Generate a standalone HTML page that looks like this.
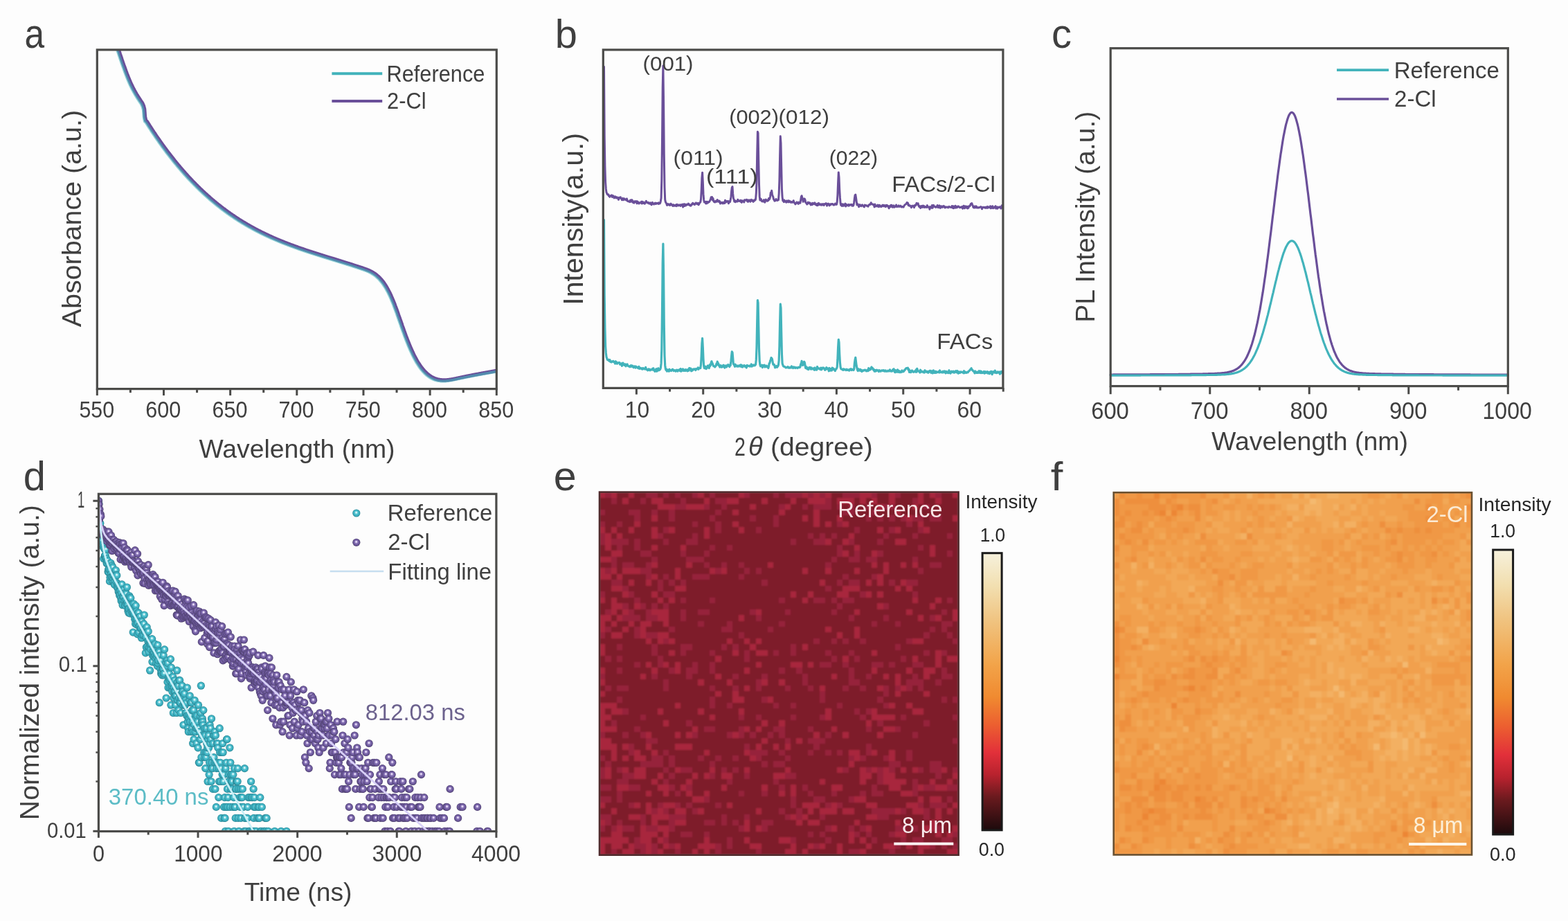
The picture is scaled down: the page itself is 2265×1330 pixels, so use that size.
<!DOCTYPE html>
<html><head><meta charset="utf-8"><title>Figure</title>
<style>html,body{margin:0;padding:0;background:#fdfdfd;}svg{display:block;}text{font-family:"Liberation Sans",Arial,sans-serif;}</style>
</head><body>
<svg width="2265" height="1330" viewBox="0 0 2265 1330">
<rect x="0" y="0" width="2265" height="1330" fill="#fdfdfd"/>
<clipPath id="ca"><rect x="140.3" y="71.9" width="577.0" height="489.70000000000005"/></clipPath>
<g clip-path="url(#ca)">
<path d="M167.0,59.2 L167.7,61.1 L168.3,63.1 L169.0,65.0 L169.6,66.9 L170.3,68.9 L170.9,70.8 L171.6,72.8 L172.2,74.7 L172.9,76.7 L173.5,78.6 L174.2,80.6 L174.8,82.5 L175.5,84.5 L176.1,86.4 L176.8,88.3 L177.4,90.2 L178.1,92.1 L178.7,93.9 L179.4,95.8 L180.1,97.6 L180.7,99.5 L181.4,101.3 L182.0,103.0 L182.7,104.8 L183.3,106.5 L184.0,108.2 L184.6,109.9 L185.3,111.5 L185.9,113.1 L186.6,114.7 L187.2,116.2 L187.9,117.7 L188.5,119.2 L189.2,120.7 L189.8,122.1 L190.5,123.4 L191.1,124.8 L191.8,126.1 L192.4,127.4 L193.1,128.6 L193.8,129.9 L194.4,131.1 L195.1,132.2 L195.7,133.4 L196.4,134.5 L197.0,135.7 L197.7,136.7 L198.3,137.8 L199.0,138.9 L199.6,139.9 L200.3,140.9 L200.9,141.9 L201.6,142.9 L202.2,143.9 L202.9,144.9 L203.5,145.8 L204.2,146.8 L204.8,147.7 L205.5,148.6 L207.4,152.9 L208.6,157.4 L209.0,162.4 L209.4,168.4 L210.6,173.9 L212.1,175.2 L212.9,176.4 L213.7,177.6 L214.5,178.9 L215.2,180.1 L216.0,181.3 L216.8,182.6 L217.6,183.8 L218.4,185.0 L219.2,186.2 L219.9,187.4 L220.7,188.6 L221.5,189.8 L222.3,191.0 L223.1,192.1 L223.9,193.3 L224.7,194.5 L225.4,195.6 L226.2,196.8 L227.0,197.9 L227.8,199.1 L228.6,200.2 L229.4,201.3 L230.2,202.4 L230.9,203.6 L231.7,204.7 L232.5,205.8 L233.3,206.9 L234.1,208.0 L234.9,209.1 L235.6,210.2 L236.4,211.3 L237.2,212.3 L238.0,213.4 L238.8,214.5 L239.6,215.5 L240.4,216.6 L241.1,217.6 L241.9,218.7 L242.7,219.7 L243.5,220.7 L244.3,221.8 L245.1,222.8 L245.9,223.8 L246.6,224.8 L247.4,225.8 L248.2,226.8 L249.0,227.8 L249.8,228.8 L250.6,229.8 L251.3,230.8 L252.1,231.8 L252.9,232.7 L253.7,233.7 L254.5,234.7 L255.3,235.6 L256.1,236.6 L256.8,237.5 L257.6,238.5 L258.4,239.4 L259.2,240.3 L260.0,241.3 L260.8,242.2 L261.6,243.1 L262.3,244.0 L263.1,244.9 L263.9,245.8 L264.7,246.7 L265.5,247.6 L266.3,248.5 L267.0,249.4 L267.8,250.3 L268.6,251.2 L269.4,252.0 L270.2,252.9 L271.0,253.8 L271.8,254.6 L272.5,255.5 L273.3,256.3 L274.1,257.2 L274.9,258.0 L275.7,258.8 L276.5,259.7 L277.3,260.5 L278.0,261.3 L278.8,262.1 L279.6,262.9 L280.4,263.7 L281.2,264.6 L282.0,265.3 L282.7,266.1 L283.5,266.9 L284.3,267.7 L285.1,268.5 L285.9,269.3 L286.7,270.1 L287.5,270.8 L288.2,271.6 L289.0,272.3 L289.8,273.1 L290.6,273.9 L291.4,274.6 L292.2,275.3 L293.0,276.1 L293.7,276.8 L294.5,277.5 L295.3,278.3 L296.1,279.0 L296.9,279.7 L297.7,280.4 L298.4,281.1 L299.2,281.8 L300.0,282.5 L300.8,283.2 L301.6,283.9 L302.4,284.6 L303.2,285.3 L303.9,286.0 L304.7,286.7 L305.5,287.4 L306.3,288.0 L307.1,288.7 L307.9,289.4 L308.7,290.0 L309.4,290.7 L310.2,291.3 L311.0,292.0 L311.8,292.6 L312.6,293.3 L313.4,293.9 L314.1,294.5 L314.9,295.2 L315.7,295.8 L316.5,296.4 L317.3,297.0 L318.1,297.6 L318.9,298.3 L319.6,298.9 L320.4,299.5 L321.2,300.1 L322.0,300.7 L322.8,301.3 L323.6,301.9 L324.4,302.4 L325.1,303.0 L325.9,303.6 L326.7,304.2 L327.5,304.8 L328.3,305.3 L329.1,305.9 L329.8,306.5 L330.6,307.0 L331.4,307.6 L332.2,308.1 L333.0,308.7 L333.8,309.2 L334.6,309.8 L335.3,310.3 L336.1,310.8 L336.9,311.4 L337.7,311.9 L338.5,312.4 L339.3,313.0 L340.1,313.5 L340.8,314.0 L341.6,314.5 L342.4,315.0 L343.2,315.5 L344.0,316.1 L344.8,316.6 L345.5,317.1 L346.3,317.6 L347.1,318.0 L347.9,318.5 L348.7,319.0 L349.5,319.5 L350.3,320.0 L351.0,320.5 L351.8,321.0 L352.6,321.4 L353.4,321.9 L354.2,322.4 L355.0,322.8 L355.8,323.3 L356.5,323.8 L357.3,324.2 L358.1,324.7 L358.9,325.1 L359.7,325.6 L360.5,326.0 L361.2,326.5 L362.0,326.9 L362.8,327.3 L363.6,327.8 L364.4,328.2 L365.2,328.6 L366.0,329.1 L366.7,329.5 L367.5,329.9 L368.3,330.3 L369.1,330.8 L369.9,331.2 L370.7,331.6 L371.5,332.0 L372.2,332.4 L373.0,332.8 L373.8,333.2 L374.6,333.6 L375.4,334.0 L376.2,334.4 L376.9,334.8 L377.7,335.2 L378.5,335.6 L379.3,336.0 L380.1,336.4 L380.9,336.8 L381.7,337.1 L382.4,337.5 L383.2,337.9 L384.0,338.3 L384.8,338.6 L385.6,339.0 L386.4,339.4 L387.2,339.8 L387.9,340.1 L388.7,340.5 L389.5,340.8 L390.3,341.2 L391.1,341.6 L391.9,341.9 L392.6,342.3 L393.4,342.6 L394.2,343.0 L395.0,343.3 L395.8,343.7 L396.6,344.0 L397.4,344.3 L398.1,344.7 L398.9,345.0 L399.7,345.3 L400.5,345.7 L401.3,346.0 L402.1,346.3 L402.8,346.7 L403.6,347.0 L404.4,347.3 L405.2,347.6 L406.0,348.0 L406.8,348.3 L407.6,348.6 L408.3,348.9 L409.1,349.2 L409.9,349.6 L410.7,349.9 L411.5,350.2 L412.3,350.5 L413.1,350.8 L413.8,351.1 L414.6,351.4 L415.4,351.7 L416.2,352.0 L417.0,352.3 L417.8,352.6 L418.5,352.9 L419.3,353.2 L420.1,353.5 L420.9,353.8 L421.7,354.1 L422.5,354.4 L423.3,354.7 L424.0,354.9 L424.8,355.2 L425.6,355.5 L426.4,355.8 L427.2,356.1 L428.0,356.4 L428.8,356.6 L429.5,356.9 L430.3,357.2 L431.1,357.5 L431.9,357.8 L432.7,358.0 L433.5,358.3 L434.2,358.6 L435.0,358.9 L435.8,359.1 L436.6,359.4 L437.4,359.7 L438.2,359.9 L439.0,360.2 L439.7,360.5 L440.5,360.7 L441.3,361.0 L442.1,361.3 L442.9,361.5 L443.7,361.8 L444.5,362.0 L445.2,362.3 L446.0,362.6 L446.8,362.8 L447.6,363.1 L448.4,363.3 L449.2,363.6 L449.9,363.8 L450.7,364.1 L451.5,364.4 L452.3,364.6 L453.1,364.9 L453.9,365.1 L454.7,365.4 L455.4,365.6 L456.2,365.9 L457.0,366.1 L457.8,366.4 L458.6,366.6 L459.4,366.9 L460.2,367.1 L460.9,367.4 L461.7,367.6 L462.5,367.9 L463.3,368.1 L464.1,368.3 L464.9,368.6 L465.6,368.8 L466.4,369.1 L467.2,369.3 L468.0,369.6 L468.8,369.8 L469.6,370.1 L470.4,370.3 L471.1,370.5 L471.9,370.8 L472.7,371.0 L473.5,371.3 L474.3,371.5 L475.1,371.8 L475.9,372.0 L476.6,372.2 L477.4,372.5 L478.2,372.7 L479.0,373.0 L479.8,373.2 L480.6,373.4 L481.3,373.7 L482.1,373.9 L482.9,374.2 L483.7,374.4 L484.5,374.7 L485.3,374.9 L486.1,375.1 L486.8,375.4 L487.6,375.6 L488.4,375.9 L489.2,376.1 L490.0,376.3 L490.8,376.6 L491.6,376.8 L492.3,377.1 L493.1,377.3 L493.9,377.6 L494.7,377.8 L495.5,378.0 L496.3,378.3 L497.0,378.5 L497.8,378.8 L498.6,379.0 L499.4,379.3 L500.2,379.5 L501.0,379.8 L501.8,380.0 L502.5,380.3 L503.3,380.5 L504.1,380.7 L504.9,381.0 L505.7,381.2 L506.5,381.5 L507.3,381.7 L508.0,382.0 L508.8,382.2 L509.6,382.5 L510.4,382.8 L511.2,383.0 L512.0,383.3 L512.7,383.5 L513.5,383.8 L514.3,384.0 L515.1,384.3 L515.9,384.5 L516.7,384.8 L517.5,385.1 L518.2,385.3 L519.0,385.6 L519.8,385.8 L520.6,386.1 L521.4,386.4 L522.2,386.6 L523.0,386.9 L523.7,387.2 L524.5,387.4 L525.3,387.7 L526.1,388.0 L526.9,388.2 L527.7,388.5 L528.4,388.8 L529.2,389.1 L530.0,389.4 L530.8,389.7 L531.6,390.0 L532.4,390.4 L533.2,390.7 L533.9,391.0 L534.7,391.4 L535.5,391.8 L536.3,392.2 L537.1,392.6 L537.9,393.1 L538.7,393.5 L539.4,394.0 L540.2,394.5 L541.0,395.0 L541.8,395.6 L542.6,396.1 L543.4,396.7 L544.1,397.3 L544.9,398.0 L545.7,398.7 L546.5,399.4 L547.3,400.1 L548.1,400.9 L548.9,401.7 L549.6,402.5 L550.4,403.4 L551.2,404.3 L552.0,405.2 L552.8,406.2 L553.6,407.2 L554.4,408.3 L555.1,409.4 L555.9,410.6 L556.7,411.8 L557.5,413.0 L558.3,414.3 L559.1,415.6 L559.8,417.0 L560.6,418.4 L561.4,419.9 L562.2,421.4 L563.0,423.0 L563.8,424.6 L564.6,426.3 L565.3,428.0 L566.1,429.8 L566.9,431.7 L567.7,433.6 L568.5,435.5 L569.3,437.5 L570.1,439.5 L570.8,441.6 L571.6,443.7 L572.4,445.8 L573.2,448.0 L574.0,450.1 L574.8,452.3 L575.5,454.6 L576.3,456.8 L577.1,459.0 L577.9,461.3 L578.7,463.5 L579.5,465.8 L580.3,468.0 L581.0,470.3 L581.8,472.5 L582.6,474.7 L583.4,477.0 L584.2,479.1 L585.0,481.3 L585.7,483.5 L586.5,485.6 L587.3,487.6 L588.1,489.7 L588.9,491.7 L589.7,493.7 L590.5,495.6 L591.2,497.6 L592.0,499.4 L592.8,501.3 L593.6,503.1 L594.4,504.9 L595.2,506.6 L596.0,508.3 L596.7,510.0 L597.5,511.6 L598.3,513.2 L599.1,514.7 L599.9,516.2 L600.7,517.7 L601.4,519.1 L602.2,520.5 L603.0,521.9 L603.8,523.2 L604.6,524.4 L605.4,525.7 L606.2,526.8 L606.9,528.0 L607.7,529.1 L608.5,530.2 L609.3,531.2 L610.1,532.2 L610.9,533.2 L611.7,534.1 L612.4,535.0 L613.2,535.9 L614.0,536.7 L614.8,537.5 L615.6,538.3 L616.4,539.0 L617.1,539.7 L617.9,540.4 L618.7,541.0 L619.5,541.6 L620.3,542.2 L621.1,542.8 L621.9,543.3 L622.6,543.8 L623.4,544.3 L624.2,544.7 L625.0,545.1 L625.8,545.5 L626.6,545.9 L627.4,546.3 L628.1,546.6 L628.9,546.9 L629.7,547.2 L630.5,547.4 L631.3,547.7 L632.1,547.9 L632.8,548.1 L633.6,548.2 L634.4,548.4 L635.2,548.5 L636.0,548.6 L636.8,548.7 L637.6,548.8 L638.3,548.9 L639.1,549.0 L639.9,549.0 L640.7,549.0 L641.5,549.0 L642.3,549.0 L643.1,549.0 L643.8,549.0 L644.6,548.9 L645.4,548.9 L646.2,548.8 L647.0,548.7 L647.8,548.6 L648.5,548.5 L649.3,548.4 L650.1,548.3 L650.9,548.2 L651.7,548.1 L652.5,547.9 L653.3,547.8 L654.0,547.7 L654.8,547.5 L655.6,547.3 L656.4,547.2 L657.2,547.0 L658.0,546.9 L658.8,546.7 L659.5,546.5 L660.3,546.4 L661.1,546.2 L661.9,546.0 L662.7,545.8 L663.5,545.7 L664.2,545.5 L665.0,545.3 L665.8,545.2 L666.6,545.0 L667.4,544.8 L668.2,544.7 L669.0,544.5 L669.7,544.4 L670.5,544.2 L671.3,544.0 L672.1,543.9 L672.9,543.7 L673.7,543.5 L674.5,543.4 L675.2,543.2 L676.0,543.1 L676.8,542.9 L677.6,542.8 L678.4,542.6 L679.2,542.5 L679.9,542.3 L680.7,542.1 L681.5,542.0 L682.3,541.8 L683.1,541.7 L683.9,541.5 L684.7,541.4 L685.4,541.2 L686.2,541.1 L687.0,540.9 L687.8,540.8 L688.6,540.6 L689.4,540.5 L690.2,540.3 L690.9,540.2 L691.7,540.0 L692.5,539.9 L693.3,539.8 L694.1,539.6 L694.9,539.5 L695.6,539.3 L696.4,539.2 L697.2,539.0 L698.0,538.9 L698.8,538.7 L699.6,538.6 L700.4,538.5 L701.1,538.3 L701.9,538.2 L702.7,538.0 L703.5,537.9 L704.3,537.8 L705.1,537.6 L705.9,537.5 L706.6,537.3 L707.4,537.2 L708.2,537.1 L709.0,536.9 L709.8,536.8 L710.6,536.6 L711.3,536.5 L712.1,536.4 L712.9,536.2 L713.7,536.1 L714.5,535.9 L715.3,535.8 L716.1,535.7 L716.8,535.5 L717.6,535.4 L718.4,535.2 L719.2,535.1 L720.0,535.0 L720.8,534.8 L721.6,534.7 L722.3,534.6 L723.1,534.4 L723.9,534.3 L724.7,534.1 L725.5,534.0 L726.3,533.9 L727.0,533.7 L727.8,533.6 L728.6,533.4 L729.4,533.3 L730.2,533.2 L731.0,533.0 L731.8,532.9 L732.5,532.8 L733.3,532.6 L734.1,532.5 L734.9,532.3 L735.7,532.2 L736.5,532.1 L737.3,531.9 L738.0,531.8 L738.8,531.6 L739.6,531.5 L740.4,531.3 L741.2,531.2 L742.0,531.1 L742.7,530.9 L743.5,530.8 L744.3,530.6 L745.1,530.5 L745.9,530.4 L746.7,530.2 L747.5,530.1 L748.2,529.9 L749.0,529.8 L749.8,529.6 L750.6,529.5 L751.4,529.3 L752.2,529.2 L753.0,529.0 L753.7,528.9 L754.5,528.7 L755.3,528.6 L756.1,528.5 L756.9,528.3 L757.7,528.2 L758.4,528.0 L759.2,527.9 L760.0,527.7 L760.8,527.5" fill="none" stroke="#6a4f99" stroke-width="5.4" stroke-linejoin="round" stroke-linecap="round" />
<path d="M165.3,60.7 L166.0,62.6 L166.6,64.6 L167.3,66.5 L167.9,68.4 L168.6,70.4 L169.2,72.3 L169.9,74.3 L170.5,76.2 L171.2,78.2 L171.8,80.1 L172.5,82.1 L173.1,84.0 L173.8,86.0 L174.4,87.9 L175.1,89.8 L175.7,91.7 L176.4,93.6 L177.0,95.4 L177.7,97.3 L178.4,99.1 L179.0,101.0 L179.7,102.8 L180.3,104.5 L181.0,106.3 L181.6,108.0 L182.3,109.7 L182.9,111.4 L183.6,113.0 L184.2,114.6 L184.9,116.2 L185.5,117.7 L186.2,119.2 L186.8,120.7 L187.5,122.2 L188.1,123.6 L188.8,124.9 L189.4,126.3 L190.1,127.6 L190.7,128.9 L191.4,130.1 L192.1,131.4 L192.7,132.6 L193.4,133.7 L194.0,134.9 L194.7,136.0 L195.3,137.2 L196.0,138.2 L196.6,139.3 L197.3,140.4 L197.9,141.4 L198.6,142.4 L199.2,143.4 L199.9,144.4 L200.5,145.4 L201.2,146.4 L201.8,147.3 L202.5,148.3 L203.1,149.2 L203.8,150.1 L205.7,154.4 L206.9,158.9 L207.3,163.9 L207.7,169.9 L208.9,175.4 L210.4,176.7 L211.2,177.9 L212.0,179.1 L212.8,180.4 L213.5,181.6 L214.3,182.8 L215.1,184.1 L215.9,185.3 L216.7,186.5 L217.5,187.7 L218.2,188.9 L219.0,190.1 L219.8,191.3 L220.6,192.5 L221.4,193.6 L222.2,194.8 L223.0,196.0 L223.7,197.1 L224.5,198.3 L225.3,199.4 L226.1,200.6 L226.9,201.7 L227.7,202.8 L228.5,203.9 L229.2,205.1 L230.0,206.2 L230.8,207.3 L231.6,208.4 L232.4,209.5 L233.2,210.6 L233.9,211.7 L234.7,212.8 L235.5,213.8 L236.3,214.9 L237.1,216.0 L237.9,217.0 L238.7,218.1 L239.4,219.1 L240.2,220.2 L241.0,221.2 L241.8,222.2 L242.6,223.3 L243.4,224.3 L244.2,225.3 L244.9,226.3 L245.7,227.3 L246.5,228.3 L247.3,229.3 L248.1,230.3 L248.9,231.3 L249.6,232.3 L250.4,233.3 L251.2,234.2 L252.0,235.2 L252.8,236.2 L253.6,237.1 L254.4,238.1 L255.1,239.0 L255.9,240.0 L256.7,240.9 L257.5,241.8 L258.3,242.8 L259.1,243.7 L259.9,244.6 L260.6,245.5 L261.4,246.4 L262.2,247.3 L263.0,248.2 L263.8,249.1 L264.6,250.0 L265.3,250.9 L266.1,251.8 L266.9,252.7 L267.7,253.5 L268.5,254.4 L269.3,255.3 L270.1,256.1 L270.8,257.0 L271.6,257.8 L272.4,258.7 L273.2,259.5 L274.0,260.3 L274.8,261.2 L275.6,262.0 L276.3,262.8 L277.1,263.6 L277.9,264.4 L278.7,265.2 L279.5,266.1 L280.3,266.8 L281.0,267.6 L281.8,268.4 L282.6,269.2 L283.4,270.0 L284.2,270.8 L285.0,271.6 L285.8,272.3 L286.5,273.1 L287.3,273.8 L288.1,274.6 L288.9,275.4 L289.7,276.1 L290.5,276.8 L291.3,277.6 L292.0,278.3 L292.8,279.0 L293.6,279.8 L294.4,280.5 L295.2,281.2 L296.0,281.9 L296.7,282.6 L297.5,283.3 L298.3,284.0 L299.1,284.7 L299.9,285.4 L300.7,286.1 L301.5,286.8 L302.2,287.5 L303.0,288.2 L303.8,288.9 L304.6,289.5 L305.4,290.2 L306.2,290.9 L307.0,291.5 L307.7,292.2 L308.5,292.8 L309.3,293.5 L310.1,294.1 L310.9,294.8 L311.7,295.4 L312.4,296.0 L313.2,296.7 L314.0,297.3 L314.8,297.9 L315.6,298.5 L316.4,299.1 L317.2,299.8 L317.9,300.4 L318.7,301.0 L319.5,301.6 L320.3,302.2 L321.1,302.8 L321.9,303.4 L322.7,303.9 L323.4,304.5 L324.2,305.1 L325.0,305.7 L325.8,306.3 L326.6,306.8 L327.4,307.4 L328.1,308.0 L328.9,308.5 L329.7,309.1 L330.5,309.6 L331.3,310.2 L332.1,310.7 L332.9,311.3 L333.6,311.8 L334.4,312.3 L335.2,312.9 L336.0,313.4 L336.8,313.9 L337.6,314.5 L338.4,315.0 L339.1,315.5 L339.9,316.0 L340.7,316.5 L341.5,317.0 L342.3,317.6 L343.1,318.1 L343.8,318.6 L344.6,319.1 L345.4,319.5 L346.2,320.0 L347.0,320.5 L347.8,321.0 L348.6,321.5 L349.3,322.0 L350.1,322.5 L350.9,322.9 L351.7,323.4 L352.5,323.9 L353.3,324.3 L354.1,324.8 L354.8,325.3 L355.6,325.7 L356.4,326.2 L357.2,326.6 L358.0,327.1 L358.8,327.5 L359.5,328.0 L360.3,328.4 L361.1,328.8 L361.9,329.3 L362.7,329.7 L363.5,330.1 L364.3,330.6 L365.0,331.0 L365.8,331.4 L366.6,331.8 L367.4,332.3 L368.2,332.7 L369.0,333.1 L369.8,333.5 L370.5,333.9 L371.3,334.3 L372.1,334.7 L372.9,335.1 L373.7,335.5 L374.5,335.9 L375.2,336.3 L376.0,336.7 L376.8,337.1 L377.6,337.5 L378.4,337.9 L379.2,338.3 L380.0,338.6 L380.7,339.0 L381.5,339.4 L382.3,339.8 L383.1,340.1 L383.9,340.5 L384.7,340.9 L385.5,341.3 L386.2,341.6 L387.0,342.0 L387.8,342.3 L388.6,342.7 L389.4,343.1 L390.2,343.4 L390.9,343.8 L391.7,344.1 L392.5,344.5 L393.3,344.8 L394.1,345.2 L394.9,345.5 L395.7,345.8 L396.4,346.2 L397.2,346.5 L398.0,346.8 L398.8,347.2 L399.6,347.5 L400.4,347.8 L401.1,348.2 L401.9,348.5 L402.7,348.8 L403.5,349.1 L404.3,349.5 L405.1,349.8 L405.9,350.1 L406.6,350.4 L407.4,350.7 L408.2,351.1 L409.0,351.4 L409.8,351.7 L410.6,352.0 L411.4,352.3 L412.1,352.6 L412.9,352.9 L413.7,353.2 L414.5,353.5 L415.3,353.8 L416.1,354.1 L416.8,354.4 L417.6,354.7 L418.4,355.0 L419.2,355.3 L420.0,355.6 L420.8,355.9 L421.6,356.2 L422.3,356.4 L423.1,356.7 L423.9,357.0 L424.7,357.3 L425.5,357.6 L426.3,357.9 L427.1,358.1 L427.8,358.4 L428.6,358.7 L429.4,359.0 L430.2,359.3 L431.0,359.5 L431.8,359.8 L432.5,360.1 L433.3,360.4 L434.1,360.6 L434.9,360.9 L435.7,361.2 L436.5,361.4 L437.3,361.7 L438.0,362.0 L438.8,362.2 L439.6,362.5 L440.4,362.8 L441.2,363.0 L442.0,363.3 L442.8,363.5 L443.5,363.8 L444.3,364.1 L445.1,364.3 L445.9,364.6 L446.7,364.8 L447.5,365.1 L448.2,365.3 L449.0,365.6 L449.8,365.9 L450.6,366.1 L451.4,366.4 L452.2,366.6 L453.0,366.9 L453.7,367.1 L454.5,367.4 L455.3,367.6 L456.1,367.9 L456.9,368.1 L457.7,368.4 L458.5,368.6 L459.2,368.9 L460.0,369.1 L460.8,369.4 L461.6,369.6 L462.4,369.8 L463.2,370.1 L463.9,370.3 L464.7,370.6 L465.5,370.8 L466.3,371.1 L467.1,371.3 L467.9,371.6 L468.7,371.8 L469.4,372.0 L470.2,372.3 L471.0,372.5 L471.8,372.8 L472.6,373.0 L473.4,373.3 L474.2,373.5 L474.9,373.7 L475.7,374.0 L476.5,374.2 L477.3,374.5 L478.1,374.7 L478.9,374.9 L479.6,375.2 L480.4,375.4 L481.2,375.7 L482.0,375.9 L482.8,376.2 L483.6,376.4 L484.4,376.6 L485.1,376.9 L485.9,377.1 L486.7,377.4 L487.5,377.6 L488.3,377.8 L489.1,378.1 L489.9,378.3 L490.6,378.6 L491.4,378.8 L492.2,379.1 L493.0,379.3 L493.8,379.5 L494.6,379.8 L495.3,380.0 L496.1,380.3 L496.9,380.5 L497.7,380.8 L498.5,381.0 L499.3,381.3 L500.1,381.5 L500.8,381.8 L501.6,382.0 L502.4,382.2 L503.2,382.5 L504.0,382.7 L504.8,383.0 L505.6,383.2 L506.3,383.5 L507.1,383.7 L507.9,384.0 L508.7,384.3 L509.5,384.5 L510.3,384.8 L511.0,385.0 L511.8,385.3 L512.6,385.5 L513.4,385.8 L514.2,386.0 L515.0,386.3 L515.8,386.6 L516.5,386.8 L517.3,387.1 L518.1,387.3 L518.9,387.6 L519.7,387.9 L520.5,388.1 L521.3,388.4 L522.0,388.7 L522.8,388.9 L523.6,389.2 L524.4,389.5 L525.2,389.7 L526.0,390.0 L526.7,390.3 L527.5,390.6 L528.3,390.9 L529.1,391.2 L529.9,391.5 L530.7,391.9 L531.5,392.2 L532.2,392.5 L533.0,392.9 L533.8,393.3 L534.6,393.7 L535.4,394.1 L536.2,394.6 L537.0,395.0 L537.7,395.5 L538.5,396.0 L539.3,396.5 L540.1,397.1 L540.9,397.6 L541.7,398.2 L542.4,398.8 L543.2,399.5 L544.0,400.2 L544.8,400.9 L545.6,401.6 L546.4,402.4 L547.2,403.2 L547.9,404.0 L548.7,404.9 L549.5,405.8 L550.3,406.7 L551.1,407.7 L551.9,408.7 L552.7,409.8 L553.4,410.9 L554.2,412.1 L555.0,413.3 L555.8,414.5 L556.6,415.8 L557.4,417.1 L558.1,418.5 L558.9,419.9 L559.7,421.4 L560.5,422.9 L561.3,424.5 L562.1,426.1 L562.9,427.8 L563.6,429.5 L564.4,431.3 L565.2,433.2 L566.0,435.1 L566.8,437.0 L567.6,439.0 L568.4,441.0 L569.1,443.1 L569.9,445.2 L570.7,447.3 L571.5,449.5 L572.3,451.6 L573.1,453.8 L573.8,456.1 L574.6,458.3 L575.4,460.5 L576.2,462.8 L577.0,465.0 L577.8,467.3 L578.6,469.5 L579.3,471.8 L580.1,474.0 L580.9,476.2 L581.7,478.5 L582.5,480.6 L583.3,482.8 L584.0,485.0 L584.8,487.1 L585.6,489.1 L586.4,491.2 L587.2,493.2 L588.0,495.2 L588.8,497.1 L589.5,499.1 L590.3,500.9 L591.1,502.8 L591.9,504.6 L592.7,506.4 L593.5,508.1 L594.3,509.8 L595.0,511.5 L595.8,513.1 L596.6,514.7 L597.4,516.2 L598.2,517.7 L599.0,519.2 L599.7,520.6 L600.5,522.0 L601.3,523.4 L602.1,524.7 L602.9,525.9 L603.7,527.2 L604.5,528.3 L605.2,529.5 L606.0,530.6 L606.8,531.7 L607.6,532.7 L608.4,533.7 L609.2,534.7 L610.0,535.6 L610.7,536.5 L611.5,537.4 L612.3,538.2 L613.1,539.0 L613.9,539.8 L614.7,540.5 L615.4,541.2 L616.2,541.9 L617.0,542.5 L617.8,543.1 L618.6,543.7 L619.4,544.3 L620.2,544.8 L620.9,545.3 L621.7,545.8 L622.5,546.2 L623.3,546.6 L624.1,547.0 L624.9,547.4 L625.7,547.8 L626.4,548.1 L627.2,548.4 L628.0,548.7 L628.8,548.9 L629.6,549.2 L630.4,549.4 L631.1,549.6 L631.9,549.7 L632.7,549.9 L633.5,550.0 L634.3,550.1 L635.1,550.2 L635.9,550.3 L636.6,550.4 L637.4,550.5 L638.2,550.5 L639.0,550.5 L639.8,550.5 L640.6,550.5 L641.4,550.5 L642.1,550.5 L642.9,550.4 L643.7,550.4 L644.5,550.3 L645.3,550.2 L646.1,550.1 L646.8,550.0 L647.6,549.9 L648.4,549.8 L649.2,549.7 L650.0,549.6 L650.8,549.4 L651.6,549.3 L652.3,549.2 L653.1,549.0 L653.9,548.8 L654.7,548.7 L655.5,548.5 L656.3,548.4 L657.1,548.2 L657.8,548.0 L658.6,547.9 L659.4,547.7 L660.2,547.5 L661.0,547.3 L661.8,547.2 L662.5,547.0 L663.3,546.8 L664.1,546.7 L664.9,546.5 L665.7,546.3 L666.5,546.2 L667.3,546.0 L668.0,545.9 L668.8,545.7 L669.6,545.5 L670.4,545.4 L671.2,545.2 L672.0,545.0 L672.8,544.9 L673.5,544.7 L674.3,544.6 L675.1,544.4 L675.9,544.3 L676.7,544.1 L677.5,544.0 L678.2,543.8 L679.0,543.6 L679.8,543.5 L680.6,543.3 L681.4,543.2 L682.2,543.0 L683.0,542.9 L683.7,542.7 L684.5,542.6 L685.3,542.4 L686.1,542.3 L686.9,542.1 L687.7,542.0 L688.5,541.8 L689.2,541.7 L690.0,541.5 L690.8,541.4 L691.6,541.3 L692.4,541.1 L693.2,541.0 L693.9,540.8 L694.7,540.7 L695.5,540.5 L696.3,540.4 L697.1,540.2 L697.9,540.1 L698.7,540.0 L699.4,539.8 L700.2,539.7 L701.0,539.5 L701.8,539.4 L702.6,539.3 L703.4,539.1 L704.2,539.0 L704.9,538.8 L705.7,538.7 L706.5,538.6 L707.3,538.4 L708.1,538.3 L708.9,538.1 L709.6,538.0 L710.4,537.9 L711.2,537.7 L712.0,537.6 L712.8,537.4 L713.6,537.3 L714.4,537.2 L715.1,537.0 L715.9,536.9 L716.7,536.7 L717.5,536.6 L718.3,536.5 L719.1,536.3 L719.9,536.2 L720.6,536.1 L721.4,535.9 L722.2,535.8 L723.0,535.6 L723.8,535.5 L724.6,535.4 L725.3,535.2 L726.1,535.1 L726.9,534.9 L727.7,534.8 L728.5,534.7 L729.3,534.5 L730.1,534.4 L730.8,534.3 L731.6,534.1 L732.4,534.0 L733.2,533.8 L734.0,533.7 L734.8,533.6 L735.6,533.4 L736.3,533.3 L737.1,533.1 L737.9,533.0 L738.7,532.8 L739.5,532.7 L740.3,532.6 L741.0,532.4 L741.8,532.3 L742.6,532.1 L743.4,532.0 L744.2,531.9 L745.0,531.7 L745.8,531.6 L746.5,531.4 L747.3,531.3 L748.1,531.1 L748.9,531.0 L749.7,530.8 L750.5,530.7 L751.3,530.5 L752.0,530.4 L752.8,530.2 L753.6,530.1 L754.4,530.0 L755.2,529.8 L756.0,529.7 L756.7,529.5 L757.5,529.4 L758.3,529.2 L759.1,529.0" fill="none" stroke="#42b3bb" stroke-width="4.0" stroke-linejoin="round" stroke-linecap="round" opacity="0.6"/>
</g>
<rect x="140.3" y="71.9" width="577.00" height="489.70" fill="none" stroke="#4b4b49" stroke-width="3.2"/>
<line x1="140.30" y1="561.6" x2="140.30" y2="571.1" stroke="#4b4b49" stroke-width="3"/>
<line x1="236.47" y1="561.6" x2="236.47" y2="571.1" stroke="#4b4b49" stroke-width="3"/>
<line x1="332.63" y1="561.6" x2="332.63" y2="571.1" stroke="#4b4b49" stroke-width="3"/>
<line x1="428.80" y1="561.6" x2="428.80" y2="571.1" stroke="#4b4b49" stroke-width="3"/>
<line x1="524.97" y1="561.6" x2="524.97" y2="571.1" stroke="#4b4b49" stroke-width="3"/>
<line x1="621.13" y1="561.6" x2="621.13" y2="571.1" stroke="#4b4b49" stroke-width="3"/>
<line x1="717.30" y1="561.6" x2="717.30" y2="571.1" stroke="#4b4b49" stroke-width="3"/>
<line x1="188.38" y1="561.6" x2="188.38" y2="567.1" stroke="#4b4b49" stroke-width="3"/>
<line x1="284.55" y1="561.6" x2="284.55" y2="567.1" stroke="#4b4b49" stroke-width="3"/>
<line x1="380.72" y1="561.6" x2="380.72" y2="567.1" stroke="#4b4b49" stroke-width="3"/>
<line x1="476.88" y1="561.6" x2="476.88" y2="567.1" stroke="#4b4b49" stroke-width="3"/>
<line x1="573.05" y1="561.6" x2="573.05" y2="567.1" stroke="#4b4b49" stroke-width="3"/>
<line x1="669.22" y1="561.6" x2="669.22" y2="567.1" stroke="#4b4b49" stroke-width="3"/>
<text x="114.43" y="603.00" font-size="32.5" fill="#3f3f3f" textLength="50.69" lengthAdjust="spacingAndGlyphs" >550</text>
<text x="210.29" y="603.00" font-size="32.5" fill="#3f3f3f" textLength="51.01" lengthAdjust="spacingAndGlyphs" >600</text>
<text x="306.45" y="603.00" font-size="32.5" fill="#3f3f3f" textLength="51.01" lengthAdjust="spacingAndGlyphs" >650</text>
<text x="402.62" y="603.00" font-size="32.5" fill="#3f3f3f" textLength="51.01" lengthAdjust="spacingAndGlyphs" >700</text>
<text x="498.79" y="603.00" font-size="32.5" fill="#3f3f3f" textLength="51.01" lengthAdjust="spacingAndGlyphs" >750</text>
<text x="595.11" y="603.00" font-size="32.5" fill="#3f3f3f" textLength="50.84" lengthAdjust="spacingAndGlyphs" >800</text>
<text x="691.28" y="603.00" font-size="32.5" fill="#3f3f3f" textLength="50.84" lengthAdjust="spacingAndGlyphs" >850</text>
<text x="287.41" y="660.50" font-size="37.5" fill="#3f3f3f" textLength="283.10" lengthAdjust="spacingAndGlyphs" >Wavelength (nm)</text>
<text transform="translate(116.80,472.30) rotate(-90)" x="0" y="0" font-size="38" fill="#3f3f3f" textLength="313.32" lengthAdjust="spacingAndGlyphs">Absorbance (a.u.)</text>
<text x="35.44" y="68.60" font-size="59" fill="#3f3f3f" textLength="28.62" lengthAdjust="spacingAndGlyphs" >a</text>
<line x1="479.4" y1="106.2" x2="552.2" y2="106.2" stroke="#42b3bb" stroke-width="4"/>
<line x1="479.4" y1="146" x2="552.2" y2="146" stroke="#6a4f99" stroke-width="4"/>
<text x="558.54" y="117.60" font-size="32.3" fill="#3f3f3f" textLength="141.81" lengthAdjust="spacingAndGlyphs" >Reference</text>
<text x="559.06" y="157.00" font-size="32.3" fill="#3f3f3f" textLength="56.45" lengthAdjust="spacingAndGlyphs" >2-Cl</text>
<clipPath id="cb"><rect x="871.3" y="71.9" width="577.6000000000001" height="488.5"/></clipPath>
<g clip-path="url(#cb)">
<path d="M871.8,97.8 L872.5,96.4 L873.2,196.2 L873.9,240.3 L874.6,263.1 L875.3,272.9 L876.0,277.7 L876.7,279.4 L877.4,281.0 L878.1,281.1 L878.8,280.7 L879.5,283.1 L880.2,283.3 L880.9,284.3 L881.6,282.8 L882.3,282.6 L883.0,282.6 L883.7,281.8 L884.4,284.6 L885.1,282.7 L885.8,282.8 L886.5,284.0 L887.2,285.9 L887.9,284.9 L888.6,283.8 L889.3,284.3 L890.0,285.9 L890.7,285.3 L891.4,284.9 L892.1,285.7 L892.8,286.9 L893.5,288.3 L894.2,285.3 L894.9,286.1 L895.6,286.1 L896.3,284.7 L897.0,286.4 L897.7,286.5 L898.4,288.8 L899.1,287.7 L899.8,286.3 L900.5,288.8 L901.2,287.9 L901.9,286.7 L902.6,288.0 L903.3,288.2 L904.0,288.1 L904.7,289.1 L905.4,287.0 L906.1,289.1 L906.8,290.6 L907.5,290.6 L908.2,291.0 L908.9,291.1 L909.6,291.6 L910.3,289.2 L911.0,291.3 L911.7,288.7 L912.4,290.1 L913.1,288.9 L913.8,292.0 L914.5,292.4 L915.2,291.0 L915.9,293.1 L916.6,290.7 L917.3,291.6 L918.0,291.7 L918.7,290.6 L919.4,292.2 L920.1,293.8 L920.8,290.9 L921.5,292.9 L922.2,292.0 L922.9,294.0 L923.6,292.8 L924.3,293.0 L925.0,293.1 L925.7,292.7 L926.4,291.2 L927.1,294.0 L927.8,291.3 L928.5,293.0 L929.2,293.4 L929.9,292.1 L930.6,293.1 L931.3,294.2 L932.0,293.0 L932.7,292.2 L933.4,290.3 L934.1,292.3 L934.8,292.7 L935.5,292.8 L936.2,292.4 L936.9,293.8 L937.6,292.9 L938.3,293.4 L939.0,294.3 L939.7,292.8 L940.4,293.3 L941.1,295.8 L941.8,294.6 L942.5,292.4 L943.2,293.7 L943.9,294.4 L944.6,295.0 L945.3,294.0 L946.0,293.3 L946.7,293.1 L947.4,294.5 L948.1,294.1 L948.8,293.3 L949.5,293.6 L950.2,293.3 L950.9,294.4 L951.6,292.8 L952.3,293.9 L953.0,293.9 L953.7,293.1 L954.4,290.3 L955.1,286.0 L955.8,259.9 L956.5,203.2 L957.2,126.0 L957.9,95.0 L958.6,147.5 L959.3,223.4 L960.0,270.7 L960.7,288.4 L961.4,291.8 L962.1,292.9 L962.8,294.0 L963.5,296.4 L964.2,295.6 L964.9,294.5 L965.6,295.8 L966.3,294.9 L967.0,295.1 L967.7,296.5 L968.4,295.2 L969.1,294.2 L969.8,295.1 L970.5,296.2 L971.2,296.3 L971.9,297.5 L972.6,295.6 L973.3,297.1 L974.0,296.8 L974.7,296.3 L975.4,297.3 L976.1,297.0 L976.8,295.6 L977.5,297.6 L978.2,295.3 L978.9,296.6 L979.6,296.5 L980.3,296.9 L981.0,295.7 L981.7,296.4 L982.4,296.3 L983.1,297.4 L983.8,295.6 L984.5,296.4 L985.2,296.1 L985.9,295.0 L986.6,298.9 L987.3,296.1 L988.0,294.7 L988.7,297.5 L989.4,295.0 L990.1,296.4 L990.8,296.9 L991.5,295.3 L992.2,295.5 L992.9,295.3 L993.6,295.7 L994.3,294.1 L995.0,294.5 L995.7,295.5 L996.4,296.6 L997.1,296.2 L997.8,297.2 L998.5,296.1 L999.2,294.8 L999.9,295.1 L1000.6,293.2 L1001.3,294.1 L1002.0,294.0 L1002.7,295.2 L1003.4,295.5 L1004.1,294.1 L1004.8,294.0 L1005.5,292.9 L1006.2,294.2 L1006.9,294.5 L1007.6,294.5 L1008.3,293.2 L1009.0,295.8 L1009.7,294.8 L1010.4,293.4 L1011.1,292.6 L1011.8,291.8 L1012.5,287.8 L1013.2,275.1 L1013.9,256.9 L1014.6,249.2 L1015.3,262.7 L1016.0,280.4 L1016.7,288.7 L1017.4,291.9 L1018.1,291.6 L1018.8,291.5 L1019.5,293.9 L1020.2,291.4 L1020.9,293.8 L1021.6,291.4 L1022.3,291.8 L1023.0,292.6 L1023.7,291.4 L1024.4,291.6 L1025.1,290.5 L1025.8,289.3 L1026.5,287.7 L1027.2,284.8 L1027.9,285.7 L1028.6,284.6 L1029.3,288.8 L1030.0,286.4 L1030.7,290.3 L1031.4,291.3 L1032.1,290.6 L1032.8,292.0 L1033.5,291.5 L1034.2,290.2 L1034.9,290.0 L1035.6,291.3 L1036.3,288.6 L1037.0,289.9 L1037.7,290.3 L1038.4,291.4 L1039.1,290.1 L1039.8,291.3 L1040.5,294.0 L1041.2,292.7 L1041.9,292.3 L1042.6,292.8 L1043.3,293.6 L1044.0,292.3 L1044.7,293.8 L1045.4,292.8 L1046.1,291.9 L1046.8,293.4 L1047.5,289.3 L1048.2,291.0 L1048.9,291.8 L1049.6,290.5 L1050.3,291.2 L1051.0,290.6 L1051.7,290.5 L1052.4,293.8 L1053.1,291.6 L1053.8,290.7 L1054.5,291.6 L1055.2,288.4 L1055.9,284.7 L1056.6,276.0 L1057.3,270.7 L1058.0,269.6 L1058.7,279.9 L1059.4,286.2 L1060.1,288.0 L1060.8,291.1 L1061.5,289.3 L1062.2,291.8 L1062.9,290.7 L1063.6,290.9 L1064.3,290.3 L1065.0,291.1 L1065.7,288.3 L1066.4,290.3 L1067.1,289.5 L1067.8,290.4 L1068.5,290.1 L1069.2,290.7 L1069.9,289.2 L1070.6,291.9 L1071.3,292.4 L1072.0,289.8 L1072.7,290.0 L1073.4,290.3 L1074.1,291.2 L1074.8,291.9 L1075.5,288.8 L1076.2,289.3 L1076.9,288.9 L1077.6,288.8 L1078.3,288.3 L1079.0,290.3 L1079.7,288.7 L1080.4,291.4 L1081.1,290.8 L1081.8,288.9 L1082.5,288.9 L1083.2,289.3 L1083.9,291.3 L1084.6,289.0 L1085.3,288.4 L1086.0,289.8 L1086.7,290.2 L1087.4,289.2 L1088.1,291.4 L1088.8,290.0 L1089.5,290.1 L1090.2,288.6 L1090.9,289.0 L1091.6,287.5 L1092.3,279.1 L1093.0,262.1 L1093.7,222.8 L1094.4,190.2 L1095.1,192.1 L1095.8,232.6 L1096.5,266.2 L1097.2,283.9 L1097.9,289.1 L1098.6,288.0 L1099.3,287.4 L1100.0,289.5 L1100.7,290.8 L1101.4,290.1 L1102.1,290.9 L1102.8,291.0 L1103.5,288.6 L1104.2,290.4 L1104.9,292.1 L1105.6,289.5 L1106.3,288.1 L1107.0,289.8 L1107.7,289.5 L1108.4,290.4 L1109.1,288.9 L1109.8,289.5 L1110.5,286.5 L1111.2,288.2 L1111.9,286.8 L1112.6,283.8 L1113.3,278.3 L1114.0,278.4 L1114.7,275.3 L1115.4,280.3 L1116.1,282.7 L1116.8,284.4 L1117.5,287.7 L1118.2,288.7 L1118.9,290.1 L1119.6,289.6 L1120.3,289.7 L1121.0,287.5 L1121.7,288.3 L1122.4,288.9 L1123.1,289.5 L1123.8,288.8 L1124.5,288.7 L1125.2,279.5 L1125.9,260.0 L1126.6,225.3 L1127.3,196.8 L1128.0,206.4 L1128.7,240.8 L1129.4,272.8 L1130.1,284.6 L1130.8,289.9 L1131.5,289.7 L1132.2,291.6 L1132.9,289.0 L1133.6,291.1 L1134.3,290.3 L1135.0,291.1 L1135.7,292.2 L1136.4,290.0 L1137.1,289.9 L1137.8,290.4 L1138.5,291.7 L1139.2,289.7 L1139.9,291.8 L1140.6,290.5 L1141.3,290.7 L1142.0,291.6 L1142.7,292.4 L1143.4,291.5 L1144.1,291.8 L1144.8,292.3 L1145.5,292.1 L1146.2,289.8 L1146.9,292.1 L1147.6,292.7 L1148.3,293.8 L1149.0,294.8 L1149.7,293.5 L1150.4,292.9 L1151.1,291.9 L1151.8,293.0 L1152.5,293.8 L1153.2,294.3 L1153.9,292.1 L1154.6,293.2 L1155.3,293.3 L1156.0,293.0 L1156.7,288.4 L1157.4,284.2 L1158.1,282.7 L1158.8,285.3 L1159.5,288.3 L1160.2,291.3 L1160.9,290.0 L1161.6,286.9 L1162.3,287.2 L1163.0,288.6 L1163.7,292.3 L1164.4,292.9 L1165.1,293.7 L1165.8,295.0 L1166.5,293.8 L1167.2,292.1 L1167.9,293.7 L1168.6,293.3 L1169.3,292.6 L1170.0,293.3 L1170.7,295.1 L1171.4,295.9 L1172.1,293.7 L1172.8,295.3 L1173.5,295.5 L1174.2,293.2 L1174.9,294.4 L1175.6,294.4 L1176.3,294.6 L1177.0,292.9 L1177.7,294.2 L1178.4,295.6 L1179.1,295.9 L1179.8,296.5 L1180.5,294.3 L1181.2,296.6 L1181.9,295.4 L1182.6,293.4 L1183.3,295.6 L1184.0,294.5 L1184.7,295.4 L1185.4,294.8 L1186.1,296.1 L1186.8,295.2 L1187.5,294.7 L1188.2,296.0 L1188.9,295.3 L1189.6,294.7 L1190.3,296.4 L1191.0,294.7 L1191.7,294.5 L1192.4,294.6 L1193.1,293.7 L1193.8,294.7 L1194.5,297.1 L1195.2,294.4 L1195.9,295.3 L1196.6,294.2 L1197.3,294.7 L1198.0,296.9 L1198.7,296.3 L1199.4,294.8 L1200.1,295.4 L1200.8,294.6 L1201.5,294.7 L1202.2,294.6 L1202.9,294.6 L1203.6,295.8 L1204.3,296.1 L1205.0,296.0 L1205.7,295.3 L1206.4,294.1 L1207.1,295.3 L1207.8,294.2 L1208.5,295.3 L1209.2,291.6 L1209.9,282.1 L1210.6,263.9 L1211.3,248.9 L1212.0,255.9 L1212.7,273.4 L1213.4,285.2 L1214.1,293.3 L1214.8,296.3 L1215.5,294.4 L1216.2,297.4 L1216.9,295.4 L1217.6,294.8 L1218.3,297.3 L1219.0,296.2 L1219.7,295.3 L1220.4,296.9 L1221.1,294.1 L1221.8,297.9 L1222.5,295.3 L1223.2,296.4 L1223.9,295.8 L1224.6,296.6 L1225.3,297.1 L1226.0,295.4 L1226.7,297.0 L1227.4,295.9 L1228.1,295.6 L1228.8,296.0 L1229.5,295.3 L1230.2,295.5 L1230.9,297.2 L1231.6,296.1 L1232.3,297.2 L1233.0,295.9 L1233.7,292.2 L1234.4,286.3 L1235.1,281.6 L1235.8,281.1 L1236.5,285.5 L1237.2,290.7 L1237.9,295.9 L1238.6,294.4 L1239.3,295.1 L1240.0,296.6 L1240.7,298.7 L1241.4,297.0 L1242.1,295.6 L1242.8,297.2 L1243.5,297.3 L1244.2,297.6 L1244.9,296.3 L1245.6,295.9 L1246.3,296.8 L1247.0,297.2 L1247.7,298.4 L1248.4,298.9 L1249.1,296.1 L1249.8,296.3 L1250.5,296.8 L1251.2,296.6 L1251.9,297.3 L1252.6,297.4 L1253.3,297.1 L1254.0,298.2 L1254.7,296.7 L1255.4,295.8 L1256.1,295.2 L1256.8,295.4 L1257.5,294.6 L1258.2,292.7 L1258.9,294.7 L1259.6,294.6 L1260.3,295.0 L1261.0,295.4 L1261.7,295.2 L1262.4,296.1 L1263.1,298.9 L1263.8,294.9 L1264.5,297.3 L1265.2,297.9 L1265.9,297.3 L1266.6,296.9 L1267.3,298.0 L1268.0,296.1 L1268.7,297.8 L1269.4,298.7 L1270.1,296.2 L1270.8,296.4 L1271.5,297.4 L1272.2,298.3 L1272.9,298.6 L1273.6,298.0 L1274.3,296.7 L1275.0,296.2 L1275.7,297.6 L1276.4,297.8 L1277.1,296.3 L1277.8,297.5 L1278.5,297.7 L1279.2,298.5 L1279.9,296.4 L1280.6,298.0 L1281.3,296.3 L1282.0,297.0 L1282.7,297.4 L1283.4,299.0 L1284.1,300.8 L1284.8,297.8 L1285.5,298.0 L1286.2,298.6 L1286.9,296.2 L1287.6,298.3 L1288.3,296.3 L1289.0,299.2 L1289.7,299.1 L1290.4,298.1 L1291.1,296.8 L1291.8,299.3 L1292.5,297.9 L1293.2,297.8 L1293.9,298.3 L1294.6,296.0 L1295.3,298.1 L1296.0,298.7 L1296.7,298.1 L1297.4,297.9 L1298.1,296.8 L1298.8,298.4 L1299.5,298.0 L1300.2,297.8 L1300.9,297.2 L1301.6,298.6 L1302.3,299.0 L1303.0,298.2 L1303.7,298.7 L1304.4,299.0 L1305.1,299.1 L1305.8,297.5 L1306.5,296.5 L1307.2,295.6 L1307.9,295.1 L1308.6,294.6 L1309.3,294.2 L1310.0,292.5 L1310.7,293.4 L1311.4,293.1 L1312.1,296.4 L1312.8,295.7 L1313.5,297.2 L1314.2,296.7 L1314.9,297.4 L1315.6,297.2 L1316.3,299.7 L1317.0,298.4 L1317.7,297.9 L1318.4,297.1 L1319.1,297.4 L1319.8,298.6 L1320.5,299.7 L1321.2,296.5 L1321.9,296.8 L1322.6,296.9 L1323.3,295.5 L1324.0,293.4 L1324.7,294.3 L1325.4,295.1 L1326.1,293.7 L1326.8,296.6 L1327.5,298.3 L1328.2,298.8 L1328.9,297.7 L1329.6,300.5 L1330.3,298.8 L1331.0,297.5 L1331.7,299.3 L1332.4,297.2 L1333.1,299.2 L1333.8,297.1 L1334.5,299.1 L1335.2,297.8 L1335.9,299.5 L1336.6,299.1 L1337.3,298.8 L1338.0,298.5 L1338.7,299.5 L1339.4,296.6 L1340.1,298.9 L1340.8,298.9 L1341.5,299.0 L1342.2,299.3 L1342.9,302.2 L1343.6,298.6 L1344.3,299.3 L1345.0,298.7 L1345.7,300.1 L1346.4,296.5 L1347.1,300.2 L1347.8,297.9 L1348.5,296.3 L1349.2,297.5 L1349.9,298.4 L1350.6,298.8 L1351.3,298.6 L1352.0,299.4 L1352.7,298.6 L1353.4,298.6 L1354.1,296.5 L1354.8,299.2 L1355.5,299.7 L1356.2,298.3 L1356.9,296.8 L1357.6,297.4 L1358.3,300.4 L1359.0,298.1 L1359.7,298.1 L1360.4,297.9 L1361.1,299.5 L1361.8,298.2 L1362.5,297.9 L1363.2,297.3 L1363.9,298.7 L1364.6,299.8 L1365.3,298.7 L1366.0,299.7 L1366.7,299.0 L1367.4,299.0 L1368.1,299.1 L1368.8,298.9 L1369.5,299.9 L1370.2,299.4 L1370.9,298.3 L1371.6,299.1 L1372.3,298.9 L1373.0,299.4 L1373.7,299.1 L1374.4,299.4 L1375.1,297.5 L1375.8,299.4 L1376.5,300.3 L1377.2,297.7 L1377.9,300.6 L1378.6,299.3 L1379.3,298.8 L1380.0,297.2 L1380.7,300.1 L1381.4,298.1 L1382.1,298.6 L1382.8,299.6 L1383.5,298.1 L1384.2,298.1 L1384.9,298.0 L1385.6,299.0 L1386.3,299.7 L1387.0,299.5 L1387.7,299.6 L1388.4,298.8 L1389.1,299.3 L1389.8,298.5 L1390.5,301.2 L1391.2,299.4 L1391.9,297.2 L1392.6,298.1 L1393.3,300.8 L1394.0,297.8 L1394.7,298.8 L1395.4,299.6 L1396.1,298.1 L1396.8,300.3 L1397.5,300.9 L1398.2,298.4 L1398.9,300.3 L1399.6,298.0 L1400.3,297.4 L1401.0,297.6 L1401.7,296.2 L1402.4,294.2 L1403.1,295.2 L1403.8,293.6 L1404.5,295.6 L1405.2,296.7 L1405.9,299.4 L1406.6,299.9 L1407.3,299.9 L1408.0,298.0 L1408.7,299.5 L1409.4,299.8 L1410.1,297.8 L1410.8,298.6 L1411.5,300.0 L1412.2,300.1 L1412.9,299.7 L1413.6,300.0 L1414.3,299.7 L1415.0,299.6 L1415.7,299.3 L1416.4,298.6 L1417.1,299.2 L1417.8,299.1 L1418.5,301.8 L1419.2,299.7 L1419.9,299.5 L1420.6,299.3 L1421.3,299.4 L1422.0,299.2 L1422.7,300.1 L1423.4,299.5 L1424.1,300.3 L1424.8,298.8 L1425.5,299.9 L1426.2,300.4 L1426.9,298.4 L1427.6,299.7 L1428.3,299.8 L1429.0,299.2 L1429.7,299.1 L1430.4,297.7 L1431.1,300.7 L1431.8,298.6 L1432.5,298.3 L1433.2,300.2 L1433.9,297.8 L1434.6,300.6 L1435.3,300.0 L1436.0,300.2 L1436.7,299.5 L1437.4,298.4 L1438.1,297.7 L1438.8,301.1 L1439.5,299.2 L1440.2,299.1 L1440.9,301.2 L1441.6,299.0 L1442.3,299.4 L1443.0,299.4 L1443.7,299.5 L1444.4,298.6 L1445.1,299.1 L1445.8,301.0 L1446.5,300.4 L1447.2,296.7 L1447.9,297.7 L1448.6,300.0" fill="none" stroke="#6a4f99" stroke-width="3.0" stroke-linejoin="round" stroke-linecap="round" stroke-linejoin="miter"/>
<path d="M871.8,317.9 L872.5,317.6 L873.2,427.0 L873.9,474.0 L874.6,500.1 L875.3,509.9 L876.0,515.4 L876.7,517.6 L877.4,519.5 L878.1,519.2 L878.8,519.3 L879.5,521.0 L880.2,520.7 L880.9,519.6 L881.6,522.4 L882.3,522.5 L883.0,523.0 L883.7,521.9 L884.4,522.3 L885.1,521.8 L885.8,521.5 L886.5,522.7 L887.2,523.0 L887.9,522.4 L888.6,525.1 L889.3,521.9 L890.0,522.8 L890.7,523.2 L891.4,525.3 L892.1,524.0 L892.8,524.1 L893.5,523.7 L894.2,524.0 L894.9,523.7 L895.6,526.2 L896.3,525.9 L897.0,526.5 L897.7,525.0 L898.4,528.4 L899.1,525.0 L899.8,524.1 L900.5,526.1 L901.2,526.6 L901.9,527.4 L902.6,525.8 L903.3,527.6 L904.0,528.8 L904.7,526.4 L905.4,526.7 L906.1,525.9 L906.8,528.0 L907.5,528.7 L908.2,528.8 L908.9,529.0 L909.6,529.7 L910.3,528.5 L911.0,529.5 L911.7,527.7 L912.4,528.0 L913.1,529.2 L913.8,528.3 L914.5,529.8 L915.2,530.7 L915.9,529.9 L916.6,528.9 L917.3,529.0 L918.0,531.2 L918.7,529.2 L919.4,530.2 L920.1,530.0 L920.8,530.5 L921.5,531.6 L922.2,530.1 L922.9,529.4 L923.6,532.4 L924.3,531.3 L925.0,532.0 L925.7,531.4 L926.4,532.3 L927.1,532.9 L927.8,533.2 L928.5,531.7 L929.2,531.7 L929.9,532.6 L930.6,532.5 L931.3,533.0 L932.0,531.9 L932.7,530.4 L933.4,533.2 L934.1,533.7 L934.8,533.6 L935.5,534.8 L936.2,534.1 L936.9,532.9 L937.6,534.4 L938.3,533.4 L939.0,534.8 L939.7,533.8 L940.4,534.1 L941.1,534.0 L941.8,533.9 L942.5,532.4 L943.2,534.0 L943.9,531.8 L944.6,534.6 L945.3,535.2 L946.0,536.3 L946.7,534.6 L947.4,533.6 L948.1,532.7 L948.8,536.3 L949.5,532.9 L950.2,535.2 L950.9,531.9 L951.6,534.1 L952.3,534.6 L953.0,534.0 L953.7,533.2 L954.4,531.0 L955.1,524.9 L955.8,504.5 L956.5,450.4 L957.2,379.5 L957.9,352.1 L958.6,397.5 L959.3,469.6 L960.0,513.8 L960.7,527.7 L961.4,532.6 L962.1,534.5 L962.8,533.2 L963.5,536.1 L964.2,535.8 L964.9,534.1 L965.6,535.5 L966.3,536.2 L967.0,533.4 L967.7,535.3 L968.4,534.6 L969.1,534.5 L969.8,535.5 L970.5,534.3 L971.2,533.4 L971.9,533.4 L972.6,534.8 L973.3,535.5 L974.0,534.9 L974.7,534.7 L975.4,534.9 L976.1,536.2 L976.8,535.4 L977.5,534.2 L978.2,534.6 L978.9,536.1 L979.6,534.3 L980.3,534.5 L981.0,534.9 L981.7,533.8 L982.4,535.7 L983.1,532.6 L983.8,536.2 L984.5,534.3 L985.2,533.5 L985.9,535.0 L986.6,532.9 L987.3,535.2 L988.0,535.4 L988.7,534.0 L989.4,534.1 L990.1,535.4 L990.8,533.7 L991.5,534.4 L992.2,534.7 L992.9,535.8 L993.6,533.7 L994.3,534.2 L995.0,535.2 L995.7,531.5 L996.4,533.7 L997.1,532.0 L997.8,532.0 L998.5,535.8 L999.2,534.0 L999.9,535.2 L1000.6,533.3 L1001.3,534.0 L1002.0,533.0 L1002.7,532.8 L1003.4,533.1 L1004.1,533.2 L1004.8,534.5 L1005.5,532.7 L1006.2,533.1 L1006.9,532.4 L1007.6,532.6 L1008.3,531.0 L1009.0,533.3 L1009.7,531.5 L1010.4,531.9 L1011.1,531.3 L1011.8,531.5 L1012.5,526.8 L1013.2,514.2 L1013.9,496.2 L1014.6,488.7 L1015.3,501.6 L1016.0,518.6 L1016.7,528.7 L1017.4,531.7 L1018.1,531.2 L1018.8,529.2 L1019.5,532.3 L1020.2,532.6 L1020.9,530.0 L1021.6,529.9 L1022.3,528.1 L1023.0,530.9 L1023.7,529.0 L1024.4,531.6 L1025.1,526.9 L1025.8,528.5 L1026.5,527.2 L1027.2,523.7 L1027.9,521.8 L1028.6,523.6 L1029.3,525.0 L1030.0,527.3 L1030.7,528.7 L1031.4,528.6 L1032.1,529.0 L1032.8,530.0 L1033.5,528.6 L1034.2,528.3 L1034.9,525.3 L1035.6,524.6 L1036.3,522.2 L1037.0,526.6 L1037.7,524.8 L1038.4,527.9 L1039.1,527.4 L1039.8,530.1 L1040.5,529.3 L1041.2,527.7 L1041.9,528.5 L1042.6,530.3 L1043.3,528.9 L1044.0,529.5 L1044.7,527.4 L1045.4,527.4 L1046.1,529.5 L1046.8,531.2 L1047.5,528.3 L1048.2,529.4 L1048.9,527.8 L1049.6,530.0 L1050.3,528.2 L1051.0,528.2 L1051.7,526.7 L1052.4,528.1 L1053.1,528.6 L1053.8,529.7 L1054.5,526.8 L1055.2,527.5 L1055.9,521.9 L1056.6,514.5 L1057.3,507.9 L1058.0,509.0 L1058.7,516.9 L1059.4,526.0 L1060.1,526.0 L1060.8,527.6 L1061.5,529.3 L1062.2,526.2 L1062.9,528.8 L1063.6,527.8 L1064.3,528.5 L1065.0,529.2 L1065.7,528.2 L1066.4,528.2 L1067.1,529.1 L1067.8,529.0 L1068.5,527.7 L1069.2,528.2 L1069.9,527.0 L1070.6,529.7 L1071.3,527.2 L1072.0,528.6 L1072.7,530.1 L1073.4,529.2 L1074.1,528.1 L1074.8,527.7 L1075.5,527.8 L1076.2,529.3 L1076.9,528.7 L1077.6,528.4 L1078.3,531.0 L1079.0,527.5 L1079.7,527.9 L1080.4,528.0 L1081.1,528.6 L1081.8,528.7 L1082.5,528.1 L1083.2,529.1 L1083.9,528.9 L1084.6,528.0 L1085.3,525.9 L1086.0,529.1 L1086.7,527.3 L1087.4,527.6 L1088.1,528.1 L1088.8,526.9 L1089.5,527.2 L1090.2,527.9 L1090.9,527.1 L1091.6,526.4 L1092.3,519.4 L1093.0,501.4 L1093.7,465.3 L1094.4,433.6 L1095.1,437.3 L1095.8,471.8 L1096.5,504.1 L1097.2,521.6 L1097.9,526.8 L1098.6,528.9 L1099.3,528.1 L1100.0,528.0 L1100.7,527.3 L1101.4,530.6 L1102.1,527.8 L1102.8,527.7 L1103.5,528.7 L1104.2,527.1 L1104.9,530.0 L1105.6,529.2 L1106.3,529.5 L1107.0,528.1 L1107.7,528.6 L1108.4,529.9 L1109.1,529.8 L1109.8,531.5 L1110.5,529.0 L1111.2,524.6 L1111.9,524.3 L1112.6,521.0 L1113.3,519.6 L1114.0,516.6 L1114.7,517.4 L1115.4,518.6 L1116.1,522.5 L1116.8,526.3 L1117.5,526.4 L1118.2,526.3 L1118.9,528.0 L1119.6,530.9 L1120.3,529.7 L1121.0,529.2 L1121.7,528.5 L1122.4,530.4 L1123.1,529.5 L1123.8,528.7 L1124.5,526.7 L1125.2,520.3 L1125.9,500.1 L1126.6,466.2 L1127.3,439.2 L1128.0,444.7 L1128.7,480.2 L1129.4,511.2 L1130.1,524.7 L1130.8,526.9 L1131.5,528.7 L1132.2,529.2 L1132.9,529.4 L1133.6,529.5 L1134.3,530.0 L1135.0,531.0 L1135.7,530.9 L1136.4,530.8 L1137.1,530.6 L1137.8,529.6 L1138.5,529.9 L1139.2,531.1 L1139.9,530.6 L1140.6,531.3 L1141.3,530.8 L1142.0,530.6 L1142.7,531.0 L1143.4,529.0 L1144.1,530.5 L1144.8,530.1 L1145.5,531.5 L1146.2,530.0 L1146.9,531.0 L1147.6,530.3 L1148.3,531.2 L1149.0,531.5 L1149.7,530.6 L1150.4,530.9 L1151.1,531.0 L1151.8,531.6 L1152.5,530.6 L1153.2,530.9 L1153.9,530.5 L1154.6,529.9 L1155.3,530.6 L1156.0,529.6 L1156.7,525.7 L1157.4,524.9 L1158.1,521.4 L1158.8,524.9 L1159.5,527.5 L1160.2,526.7 L1160.9,526.7 L1161.6,522.3 L1162.3,523.6 L1163.0,527.4 L1163.7,531.5 L1164.4,531.8 L1165.1,529.9 L1165.8,531.2 L1166.5,533.1 L1167.2,531.8 L1167.9,533.5 L1168.6,531.0 L1169.3,531.2 L1170.0,530.5 L1170.7,531.5 L1171.4,533.2 L1172.1,531.0 L1172.8,532.8 L1173.5,532.5 L1174.2,532.9 L1174.9,531.9 L1175.6,532.2 L1176.3,534.3 L1177.0,531.0 L1177.7,533.1 L1178.4,533.9 L1179.1,532.8 L1179.8,534.1 L1180.5,529.5 L1181.2,532.2 L1181.9,531.4 L1182.6,532.1 L1183.3,532.5 L1184.0,533.1 L1184.7,531.8 L1185.4,533.6 L1186.1,531.2 L1186.8,533.8 L1187.5,532.6 L1188.2,531.1 L1188.9,531.1 L1189.6,531.1 L1190.3,532.0 L1191.0,533.1 L1191.7,534.3 L1192.4,533.8 L1193.1,531.7 L1193.8,530.8 L1194.5,532.8 L1195.2,531.7 L1195.9,533.0 L1196.6,532.5 L1197.3,535.8 L1198.0,531.5 L1198.7,533.6 L1199.4,535.1 L1200.1,532.9 L1200.8,532.5 L1201.5,535.0 L1202.2,531.2 L1202.9,531.6 L1203.6,532.1 L1204.3,533.7 L1205.0,534.1 L1205.7,533.2 L1206.4,535.5 L1207.1,533.0 L1207.8,533.0 L1208.5,532.0 L1209.2,530.2 L1209.9,519.2 L1210.6,501.7 L1211.3,490.3 L1212.0,494.2 L1212.7,511.0 L1213.4,523.3 L1214.1,530.0 L1214.8,532.7 L1215.5,533.1 L1216.2,533.1 L1216.9,533.4 L1217.6,534.4 L1218.3,532.8 L1219.0,534.1 L1219.7,533.5 L1220.4,533.4 L1221.1,533.7 L1221.8,534.7 L1222.5,534.3 L1223.2,533.3 L1223.9,534.4 L1224.6,534.2 L1225.3,534.5 L1226.0,533.9 L1226.7,535.2 L1227.4,534.6 L1228.1,533.0 L1228.8,532.9 L1229.5,532.8 L1230.2,534.6 L1230.9,533.5 L1231.6,533.8 L1232.3,533.9 L1233.0,534.5 L1233.7,532.8 L1234.4,524.5 L1235.1,519.6 L1235.8,516.4 L1236.5,522.7 L1237.2,528.2 L1237.9,531.3 L1238.6,534.5 L1239.3,535.6 L1240.0,532.9 L1240.7,534.4 L1241.4,534.7 L1242.1,535.2 L1242.8,533.5 L1243.5,534.0 L1244.2,535.6 L1244.9,536.5 L1245.6,534.8 L1246.3,535.7 L1247.0,534.9 L1247.7,535.2 L1248.4,534.4 L1249.1,534.5 L1249.8,534.2 L1250.5,534.9 L1251.2,535.9 L1251.9,535.0 L1252.6,535.5 L1253.3,534.2 L1254.0,535.6 L1254.7,531.7 L1255.4,533.4 L1256.1,534.3 L1256.8,532.3 L1257.5,533.7 L1258.2,532.0 L1258.9,530.1 L1259.6,531.6 L1260.3,531.3 L1261.0,533.1 L1261.7,534.3 L1262.4,533.4 L1263.1,536.1 L1263.8,534.4 L1264.5,536.2 L1265.2,535.0 L1265.9,535.5 L1266.6,534.3 L1267.3,534.9 L1268.0,534.8 L1268.7,535.5 L1269.4,536.6 L1270.1,534.7 L1270.8,535.1 L1271.5,535.7 L1272.2,536.2 L1272.9,535.2 L1273.6,535.0 L1274.3,534.8 L1275.0,535.4 L1275.7,535.7 L1276.4,534.7 L1277.1,535.1 L1277.8,536.2 L1278.5,535.5 L1279.2,534.9 L1279.9,536.2 L1280.6,536.2 L1281.3,536.2 L1282.0,536.2 L1282.7,535.2 L1283.4,535.8 L1284.1,535.9 L1284.8,535.7 L1285.5,533.9 L1286.2,535.6 L1286.9,536.0 L1287.6,536.2 L1288.3,535.4 L1289.0,535.8 L1289.7,533.9 L1290.4,534.3 L1291.1,532.8 L1291.8,535.6 L1292.5,537.4 L1293.2,537.6 L1293.9,534.7 L1294.6,536.5 L1295.3,537.1 L1296.0,535.6 L1296.7,533.9 L1297.4,537.3 L1298.1,535.6 L1298.8,535.5 L1299.5,537.7 L1300.2,536.4 L1300.9,536.8 L1301.6,537.6 L1302.3,535.9 L1303.0,535.0 L1303.7,536.8 L1304.4,536.0 L1305.1,536.6 L1305.8,535.9 L1306.5,534.3 L1307.2,534.3 L1307.9,533.0 L1308.6,532.1 L1309.3,531.6 L1310.0,531.7 L1310.7,531.8 L1311.4,531.2 L1312.1,534.1 L1312.8,533.1 L1313.5,537.5 L1314.2,535.1 L1314.9,536.1 L1315.6,537.7 L1316.3,536.2 L1317.0,535.2 L1317.7,535.1 L1318.4,536.8 L1319.1,537.0 L1319.8,537.4 L1320.5,536.8 L1321.2,536.0 L1321.9,536.7 L1322.6,537.1 L1323.3,533.9 L1324.0,537.2 L1324.7,532.4 L1325.4,534.2 L1326.1,535.7 L1326.8,535.9 L1327.5,536.2 L1328.2,537.2 L1328.9,538.1 L1329.6,534.2 L1330.3,537.3 L1331.0,536.5 L1331.7,536.2 L1332.4,537.1 L1333.1,537.1 L1333.8,537.5 L1334.5,536.4 L1335.2,538.1 L1335.9,534.9 L1336.6,536.0 L1337.3,535.8 L1338.0,537.1 L1338.7,536.5 L1339.4,537.6 L1340.1,536.3 L1340.8,538.3 L1341.5,537.8 L1342.2,536.5 L1342.9,535.4 L1343.6,535.9 L1344.3,535.5 L1345.0,538.3 L1345.7,537.9 L1346.4,535.8 L1347.1,539.0 L1347.8,536.8 L1348.5,534.9 L1349.2,538.2 L1349.9,538.4 L1350.6,537.2 L1351.3,536.3 L1352.0,538.4 L1352.7,536.7 L1353.4,537.2 L1354.1,537.7 L1354.8,537.5 L1355.5,536.7 L1356.2,536.2 L1356.9,538.0 L1357.6,535.0 L1358.3,537.5 L1359.0,537.5 L1359.7,537.8 L1360.4,536.9 L1361.1,537.5 L1361.8,538.0 L1362.5,536.2 L1363.2,537.3 L1363.9,537.6 L1364.6,536.0 L1365.3,536.3 L1366.0,538.9 L1366.7,538.3 L1367.4,536.5 L1368.1,538.0 L1368.8,537.7 L1369.5,538.7 L1370.2,538.5 L1370.9,534.9 L1371.6,537.0 L1372.3,538.7 L1373.0,539.0 L1373.7,536.7 L1374.4,536.1 L1375.1,537.6 L1375.8,536.7 L1376.5,537.3 L1377.2,536.2 L1377.9,538.1 L1378.6,537.9 L1379.3,537.8 L1380.0,536.3 L1380.7,535.7 L1381.4,536.1 L1382.1,537.9 L1382.8,535.6 L1383.5,538.1 L1384.2,539.2 L1384.9,536.8 L1385.6,537.2 L1386.3,538.4 L1387.0,538.3 L1387.7,536.8 L1388.4,537.2 L1389.1,537.5 L1389.8,537.2 L1390.5,538.0 L1391.2,537.8 L1391.9,538.7 L1392.6,535.7 L1393.3,538.6 L1394.0,538.3 L1394.7,537.3 L1395.4,537.9 L1396.1,538.4 L1396.8,537.7 L1397.5,537.2 L1398.2,537.7 L1398.9,536.6 L1399.6,535.7 L1400.3,535.5 L1401.0,534.4 L1401.7,533.7 L1402.4,532.8 L1403.1,531.8 L1403.8,533.9 L1404.5,534.0 L1405.2,535.0 L1405.9,535.9 L1406.6,536.3 L1407.3,537.1 L1408.0,538.9 L1408.7,536.0 L1409.4,538.1 L1410.1,537.5 L1410.8,538.4 L1411.5,537.1 L1412.2,538.3 L1412.9,537.1 L1413.6,538.2 L1414.3,535.7 L1415.0,538.1 L1415.7,538.4 L1416.4,536.0 L1417.1,538.5 L1417.8,536.5 L1418.5,538.6 L1419.2,537.7 L1419.9,538.4 L1420.6,538.1 L1421.3,536.5 L1422.0,539.2 L1422.7,538.9 L1423.4,536.7 L1424.1,538.3 L1424.8,538.2 L1425.5,537.0 L1426.2,536.7 L1426.9,539.0 L1427.6,537.3 L1428.3,538.7 L1429.0,539.7 L1429.7,538.2 L1430.4,536.9 L1431.1,538.8 L1431.8,536.4 L1432.5,536.9 L1433.2,540.7 L1433.9,537.0 L1434.6,538.1 L1435.3,536.7 L1436.0,537.7 L1436.7,538.0 L1437.4,535.2 L1438.1,537.2 L1438.8,538.5 L1439.5,538.7 L1440.2,538.2 L1440.9,536.9 L1441.6,538.2 L1442.3,537.3 L1443.0,537.1 L1443.7,537.8 L1444.4,540.1 L1445.1,536.9 L1445.8,538.9 L1446.5,538.1 L1447.2,536.4 L1447.9,536.9 L1448.6,537.7" fill="none" stroke="#42b3bb" stroke-width="3.2" stroke-linejoin="round" stroke-linecap="round" stroke-linejoin="miter"/>
</g>
<rect x="871.3" y="71.9" width="577.60" height="488.50" fill="none" stroke="#4b4b49" stroke-width="3.2"/>
<line x1="919.37" y1="560.4" x2="919.37" y2="569.6" stroke="#4b4b49" stroke-width="3"/>
<line x1="1015.71" y1="560.4" x2="1015.71" y2="569.6" stroke="#4b4b49" stroke-width="3"/>
<line x1="1112.05" y1="560.4" x2="1112.05" y2="569.6" stroke="#4b4b49" stroke-width="3"/>
<line x1="1208.39" y1="560.4" x2="1208.39" y2="569.6" stroke="#4b4b49" stroke-width="3"/>
<line x1="1304.73" y1="560.4" x2="1304.73" y2="569.6" stroke="#4b4b49" stroke-width="3"/>
<line x1="1401.07" y1="560.4" x2="1401.07" y2="569.6" stroke="#4b4b49" stroke-width="3"/>
<line x1="967.54" y1="560.4" x2="967.54" y2="565.6" stroke="#4b4b49" stroke-width="3"/>
<line x1="1063.88" y1="560.4" x2="1063.88" y2="565.6" stroke="#4b4b49" stroke-width="3"/>
<line x1="1160.22" y1="560.4" x2="1160.22" y2="565.6" stroke="#4b4b49" stroke-width="3"/>
<line x1="1256.56" y1="560.4" x2="1256.56" y2="565.6" stroke="#4b4b49" stroke-width="3"/>
<line x1="1352.90" y1="560.4" x2="1352.90" y2="565.6" stroke="#4b4b49" stroke-width="3"/>
<line x1="1449.24" y1="560.4" x2="1449.24" y2="565.6" stroke="#4b4b49" stroke-width="3"/>
<text x="902.82" y="603.00" font-size="32.5" fill="#3f3f3f" textLength="35.26" lengthAdjust="spacingAndGlyphs" >10</text>
<text x="998.22" y="603.00" font-size="32.5" fill="#3f3f3f" textLength="35.16" lengthAdjust="spacingAndGlyphs" >20</text>
<text x="1093.92" y="603.00" font-size="32.5" fill="#3f3f3f" textLength="35.68" lengthAdjust="spacingAndGlyphs" >30</text>
<text x="1190.77" y="603.00" font-size="32.5" fill="#3f3f3f" textLength="35.11" lengthAdjust="spacingAndGlyphs" >40</text>
<text x="1287.03" y="603.00" font-size="32.5" fill="#3f3f3f" textLength="35.25" lengthAdjust="spacingAndGlyphs" >50</text>
<text x="1382.50" y="603.00" font-size="32.5" fill="#3f3f3f" textLength="35.60" lengthAdjust="spacingAndGlyphs" >60</text>
<text x="1061.07" y="658.40" font-size="37.8" fill="#3f3f3f" textLength="15.89" lengthAdjust="spacingAndGlyphs" >2</text>
<text x="1081" y="658.4" font-size="38" fill="#3f3f3f" font-family="Liberation Serif" font-style="italic">θ</text>
<text x="1113.06" y="658.40" font-size="37.8" fill="#3f3f3f" textLength="147.68" lengthAdjust="spacingAndGlyphs" >(degree)</text>
<text transform="translate(841.50,440.70) rotate(-90)" x="0" y="0" font-size="40.5" fill="#3f3f3f" textLength="248.79" lengthAdjust="spacingAndGlyphs">Intensity(a.u.)</text>
<text x="801.74" y="68.60" font-size="58" fill="#3f3f3f" textLength="32.13" lengthAdjust="spacingAndGlyphs" >b</text>
<text x="928.63" y="101.80" font-size="30" fill="#3f3f3f" textLength="72.89" lengthAdjust="spacingAndGlyphs" >(001)</text>
<text x="972.59" y="237.50" font-size="30" fill="#3f3f3f" textLength="71.99" lengthAdjust="spacingAndGlyphs" >(011)</text>
<text x="1019.95" y="264.50" font-size="30" fill="#3f3f3f" textLength="74.64" lengthAdjust="spacingAndGlyphs" >(111)</text>
<text x="1053.15" y="178.50" font-size="30" fill="#3f3f3f" textLength="71.83" lengthAdjust="spacingAndGlyphs" >(002)</text>
<text x="1124.61" y="178.50" font-size="30" fill="#3f3f3f" textLength="73.42" lengthAdjust="spacingAndGlyphs" >(012)</text>
<text x="1197.69" y="237.50" font-size="30" fill="#3f3f3f" textLength="70.25" lengthAdjust="spacingAndGlyphs" >(022)</text>
<text x="1288.38" y="277.30" font-size="30.5" fill="#3f3f3f" textLength="149.29" lengthAdjust="spacingAndGlyphs" >FACs/2-Cl</text>
<text x="1353.36" y="504.20" font-size="31.5" fill="#3f3f3f" textLength="80.80" lengthAdjust="spacingAndGlyphs" >FACs</text>
<path d="M1604.2,541.0 L1604.9,541.0 L1605.6,541.0 L1606.4,541.0 L1607.1,541.0 L1607.8,541.0 L1608.5,540.9 L1609.2,540.9 L1609.9,540.9 L1610.7,540.9 L1611.4,540.9 L1612.1,540.9 L1612.8,540.9 L1613.5,540.9 L1614.3,540.9 L1615.0,540.9 L1615.7,540.9 L1616.4,540.9 L1617.1,540.9 L1617.9,540.9 L1618.6,540.9 L1619.3,540.9 L1620.0,540.9 L1620.7,540.9 L1621.4,540.9 L1622.2,540.9 L1622.9,540.9 L1623.6,540.9 L1624.3,540.9 L1625.0,540.9 L1625.8,540.9 L1626.5,540.9 L1627.2,540.9 L1627.9,540.9 L1628.6,540.9 L1629.3,540.9 L1630.1,540.9 L1630.8,540.9 L1631.5,540.9 L1632.2,540.9 L1632.9,540.9 L1633.7,540.9 L1634.4,540.9 L1635.1,540.9 L1635.8,540.9 L1636.5,540.9 L1637.3,540.9 L1638.0,540.9 L1638.7,540.9 L1639.4,540.8 L1640.1,540.8 L1640.8,540.8 L1641.6,540.8 L1642.3,540.8 L1643.0,540.8 L1643.7,540.8 L1644.4,540.8 L1645.2,540.8 L1645.9,540.8 L1646.6,540.8 L1647.3,540.8 L1648.0,540.8 L1648.7,540.8 L1649.5,540.8 L1650.2,540.8 L1650.9,540.8 L1651.6,540.8 L1652.3,540.8 L1653.1,540.8 L1653.8,540.8 L1654.5,540.8 L1655.2,540.8 L1655.9,540.8 L1656.7,540.8 L1657.4,540.8 L1658.1,540.8 L1658.8,540.8 L1659.5,540.8 L1660.2,540.8 L1661.0,540.8 L1661.7,540.7 L1662.4,540.7 L1663.1,540.7 L1663.8,540.7 L1664.6,540.7 L1665.3,540.7 L1666.0,540.7 L1666.7,540.7 L1667.4,540.7 L1668.1,540.7 L1668.9,540.7 L1669.6,540.7 L1670.3,540.7 L1671.0,540.7 L1671.7,540.7 L1672.5,540.7 L1673.2,540.7 L1673.9,540.7 L1674.6,540.7 L1675.3,540.7 L1676.1,540.7 L1676.8,540.7 L1677.5,540.7 L1678.2,540.6 L1678.9,540.6 L1679.6,540.6 L1680.4,540.6 L1681.1,540.6 L1681.8,540.6 L1682.5,540.6 L1683.2,540.6 L1684.0,540.6 L1684.7,540.6 L1685.4,540.6 L1686.1,540.6 L1686.8,540.6 L1687.5,540.6 L1688.3,540.6 L1689.0,540.6 L1689.7,540.6 L1690.4,540.6 L1691.1,540.6 L1691.9,540.5 L1692.6,540.5 L1693.3,540.5 L1694.0,540.5 L1694.7,540.5 L1695.5,540.5 L1696.2,540.5 L1696.9,540.5 L1697.6,540.5 L1698.3,540.5 L1699.0,540.5 L1699.8,540.5 L1700.5,540.5 L1701.2,540.5 L1701.9,540.5 L1702.6,540.4 L1703.4,540.4 L1704.1,540.4 L1704.8,540.4 L1705.5,540.4 L1706.2,540.4 L1706.9,540.4 L1707.7,540.4 L1708.4,540.4 L1709.1,540.4 L1709.8,540.4 L1710.5,540.4 L1711.3,540.4 L1712.0,540.3 L1712.7,540.3 L1713.4,540.3 L1714.1,540.3 L1714.9,540.3 L1715.6,540.3 L1716.3,540.3 L1717.0,540.3 L1717.7,540.3 L1718.4,540.3 L1719.2,540.3 L1719.9,540.2 L1720.6,540.2 L1721.3,540.2 L1722.0,540.2 L1722.8,540.2 L1723.5,540.2 L1724.2,540.2 L1724.9,540.2 L1725.6,540.2 L1726.3,540.1 L1727.1,540.1 L1727.8,540.1 L1728.5,540.1 L1729.2,540.1 L1729.9,540.1 L1730.7,540.1 L1731.4,540.1 L1732.1,540.1 L1732.8,540.0 L1733.5,540.0 L1734.3,540.0 L1735.0,540.0 L1735.7,540.0 L1736.4,540.0 L1737.1,540.0 L1737.8,539.9 L1738.6,539.9 L1739.3,539.9 L1740.0,539.9 L1740.7,539.9 L1741.4,539.9 L1742.2,539.8 L1742.9,539.8 L1743.6,539.8 L1744.3,539.8 L1745.0,539.8 L1745.7,539.7 L1746.5,539.7 L1747.2,539.7 L1747.9,539.7 L1748.6,539.7 L1749.3,539.6 L1750.1,539.6 L1750.8,539.6 L1751.5,539.6 L1752.2,539.5 L1752.9,539.5 L1753.7,539.5 L1754.4,539.5 L1755.1,539.4 L1755.8,539.4 L1756.5,539.4 L1757.2,539.3 L1758.0,539.3 L1758.7,539.2 L1759.4,539.2 L1760.1,539.2 L1760.8,539.1 L1761.6,539.1 L1762.3,539.0 L1763.0,539.0 L1763.7,538.9 L1764.4,538.8 L1765.1,538.8 L1765.9,538.7 L1766.6,538.6 L1767.3,538.6 L1768.0,538.5 L1768.7,538.4 L1769.5,538.3 L1770.2,538.2 L1770.9,538.1 L1771.6,538.0 L1772.3,537.9 L1773.1,537.7 L1773.8,537.6 L1774.5,537.4 L1775.2,537.3 L1775.9,537.1 L1776.6,536.9 L1777.4,536.7 L1778.1,536.5 L1778.8,536.3 L1779.5,536.1 L1780.2,535.8 L1781.0,535.6 L1781.7,535.3 L1782.4,535.0 L1783.1,534.6 L1783.8,534.3 L1784.5,533.9 L1785.3,533.5 L1786.0,533.1 L1786.7,532.7 L1787.4,532.2 L1788.1,531.7 L1788.9,531.1 L1789.6,530.6 L1790.3,530.0 L1791.0,529.3 L1791.7,528.6 L1792.5,527.9 L1793.2,527.2 L1793.9,526.3 L1794.6,525.5 L1795.3,524.6 L1796.0,523.6 L1796.8,522.6 L1797.5,521.5 L1798.2,520.4 L1798.9,519.2 L1799.6,518.0 L1800.4,516.7 L1801.1,515.3 L1801.8,513.8 L1802.5,512.3 L1803.2,510.7 L1803.9,509.0 L1804.7,507.3 L1805.4,505.4 L1806.1,503.5 L1806.8,501.5 L1807.5,499.4 L1808.3,497.2 L1809.0,494.9 L1809.7,492.5 L1810.4,490.1 L1811.1,487.5 L1811.9,484.8 L1812.6,482.0 L1813.3,479.1 L1814.0,476.1 L1814.7,473.0 L1815.4,469.8 L1816.2,466.4 L1816.9,463.0 L1817.6,459.4 L1818.3,455.8 L1819.0,452.0 L1819.8,448.1 L1820.5,444.1 L1821.2,440.0 L1821.9,435.7 L1822.6,431.4 L1823.3,426.9 L1824.1,422.4 L1824.8,417.7 L1825.5,412.9 L1826.2,408.1 L1826.9,403.1 L1827.7,398.0 L1828.4,392.9 L1829.1,387.6 L1829.8,382.3 L1830.5,376.8 L1831.3,371.3 L1832.0,365.8 L1832.7,360.1 L1833.4,354.4 L1834.1,348.7 L1834.8,342.9 L1835.6,337.0 L1836.3,331.1 L1837.0,325.2 L1837.7,319.3 L1838.4,313.3 L1839.2,307.4 L1839.9,301.4 L1840.6,295.5 L1841.3,289.6 L1842.0,283.7 L1842.7,277.8 L1843.5,272.0 L1844.2,266.2 L1844.9,260.5 L1845.6,254.8 L1846.3,249.3 L1847.1,243.8 L1847.8,238.5 L1848.5,233.2 L1849.2,228.1 L1849.9,223.1 L1850.7,218.2 L1851.4,213.5 L1852.1,208.9 L1852.8,204.5 L1853.5,200.3 L1854.2,196.3 L1855.0,192.4 L1855.7,188.8 L1856.4,185.4 L1857.1,182.1 L1857.8,179.1 L1858.6,176.4 L1859.3,173.8 L1860.0,171.5 L1860.7,169.5 L1861.4,167.7 L1862.1,166.1 L1862.9,164.8 L1863.6,163.8 L1864.3,163.0 L1865.0,162.5 L1865.7,162.3 L1866.5,162.4 L1867.2,162.7 L1867.9,163.2 L1868.6,164.1 L1869.3,165.2 L1870.1,166.5 L1870.8,168.1 L1871.5,170.0 L1872.2,172.1 L1872.9,174.5 L1873.6,177.1 L1874.4,180.0 L1875.1,183.0 L1875.8,186.3 L1876.5,189.8 L1877.2,193.5 L1878.0,197.4 L1878.7,201.5 L1879.4,205.8 L1880.1,210.2 L1880.8,214.8 L1881.5,219.6 L1882.3,224.5 L1883.0,229.5 L1883.7,234.7 L1884.4,240.0 L1885.1,245.4 L1885.9,250.9 L1886.6,256.4 L1887.3,262.1 L1888.0,267.8 L1888.7,273.6 L1889.5,279.4 L1890.2,285.3 L1890.9,291.2 L1891.6,297.2 L1892.3,303.1 L1893.0,309.1 L1893.8,315.0 L1894.5,321.0 L1895.2,326.9 L1895.9,332.8 L1896.6,338.7 L1897.4,344.5 L1898.1,350.3 L1898.8,356.1 L1899.5,361.7 L1900.2,367.4 L1901.0,372.9 L1901.7,378.4 L1902.4,383.8 L1903.1,389.1 L1903.8,394.3 L1904.5,399.5 L1905.3,404.5 L1906.0,409.5 L1906.7,414.3 L1907.4,419.0 L1908.1,423.7 L1908.9,428.2 L1909.6,432.6 L1910.3,437.0 L1911.0,441.2 L1911.7,445.2 L1912.4,449.2 L1913.2,453.1 L1913.9,456.8 L1914.6,460.5 L1915.3,464.0 L1916.0,467.4 L1916.8,470.7 L1917.5,473.9 L1918.2,477.0 L1918.9,479.9 L1919.6,482.8 L1920.4,485.6 L1921.1,488.2 L1921.8,490.8 L1922.5,493.2 L1923.2,495.6 L1923.9,497.8 L1924.7,500.0 L1925.4,502.1 L1926.1,504.1 L1926.8,506.0 L1927.5,507.8 L1928.3,509.5 L1929.0,511.2 L1929.7,512.8 L1930.4,514.3 L1931.1,515.7 L1931.8,517.1 L1932.6,518.3 L1933.3,519.6 L1934.0,520.7 L1934.7,521.9 L1935.4,522.9 L1936.2,523.9 L1936.9,524.8 L1937.6,525.7 L1938.3,526.6 L1939.0,527.4 L1939.8,528.1 L1940.5,528.8 L1941.2,529.5 L1941.9,530.1 L1942.6,530.7 L1943.3,531.3 L1944.1,531.8 L1944.8,532.3 L1945.5,532.8 L1946.2,533.2 L1946.9,533.6 L1947.7,534.0 L1948.4,534.4 L1949.1,534.7 L1949.8,535.1 L1950.5,535.4 L1951.2,535.6 L1952.0,535.9 L1952.7,536.1 L1953.4,536.4 L1954.1,536.6 L1954.8,536.8 L1955.6,537.0 L1956.3,537.2 L1957.0,537.3 L1957.7,537.5 L1958.4,537.6 L1959.2,537.8 L1959.9,537.9 L1960.6,538.0 L1961.3,538.1 L1962.0,538.2 L1962.7,538.3 L1963.5,538.4 L1964.2,538.5 L1964.9,538.6 L1965.6,538.7 L1966.3,538.7 L1967.1,538.8 L1967.8,538.9 L1968.5,538.9 L1969.2,539.0 L1969.9,539.0 L1970.6,539.1 L1971.4,539.1 L1972.1,539.2 L1972.8,539.2 L1973.5,539.3 L1974.2,539.3 L1975.0,539.3 L1975.7,539.4 L1976.4,539.4 L1977.1,539.4 L1977.8,539.5 L1978.6,539.5 L1979.3,539.5 L1980.0,539.6 L1980.7,539.6 L1981.4,539.6 L1982.1,539.6 L1982.9,539.6 L1983.6,539.7 L1984.3,539.7 L1985.0,539.7 L1985.7,539.7 L1986.5,539.8 L1987.2,539.8 L1987.9,539.8 L1988.6,539.8 L1989.3,539.8 L1990.0,539.8 L1990.8,539.9 L1991.5,539.9 L1992.2,539.9 L1992.9,539.9 L1993.6,539.9 L1994.4,539.9 L1995.1,540.0 L1995.8,540.0 L1996.5,540.0 L1997.2,540.0 L1998.0,540.0 L1998.7,540.0 L1999.4,540.0 L2000.1,540.1 L2000.8,540.1 L2001.5,540.1 L2002.3,540.1 L2003.0,540.1 L2003.7,540.1 L2004.4,540.1 L2005.1,540.1 L2005.9,540.2 L2006.6,540.2 L2007.3,540.2 L2008.0,540.2 L2008.7,540.2 L2009.4,540.2 L2010.2,540.2 L2010.9,540.2 L2011.6,540.2 L2012.3,540.2 L2013.0,540.3 L2013.8,540.3 L2014.5,540.3 L2015.2,540.3 L2015.9,540.3 L2016.6,540.3 L2017.4,540.3 L2018.1,540.3 L2018.8,540.3 L2019.5,540.3 L2020.2,540.3 L2020.9,540.4 L2021.7,540.4 L2022.4,540.4 L2023.1,540.4 L2023.8,540.4 L2024.5,540.4 L2025.3,540.4 L2026.0,540.4 L2026.7,540.4 L2027.4,540.4 L2028.1,540.4 L2028.8,540.4 L2029.6,540.4 L2030.3,540.5 L2031.0,540.5 L2031.7,540.5 L2032.4,540.5 L2033.2,540.5 L2033.9,540.5 L2034.6,540.5 L2035.3,540.5 L2036.0,540.5 L2036.8,540.5 L2037.5,540.5 L2038.2,540.5 L2038.9,540.5 L2039.6,540.5 L2040.3,540.5 L2041.1,540.6 L2041.8,540.6 L2042.5,540.6 L2043.2,540.6 L2043.9,540.6 L2044.7,540.6 L2045.4,540.6 L2046.1,540.6 L2046.8,540.6 L2047.5,540.6 L2048.2,540.6 L2049.0,540.6 L2049.7,540.6 L2050.4,540.6 L2051.1,540.6 L2051.8,540.6 L2052.6,540.6 L2053.3,540.6 L2054.0,540.6 L2054.7,540.7 L2055.4,540.7 L2056.2,540.7 L2056.9,540.7 L2057.6,540.7 L2058.3,540.7 L2059.0,540.7 L2059.7,540.7 L2060.5,540.7 L2061.2,540.7 L2061.9,540.7 L2062.6,540.7 L2063.3,540.7 L2064.1,540.7 L2064.8,540.7 L2065.5,540.7 L2066.2,540.7 L2066.9,540.7 L2067.6,540.7 L2068.4,540.7 L2069.1,540.7 L2069.8,540.7 L2070.5,540.7 L2071.2,540.8 L2072.0,540.8 L2072.7,540.8 L2073.4,540.8 L2074.1,540.8 L2074.8,540.8 L2075.6,540.8 L2076.3,540.8 L2077.0,540.8 L2077.7,540.8 L2078.4,540.8 L2079.1,540.8 L2079.9,540.8 L2080.6,540.8 L2081.3,540.8 L2082.0,540.8 L2082.7,540.8 L2083.5,540.8 L2084.2,540.8 L2084.9,540.8 L2085.6,540.8 L2086.3,540.8 L2087.0,540.8 L2087.8,540.8 L2088.5,540.8 L2089.2,540.8 L2089.9,540.8 L2090.6,540.8 L2091.4,540.8 L2092.1,540.8 L2092.8,540.8 L2093.5,540.9 L2094.2,540.9 L2095.0,540.9 L2095.7,540.9 L2096.4,540.9 L2097.1,540.9 L2097.8,540.9 L2098.5,540.9 L2099.3,540.9 L2100.0,540.9 L2100.7,540.9 L2101.4,540.9 L2102.1,540.9 L2102.9,540.9 L2103.6,540.9 L2104.3,540.9 L2105.0,540.9 L2105.7,540.9 L2106.4,540.9 L2107.2,540.9 L2107.9,540.9 L2108.6,540.9 L2109.3,540.9 L2110.0,540.9 L2110.8,540.9 L2111.5,540.9 L2112.2,540.9 L2112.9,540.9 L2113.6,540.9 L2114.4,540.9 L2115.1,540.9 L2115.8,540.9 L2116.5,540.9 L2117.2,540.9 L2117.9,540.9 L2118.7,540.9 L2119.4,540.9 L2120.1,540.9 L2120.8,540.9 L2121.5,540.9 L2122.3,540.9 L2123.0,540.9 L2123.7,540.9 L2124.4,541.0 L2125.1,541.0 L2125.8,541.0 L2126.6,541.0 L2127.3,541.0 L2128.0,541.0 L2128.7,541.0 L2129.4,541.0 L2130.2,541.0 L2130.9,541.0 L2131.6,541.0 L2132.3,541.0 L2133.0,541.0 L2133.8,541.0 L2134.5,541.0 L2135.2,541.0 L2135.9,541.0 L2136.6,541.0 L2137.3,541.0 L2138.1,541.0 L2138.8,541.0 L2139.5,541.0 L2140.2,541.0 L2140.9,541.0 L2141.7,541.0 L2142.4,541.0 L2143.1,541.0 L2143.8,541.0 L2144.5,541.0 L2145.2,541.0 L2146.0,541.0 L2146.7,541.0 L2147.4,541.0 L2148.1,541.0 L2148.8,541.0 L2149.6,541.0 L2150.3,541.0 L2151.0,541.0 L2151.7,541.0 L2152.4,541.0 L2153.2,541.0 L2153.9,541.0 L2154.6,541.0 L2155.3,541.0 L2156.0,541.0 L2156.7,541.0 L2157.5,541.0 L2158.2,541.0 L2158.9,541.0 L2159.6,541.0 L2160.3,541.0 L2161.1,541.0 L2161.8,541.0 L2162.5,541.0 L2163.2,541.0 L2163.9,541.0 L2164.6,541.0 L2165.4,541.0 L2166.1,541.0 L2166.8,541.0 L2167.5,541.0 L2168.2,541.0 L2169.0,541.0 L2169.7,541.0 L2170.4,541.0 L2171.1,541.0 L2171.8,541.0 L2172.6,541.1 L2173.3,541.1 L2174.0,541.1 L2174.7,541.1 L2175.4,541.1 L2176.1,541.1 L2176.9,541.1 L2177.6,541.1 L2178.3,541.1" fill="none" stroke="#6a4f99" stroke-width="3.2" stroke-linejoin="round" stroke-linecap="round" />
<path d="M1604.2,542.1 L1604.9,542.1 L1605.6,542.1 L1606.4,542.1 L1607.1,542.1 L1607.8,542.1 L1608.5,542.1 L1609.2,542.1 L1609.9,542.1 L1610.7,542.1 L1611.4,542.1 L1612.1,542.1 L1612.8,542.1 L1613.5,542.1 L1614.3,542.1 L1615.0,542.1 L1615.7,542.1 L1616.4,542.1 L1617.1,542.1 L1617.9,542.1 L1618.6,542.1 L1619.3,542.1 L1620.0,542.1 L1620.7,542.1 L1621.4,542.1 L1622.2,542.1 L1622.9,542.1 L1623.6,542.1 L1624.3,542.1 L1625.0,542.1 L1625.8,542.1 L1626.5,542.1 L1627.2,542.1 L1627.9,542.1 L1628.6,542.1 L1629.3,542.1 L1630.1,542.1 L1630.8,542.1 L1631.5,542.1 L1632.2,542.1 L1632.9,542.1 L1633.7,542.1 L1634.4,542.1 L1635.1,542.1 L1635.8,542.1 L1636.5,542.1 L1637.3,542.1 L1638.0,542.1 L1638.7,542.1 L1639.4,542.1 L1640.1,542.1 L1640.8,542.1 L1641.6,542.1 L1642.3,542.1 L1643.0,542.1 L1643.7,542.1 L1644.4,542.1 L1645.2,542.1 L1645.9,542.1 L1646.6,542.1 L1647.3,542.1 L1648.0,542.0 L1648.7,542.0 L1649.5,542.0 L1650.2,542.0 L1650.9,542.0 L1651.6,542.0 L1652.3,542.0 L1653.1,542.0 L1653.8,542.0 L1654.5,542.0 L1655.2,542.0 L1655.9,542.0 L1656.7,542.0 L1657.4,542.0 L1658.1,542.0 L1658.8,542.0 L1659.5,542.0 L1660.2,542.0 L1661.0,542.0 L1661.7,542.0 L1662.4,542.0 L1663.1,542.0 L1663.8,542.0 L1664.6,542.0 L1665.3,542.0 L1666.0,542.0 L1666.7,542.0 L1667.4,542.0 L1668.1,542.0 L1668.9,542.0 L1669.6,542.0 L1670.3,542.0 L1671.0,542.0 L1671.7,542.0 L1672.5,542.0 L1673.2,542.0 L1673.9,542.0 L1674.6,542.0 L1675.3,542.0 L1676.1,542.0 L1676.8,542.0 L1677.5,542.0 L1678.2,542.0 L1678.9,542.0 L1679.6,542.0 L1680.4,542.0 L1681.1,542.0 L1681.8,542.0 L1682.5,542.0 L1683.2,541.9 L1684.0,541.9 L1684.7,541.9 L1685.4,541.9 L1686.1,541.9 L1686.8,541.9 L1687.5,541.9 L1688.3,541.9 L1689.0,541.9 L1689.7,541.9 L1690.4,541.9 L1691.1,541.9 L1691.9,541.9 L1692.6,541.9 L1693.3,541.9 L1694.0,541.9 L1694.7,541.9 L1695.5,541.9 L1696.2,541.9 L1696.9,541.9 L1697.6,541.9 L1698.3,541.9 L1699.0,541.9 L1699.8,541.9 L1700.5,541.9 L1701.2,541.9 L1701.9,541.9 L1702.6,541.9 L1703.4,541.9 L1704.1,541.9 L1704.8,541.9 L1705.5,541.8 L1706.2,541.8 L1706.9,541.8 L1707.7,541.8 L1708.4,541.8 L1709.1,541.8 L1709.8,541.8 L1710.5,541.8 L1711.3,541.8 L1712.0,541.8 L1712.7,541.8 L1713.4,541.8 L1714.1,541.8 L1714.9,541.8 L1715.6,541.8 L1716.3,541.8 L1717.0,541.8 L1717.7,541.8 L1718.4,541.8 L1719.2,541.8 L1719.9,541.8 L1720.6,541.8 L1721.3,541.7 L1722.0,541.7 L1722.8,541.7 L1723.5,541.7 L1724.2,541.7 L1724.9,541.7 L1725.6,541.7 L1726.3,541.7 L1727.1,541.7 L1727.8,541.7 L1728.5,541.7 L1729.2,541.7 L1729.9,541.7 L1730.7,541.7 L1731.4,541.7 L1732.1,541.7 L1732.8,541.7 L1733.5,541.6 L1734.3,541.6 L1735.0,541.6 L1735.7,541.6 L1736.4,541.6 L1737.1,541.6 L1737.8,541.6 L1738.6,541.6 L1739.3,541.6 L1740.0,541.6 L1740.7,541.6 L1741.4,541.6 L1742.2,541.6 L1742.9,541.5 L1743.6,541.5 L1744.3,541.5 L1745.0,541.5 L1745.7,541.5 L1746.5,541.5 L1747.2,541.5 L1747.9,541.5 L1748.6,541.5 L1749.3,541.4 L1750.1,541.4 L1750.8,541.4 L1751.5,541.4 L1752.2,541.4 L1752.9,541.4 L1753.7,541.4 L1754.4,541.4 L1755.1,541.3 L1755.8,541.3 L1756.5,541.3 L1757.2,541.3 L1758.0,541.3 L1758.7,541.2 L1759.4,541.2 L1760.1,541.2 L1760.8,541.2 L1761.6,541.2 L1762.3,541.1 L1763.0,541.1 L1763.7,541.1 L1764.4,541.0 L1765.1,541.0 L1765.9,541.0 L1766.6,540.9 L1767.3,540.9 L1768.0,540.9 L1768.7,540.8 L1769.5,540.8 L1770.2,540.7 L1770.9,540.7 L1771.6,540.6 L1772.3,540.5 L1773.1,540.5 L1773.8,540.4 L1774.5,540.3 L1775.2,540.2 L1775.9,540.2 L1776.6,540.1 L1777.4,540.0 L1778.1,539.9 L1778.8,539.7 L1779.5,539.6 L1780.2,539.5 L1781.0,539.4 L1781.7,539.2 L1782.4,539.0 L1783.1,538.9 L1783.8,538.7 L1784.5,538.5 L1785.3,538.3 L1786.0,538.1 L1786.7,537.9 L1787.4,537.6 L1788.1,537.4 L1788.9,537.1 L1789.6,536.8 L1790.3,536.5 L1791.0,536.2 L1791.7,535.8 L1792.5,535.4 L1793.2,535.0 L1793.9,534.6 L1794.6,534.2 L1795.3,533.7 L1796.0,533.2 L1796.8,532.7 L1797.5,532.2 L1798.2,531.6 L1798.9,531.0 L1799.6,530.3 L1800.4,529.7 L1801.1,529.0 L1801.8,528.2 L1802.5,527.4 L1803.2,526.6 L1803.9,525.7 L1804.7,524.8 L1805.4,523.9 L1806.1,522.9 L1806.8,521.9 L1807.5,520.8 L1808.3,519.7 L1809.0,518.5 L1809.7,517.3 L1810.4,516.0 L1811.1,514.7 L1811.9,513.3 L1812.6,511.9 L1813.3,510.4 L1814.0,508.8 L1814.7,507.2 L1815.4,505.6 L1816.2,503.9 L1816.9,502.1 L1817.6,500.3 L1818.3,498.4 L1819.0,496.5 L1819.8,494.5 L1820.5,492.4 L1821.2,490.3 L1821.9,488.1 L1822.6,485.9 L1823.3,483.6 L1824.1,481.3 L1824.8,478.9 L1825.5,476.4 L1826.2,473.9 L1826.9,471.4 L1827.7,468.8 L1828.4,466.1 L1829.1,463.4 L1829.8,460.7 L1830.5,457.9 L1831.3,455.1 L1832.0,452.2 L1832.7,449.3 L1833.4,446.4 L1834.1,443.5 L1834.8,440.5 L1835.6,437.5 L1836.3,434.5 L1837.0,431.4 L1837.7,428.4 L1838.4,425.3 L1839.2,422.3 L1839.9,419.2 L1840.6,416.1 L1841.3,413.1 L1842.0,410.1 L1842.7,407.1 L1843.5,404.1 L1844.2,401.1 L1844.9,398.2 L1845.6,395.3 L1846.3,392.4 L1847.1,389.6 L1847.8,386.9 L1848.5,384.2 L1849.2,381.6 L1849.9,379.0 L1850.7,376.5 L1851.4,374.1 L1852.1,371.7 L1852.8,369.5 L1853.5,367.3 L1854.2,365.2 L1855.0,363.3 L1855.7,361.4 L1856.4,359.6 L1857.1,358.0 L1857.8,356.4 L1858.6,355.0 L1859.3,353.7 L1860.0,352.5 L1860.7,351.5 L1861.4,350.6 L1862.1,349.8 L1862.9,349.1 L1863.6,348.6 L1864.3,348.2 L1865.0,347.9 L1865.7,347.8 L1866.5,347.8 L1867.2,348.0 L1867.9,348.3 L1868.6,348.7 L1869.3,349.3 L1870.1,350.0 L1870.8,350.8 L1871.5,351.8 L1872.2,352.9 L1872.9,354.1 L1873.6,355.4 L1874.4,356.9 L1875.1,358.4 L1875.8,360.1 L1876.5,361.9 L1877.2,363.8 L1878.0,365.8 L1878.7,367.9 L1879.4,370.1 L1880.1,372.4 L1880.8,374.8 L1881.5,377.2 L1882.3,379.7 L1883.0,382.3 L1883.7,385.0 L1884.4,387.7 L1885.1,390.4 L1885.9,393.2 L1886.6,396.1 L1887.3,399.0 L1888.0,402.0 L1888.7,404.9 L1889.5,407.9 L1890.2,410.9 L1890.9,414.0 L1891.6,417.0 L1892.3,420.1 L1893.0,423.1 L1893.8,426.2 L1894.5,429.2 L1895.2,432.3 L1895.9,435.3 L1896.6,438.3 L1897.4,441.3 L1898.1,444.3 L1898.8,447.2 L1899.5,450.2 L1900.2,453.0 L1901.0,455.9 L1901.7,458.7 L1902.4,461.5 L1903.1,464.2 L1903.8,466.9 L1904.5,469.5 L1905.3,472.1 L1906.0,474.6 L1906.7,477.1 L1907.4,479.6 L1908.1,481.9 L1908.9,484.3 L1909.6,486.5 L1910.3,488.7 L1911.0,490.9 L1911.7,493.0 L1912.4,495.0 L1913.2,497.0 L1913.9,498.9 L1914.6,500.8 L1915.3,502.6 L1916.0,504.4 L1916.8,506.1 L1917.5,507.7 L1918.2,509.3 L1918.9,510.8 L1919.6,512.3 L1920.4,513.7 L1921.1,515.1 L1921.8,516.4 L1922.5,517.6 L1923.2,518.8 L1923.9,520.0 L1924.7,521.1 L1925.4,522.2 L1926.1,523.2 L1926.8,524.2 L1927.5,525.1 L1928.3,526.0 L1929.0,526.8 L1929.7,527.6 L1930.4,528.4 L1931.1,529.2 L1931.8,529.9 L1932.6,530.5 L1933.3,531.2 L1934.0,531.8 L1934.7,532.3 L1935.4,532.9 L1936.2,533.4 L1936.9,533.9 L1937.6,534.3 L1938.3,534.7 L1939.0,535.2 L1939.8,535.5 L1940.5,535.9 L1941.2,536.2 L1941.9,536.6 L1942.6,536.9 L1943.3,537.2 L1944.1,537.4 L1944.8,537.7 L1945.5,537.9 L1946.2,538.2 L1946.9,538.4 L1947.7,538.6 L1948.4,538.8 L1949.1,538.9 L1949.8,539.1 L1950.5,539.2 L1951.2,539.4 L1952.0,539.5 L1952.7,539.7 L1953.4,539.8 L1954.1,539.9 L1954.8,540.0 L1955.6,540.1 L1956.3,540.2 L1957.0,540.3 L1957.7,540.3 L1958.4,540.4 L1959.2,540.5 L1959.9,540.6 L1960.6,540.6 L1961.3,540.7 L1962.0,540.7 L1962.7,540.8 L1963.5,540.8 L1964.2,540.9 L1964.9,540.9 L1965.6,540.9 L1966.3,541.0 L1967.1,541.0 L1967.8,541.0 L1968.5,541.1 L1969.2,541.1 L1969.9,541.1 L1970.6,541.2 L1971.4,541.2 L1972.1,541.2 L1972.8,541.2 L1973.5,541.3 L1974.2,541.3 L1975.0,541.3 L1975.7,541.3 L1976.4,541.3 L1977.1,541.3 L1977.8,541.4 L1978.6,541.4 L1979.3,541.4 L1980.0,541.4 L1980.7,541.4 L1981.4,541.4 L1982.1,541.4 L1982.9,541.5 L1983.6,541.5 L1984.3,541.5 L1985.0,541.5 L1985.7,541.5 L1986.5,541.5 L1987.2,541.5 L1987.9,541.5 L1988.6,541.5 L1989.3,541.5 L1990.0,541.6 L1990.8,541.6 L1991.5,541.6 L1992.2,541.6 L1992.9,541.6 L1993.6,541.6 L1994.4,541.6 L1995.1,541.6 L1995.8,541.6 L1996.5,541.6 L1997.2,541.6 L1998.0,541.6 L1998.7,541.6 L1999.4,541.7 L2000.1,541.7 L2000.8,541.7 L2001.5,541.7 L2002.3,541.7 L2003.0,541.7 L2003.7,541.7 L2004.4,541.7 L2005.1,541.7 L2005.9,541.7 L2006.6,541.7 L2007.3,541.7 L2008.0,541.7 L2008.7,541.7 L2009.4,541.7 L2010.2,541.7 L2010.9,541.7 L2011.6,541.8 L2012.3,541.8 L2013.0,541.8 L2013.8,541.8 L2014.5,541.8 L2015.2,541.8 L2015.9,541.8 L2016.6,541.8 L2017.4,541.8 L2018.1,541.8 L2018.8,541.8 L2019.5,541.8 L2020.2,541.8 L2020.9,541.8 L2021.7,541.8 L2022.4,541.8 L2023.1,541.8 L2023.8,541.8 L2024.5,541.8 L2025.3,541.8 L2026.0,541.8 L2026.7,541.8 L2027.4,541.9 L2028.1,541.9 L2028.8,541.9 L2029.6,541.9 L2030.3,541.9 L2031.0,541.9 L2031.7,541.9 L2032.4,541.9 L2033.2,541.9 L2033.9,541.9 L2034.6,541.9 L2035.3,541.9 L2036.0,541.9 L2036.8,541.9 L2037.5,541.9 L2038.2,541.9 L2038.9,541.9 L2039.6,541.9 L2040.3,541.9 L2041.1,541.9 L2041.8,541.9 L2042.5,541.9 L2043.2,541.9 L2043.9,541.9 L2044.7,541.9 L2045.4,541.9 L2046.1,541.9 L2046.8,541.9 L2047.5,541.9 L2048.2,541.9 L2049.0,541.9 L2049.7,542.0 L2050.4,542.0 L2051.1,542.0 L2051.8,542.0 L2052.6,542.0 L2053.3,542.0 L2054.0,542.0 L2054.7,542.0 L2055.4,542.0 L2056.2,542.0 L2056.9,542.0 L2057.6,542.0 L2058.3,542.0 L2059.0,542.0 L2059.7,542.0 L2060.5,542.0 L2061.2,542.0 L2061.9,542.0 L2062.6,542.0 L2063.3,542.0 L2064.1,542.0 L2064.8,542.0 L2065.5,542.0 L2066.2,542.0 L2066.9,542.0 L2067.6,542.0 L2068.4,542.0 L2069.1,542.0 L2069.8,542.0 L2070.5,542.0 L2071.2,542.0 L2072.0,542.0 L2072.7,542.0 L2073.4,542.0 L2074.1,542.0 L2074.8,542.0 L2075.6,542.0 L2076.3,542.0 L2077.0,542.0 L2077.7,542.0 L2078.4,542.0 L2079.1,542.0 L2079.9,542.0 L2080.6,542.0 L2081.3,542.0 L2082.0,542.0 L2082.7,542.0 L2083.5,542.0 L2084.2,542.1 L2084.9,542.1 L2085.6,542.1 L2086.3,542.1 L2087.0,542.1 L2087.8,542.1 L2088.5,542.1 L2089.2,542.1 L2089.9,542.1 L2090.6,542.1 L2091.4,542.1 L2092.1,542.1 L2092.8,542.1 L2093.5,542.1 L2094.2,542.1 L2095.0,542.1 L2095.7,542.1 L2096.4,542.1 L2097.1,542.1 L2097.8,542.1 L2098.5,542.1 L2099.3,542.1 L2100.0,542.1 L2100.7,542.1 L2101.4,542.1 L2102.1,542.1 L2102.9,542.1 L2103.6,542.1 L2104.3,542.1 L2105.0,542.1 L2105.7,542.1 L2106.4,542.1 L2107.2,542.1 L2107.9,542.1 L2108.6,542.1 L2109.3,542.1 L2110.0,542.1 L2110.8,542.1 L2111.5,542.1 L2112.2,542.1 L2112.9,542.1 L2113.6,542.1 L2114.4,542.1 L2115.1,542.1 L2115.8,542.1 L2116.5,542.1 L2117.2,542.1 L2117.9,542.1 L2118.7,542.1 L2119.4,542.1 L2120.1,542.1 L2120.8,542.1 L2121.5,542.1 L2122.3,542.1 L2123.0,542.1 L2123.7,542.1 L2124.4,542.1 L2125.1,542.1 L2125.8,542.1 L2126.6,542.1 L2127.3,542.1 L2128.0,542.1 L2128.7,542.1 L2129.4,542.1 L2130.2,542.1 L2130.9,542.1 L2131.6,542.1 L2132.3,542.1 L2133.0,542.1 L2133.8,542.1 L2134.5,542.1 L2135.2,542.1 L2135.9,542.1 L2136.6,542.1 L2137.3,542.1 L2138.1,542.1 L2138.8,542.1 L2139.5,542.1 L2140.2,542.1 L2140.9,542.1 L2141.7,542.1 L2142.4,542.1 L2143.1,542.1 L2143.8,542.1 L2144.5,542.1 L2145.2,542.1 L2146.0,542.1 L2146.7,542.1 L2147.4,542.1 L2148.1,542.1 L2148.8,542.2 L2149.6,542.2 L2150.3,542.2 L2151.0,542.2 L2151.7,542.2 L2152.4,542.2 L2153.2,542.2 L2153.9,542.2 L2154.6,542.2 L2155.3,542.2 L2156.0,542.2 L2156.7,542.2 L2157.5,542.2 L2158.2,542.2 L2158.9,542.2 L2159.6,542.2 L2160.3,542.2 L2161.1,542.2 L2161.8,542.2 L2162.5,542.2 L2163.2,542.2 L2163.9,542.2 L2164.6,542.2 L2165.4,542.2 L2166.1,542.2 L2166.8,542.2 L2167.5,542.2 L2168.2,542.2 L2169.0,542.2 L2169.7,542.2 L2170.4,542.2 L2171.1,542.2 L2171.8,542.2 L2172.6,542.2 L2173.3,542.2 L2174.0,542.2 L2174.7,542.2 L2175.4,542.2 L2176.1,542.2 L2176.9,542.2 L2177.6,542.2 L2178.3,542.2" fill="none" stroke="#42b3bb" stroke-width="3.2" stroke-linejoin="round" stroke-linecap="round" />
<rect x="1604.2" y="69.7" width="574.10" height="487.90" fill="none" stroke="#4b4b49" stroke-width="3.2"/>
<line x1="1604.20" y1="557.6" x2="1604.20" y2="569.2" stroke="#4b4b49" stroke-width="3"/>
<line x1="1747.73" y1="557.6" x2="1747.73" y2="569.2" stroke="#4b4b49" stroke-width="3"/>
<line x1="1891.25" y1="557.6" x2="1891.25" y2="569.2" stroke="#4b4b49" stroke-width="3"/>
<line x1="2034.78" y1="557.6" x2="2034.78" y2="569.2" stroke="#4b4b49" stroke-width="3"/>
<line x1="2178.30" y1="557.6" x2="2178.30" y2="569.2" stroke="#4b4b49" stroke-width="3"/>
<line x1="1675.96" y1="557.6" x2="1675.96" y2="563.8000000000001" stroke="#4b4b49" stroke-width="3"/>
<line x1="1819.49" y1="557.6" x2="1819.49" y2="563.8000000000001" stroke="#4b4b49" stroke-width="3"/>
<line x1="1963.01" y1="557.6" x2="1963.01" y2="563.8000000000001" stroke="#4b4b49" stroke-width="3"/>
<line x1="2106.54" y1="557.6" x2="2106.54" y2="563.8000000000001" stroke="#4b4b49" stroke-width="3"/>
<text x="1576.21" y="604.60" font-size="35.5" fill="#3f3f3f" textLength="54.60" lengthAdjust="spacingAndGlyphs" >600</text>
<text x="1719.74" y="604.60" font-size="35.5" fill="#3f3f3f" textLength="54.60" lengthAdjust="spacingAndGlyphs" >700</text>
<text x="1863.43" y="604.60" font-size="35.5" fill="#3f3f3f" textLength="54.42" lengthAdjust="spacingAndGlyphs" >800</text>
<text x="2006.96" y="604.60" font-size="35.5" fill="#3f3f3f" textLength="54.42" lengthAdjust="spacingAndGlyphs" >900</text>
<text x="2141.55" y="604.60" font-size="35.5" fill="#3f3f3f" textLength="71.21" lengthAdjust="spacingAndGlyphs" >1000</text>
<text x="1750.01" y="650.00" font-size="37.5" fill="#3f3f3f" textLength="283.91" lengthAdjust="spacingAndGlyphs" >Wavelength (nm)</text>
<text transform="translate(1580.70,465.83) rotate(-90)" x="0" y="0" font-size="38.7" fill="#3f3f3f" textLength="305.17" lengthAdjust="spacingAndGlyphs">PL Intensity (a.u.)</text>
<text x="1518.88" y="69.40" font-size="59" fill="#3f3f3f" textLength="28.97" lengthAdjust="spacingAndGlyphs" >c</text>
<line x1="1931" y1="101.1" x2="2006" y2="101.1" stroke="#42b3bb" stroke-width="3.6"/>
<line x1="1931" y1="143" x2="2006" y2="143" stroke="#6a4f99" stroke-width="3.6"/>
<text x="2013.76" y="112.50" font-size="33.5" fill="#3f3f3f" textLength="152.08" lengthAdjust="spacingAndGlyphs" >Reference</text>
<text x="2014.05" y="154.30" font-size="33.5" fill="#3f3f3f" textLength="60.51" lengthAdjust="spacingAndGlyphs" >2-Cl</text>
<defs>
<radialGradient id="gp" cx="0.5" cy="0.5" r="0.5" fx="0.48" fy="0.4"><stop offset="0" stop-color="#ffffff"/><stop offset="0.16" stop-color="#dccdf2"/><stop offset="0.42" stop-color="#8470b2"/><stop offset="0.8" stop-color="#665296"/><stop offset="1" stop-color="#4c4068"/></radialGradient>
<radialGradient id="gc" cx="0.5" cy="0.5" r="0.5" fx="0.48" fy="0.4"><stop offset="0" stop-color="#ffffff"/><stop offset="0.16" stop-color="#c8f0f4"/><stop offset="0.42" stop-color="#52c2d0"/><stop offset="0.8" stop-color="#36aabb"/><stop offset="1" stop-color="#2a7f8c"/></radialGradient>
<symbol id="mp" overflow="visible"><circle r="5.6" fill="url(#gp)"/></symbol>
<symbol id="mc" overflow="visible"><circle r="5.6" fill="url(#gc)"/></symbol>
</defs>
<clipPath id="cd"><rect x="142.4" y="713.3" width="574.5" height="486.20000000000005"/></clipPath>
<g clip-path="url(#cd)">
<use href="#mc" x="142.4" y="723.3"/>
<use href="#mc" x="142.9" y="727.5"/>
<use href="#mc" x="143.4" y="744.6"/>
<use href="#mc" x="143.9" y="754.2"/>
<use href="#mc" x="144.4" y="760.2"/>
<use href="#mc" x="144.8" y="755.6"/>
<use href="#mc" x="145.3" y="768.9"/>
<use href="#mc" x="145.8" y="767.9"/>
<use href="#mc" x="146.3" y="781.2"/>
<use href="#mc" x="146.8" y="769.9"/>
<use href="#mc" x="147.3" y="781.5"/>
<use href="#mc" x="147.8" y="787.1"/>
<use href="#mc" x="148.3" y="786.0"/>
<use href="#mc" x="148.7" y="789.5"/>
<use href="#mc" x="149.2" y="787.5"/>
<use href="#mc" x="149.7" y="806.9"/>
<use href="#mc" x="150.2" y="789.8"/>
<use href="#mc" x="150.7" y="792.6"/>
<use href="#mc" x="151.2" y="803.3"/>
<use href="#mc" x="151.7" y="802.4"/>
<use href="#mc" x="152.2" y="801.5"/>
<use href="#mc" x="152.7" y="806.9"/>
<use href="#mc" x="153.1" y="793.5"/>
<use href="#mc" x="153.6" y="806.5"/>
<use href="#mc" x="154.1" y="813.6"/>
<use href="#mc" x="154.6" y="810.2"/>
<use href="#mc" x="155.1" y="813.6"/>
<use href="#mc" x="155.6" y="809.8"/>
<use href="#mc" x="156.1" y="825.7"/>
<use href="#mc" x="156.6" y="822.4"/>
<use href="#mc" x="157.0" y="826.3"/>
<use href="#mc" x="157.5" y="822.4"/>
<use href="#mc" x="158.0" y="814.1"/>
<use href="#mc" x="158.5" y="839.4"/>
<use href="#mc" x="159.0" y="833.8"/>
<use href="#mc" x="159.5" y="823.0"/>
<use href="#mc" x="160.0" y="813.2"/>
<use href="#mc" x="160.5" y="829.1"/>
<use href="#mc" x="161.0" y="833.2"/>
<use href="#mc" x="161.4" y="816.7"/>
<use href="#mc" x="161.9" y="833.2"/>
<use href="#mc" x="162.4" y="838.8"/>
<use href="#mc" x="162.9" y="819.2"/>
<use href="#mc" x="163.4" y="835.0"/>
<use href="#mc" x="163.9" y="830.3"/>
<use href="#mc" x="164.4" y="831.4"/>
<use href="#mc" x="164.9" y="843.3"/>
<use href="#mc" x="165.4" y="840.0"/>
<use href="#mc" x="165.8" y="844.6"/>
<use href="#mc" x="166.3" y="833.8"/>
<use href="#mc" x="166.8" y="832.0"/>
<use href="#mc" x="167.3" y="823.5"/>
<use href="#mc" x="167.8" y="830.3"/>
<use href="#mc" x="168.3" y="841.3"/>
<use href="#mc" x="168.8" y="830.9"/>
<use href="#mc" x="169.3" y="846.0"/>
<use href="#mc" x="169.7" y="848.7"/>
<use href="#mc" x="170.2" y="843.3"/>
<use href="#mc" x="170.7" y="850.1"/>
<use href="#mc" x="171.2" y="854.4"/>
<use href="#mc" x="171.7" y="845.3"/>
<use href="#mc" x="172.2" y="854.4"/>
<use href="#mc" x="172.7" y="859.7"/>
<use href="#mc" x="173.2" y="858.2"/>
<use href="#mc" x="173.7" y="845.3"/>
<use href="#mc" x="174.1" y="853.0"/>
<use href="#mc" x="174.6" y="863.6"/>
<use href="#mc" x="175.1" y="867.7"/>
<use href="#mc" x="175.6" y="856.6"/>
<use href="#mc" x="176.1" y="843.9"/>
<use href="#mc" x="176.6" y="866.1"/>
<use href="#mc" x="177.1" y="873.7"/>
<use href="#mc" x="177.6" y="861.2"/>
<use href="#mc" x="178.0" y="851.5"/>
<use href="#mc" x="178.5" y="862.0"/>
<use href="#mc" x="179.0" y="851.5"/>
<use href="#mc" x="179.5" y="856.6"/>
<use href="#mc" x="180.0" y="867.7"/>
<use href="#mc" x="180.5" y="873.7"/>
<use href="#mc" x="181.0" y="874.6"/>
<use href="#mc" x="181.5" y="855.9"/>
<use href="#mc" x="182.0" y="866.1"/>
<use href="#mc" x="182.4" y="857.4"/>
<use href="#mc" x="182.9" y="872.0"/>
<use href="#mc" x="183.4" y="848.0"/>
<use href="#mc" x="183.9" y="869.4"/>
<use href="#mc" x="184.4" y="873.7"/>
<use href="#mc" x="184.9" y="882.0"/>
<use href="#mc" x="185.4" y="879.2"/>
<use href="#mc" x="185.9" y="885.0"/>
<use href="#mc" x="186.3" y="879.2"/>
<use href="#mc" x="186.8" y="860.5"/>
<use href="#mc" x="187.3" y="862.8"/>
<use href="#mc" x="187.8" y="885.9"/>
<use href="#mc" x="188.3" y="871.1"/>
<use href="#mc" x="188.8" y="863.6"/>
<use href="#mc" x="189.3" y="879.2"/>
<use href="#mc" x="189.8" y="872.9"/>
<use href="#mc" x="190.3" y="883.0"/>
<use href="#mc" x="190.7" y="872.9"/>
<use href="#mc" x="191.2" y="885.9"/>
<use href="#mc" x="191.7" y="880.1"/>
<use href="#mc" x="192.2" y="913.1"/>
<use href="#mc" x="192.7" y="885.9"/>
<use href="#mc" x="193.2" y="872.0"/>
<use href="#mc" x="193.7" y="889.0"/>
<use href="#mc" x="194.2" y="886.9"/>
<use href="#mc" x="194.7" y="894.2"/>
<use href="#mc" x="195.1" y="876.4"/>
<use href="#mc" x="195.6" y="900.9"/>
<use href="#mc" x="196.1" y="874.6"/>
<use href="#mc" x="196.6" y="894.2"/>
<use href="#mc" x="197.1" y="883.0"/>
<use href="#mc" x="197.6" y="902.1"/>
<use href="#mc" x="198.1" y="894.2"/>
<use href="#mc" x="198.6" y="915.7"/>
<use href="#mc" x="199.0" y="899.8"/>
<use href="#mc" x="199.5" y="885.0"/>
<use href="#mc" x="200.0" y="885.0"/>
<use href="#mc" x="200.5" y="913.1"/>
<use href="#mc" x="201.0" y="904.4"/>
<use href="#mc" x="201.5" y="891.0"/>
<use href="#mc" x="202.0" y="903.2"/>
<use href="#mc" x="202.5" y="890.0"/>
<use href="#mc" x="203.0" y="897.5"/>
<use href="#mc" x="203.4" y="908.1"/>
<use href="#mc" x="203.9" y="906.8"/>
<use href="#mc" x="204.4" y="921.2"/>
<use href="#mc" x="204.9" y="897.5"/>
<use href="#mc" x="205.4" y="917.1"/>
<use href="#mc" x="205.9" y="902.1"/>
<use href="#mc" x="206.4" y="913.1"/>
<use href="#mc" x="206.9" y="905.6"/>
<use href="#mc" x="207.3" y="917.1"/>
<use href="#mc" x="207.8" y="900.9"/>
<use href="#mc" x="208.3" y="888.0"/>
<use href="#mc" x="208.8" y="911.8"/>
<use href="#mc" x="209.3" y="909.3"/>
<use href="#mc" x="209.8" y="913.1"/>
<use href="#mc" x="210.3" y="942.9"/>
<use href="#mc" x="210.8" y="919.8"/>
<use href="#mc" x="211.3" y="934.6"/>
<use href="#mc" x="211.7" y="911.8"/>
<use href="#mc" x="212.2" y="905.6"/>
<use href="#mc" x="212.7" y="913.1"/>
<use href="#mc" x="213.2" y="933.0"/>
<use href="#mc" x="213.7" y="925.5"/>
<use href="#mc" x="214.2" y="911.8"/>
<use href="#mc" x="214.7" y="941.2"/>
<use href="#mc" x="215.2" y="924.0"/>
<use href="#mc" x="215.6" y="934.6"/>
<use href="#mc" x="216.1" y="930.0"/>
<use href="#mc" x="216.6" y="968.2"/>
<use href="#mc" x="217.1" y="928.4"/>
<use href="#mc" x="217.6" y="937.9"/>
<use href="#mc" x="218.1" y="930.0"/>
<use href="#mc" x="218.6" y="925.5"/>
<use href="#mc" x="219.1" y="924.0"/>
<use href="#mc" x="219.6" y="922.6"/>
<use href="#mc" x="220.0" y="955.8"/>
<use href="#mc" x="220.5" y="946.4"/>
<use href="#mc" x="221.0" y="939.5"/>
<use href="#mc" x="221.5" y="934.6"/>
<use href="#mc" x="222.0" y="944.7"/>
<use href="#mc" x="222.5" y="942.9"/>
<use href="#mc" x="223.0" y="948.2"/>
<use href="#mc" x="223.5" y="937.9"/>
<use href="#mc" x="224.0" y="930.0"/>
<use href="#mc" x="224.4" y="946.4"/>
<use href="#mc" x="224.9" y="951.9"/>
<use href="#mc" x="225.4" y="957.7"/>
<use href="#mc" x="225.9" y="939.5"/>
<use href="#mc" x="226.4" y="948.2"/>
<use href="#mc" x="226.9" y="944.7"/>
<use href="#mc" x="227.4" y="961.8"/>
<use href="#mc" x="227.9" y="931.5"/>
<use href="#mc" x="228.3" y="957.7"/>
<use href="#mc" x="228.8" y="953.8"/>
<use href="#mc" x="229.3" y="939.5"/>
<use href="#mc" x="229.8" y="941.2"/>
<use href="#mc" x="230.3" y="1014.7"/>
<use href="#mc" x="230.8" y="948.2"/>
<use href="#mc" x="231.3" y="946.4"/>
<use href="#mc" x="231.8" y="966.0"/>
<use href="#mc" x="232.3" y="953.8"/>
<use href="#mc" x="232.7" y="972.7"/>
<use href="#mc" x="233.2" y="970.4"/>
<use href="#mc" x="233.7" y="970.4"/>
<use href="#mc" x="234.2" y="975.0"/>
<use href="#mc" x="234.7" y="963.9"/>
<use href="#mc" x="235.2" y="966.0"/>
<use href="#mc" x="235.7" y="966.0"/>
<use href="#mc" x="236.2" y="946.4"/>
<use href="#mc" x="236.6" y="975.0"/>
<use href="#mc" x="237.1" y="972.7"/>
<use href="#mc" x="237.6" y="937.9"/>
<use href="#mc" x="238.1" y="961.8"/>
<use href="#mc" x="238.6" y="961.8"/>
<use href="#mc" x="239.1" y="961.8"/>
<use href="#mc" x="239.6" y="957.7"/>
<use href="#mc" x="240.1" y="1008.0"/>
<use href="#mc" x="240.6" y="966.0"/>
<use href="#mc" x="241.0" y="961.8"/>
<use href="#mc" x="241.5" y="953.8"/>
<use href="#mc" x="242.0" y="984.9"/>
<use href="#mc" x="242.5" y="957.7"/>
<use href="#mc" x="243.0" y="993.0"/>
<use href="#mc" x="243.5" y="977.4"/>
<use href="#mc" x="244.0" y="979.9"/>
<use href="#mc" x="244.5" y="972.7"/>
<use href="#mc" x="244.9" y="982.4"/>
<use href="#mc" x="245.4" y="993.0"/>
<use href="#mc" x="245.9" y="979.9"/>
<use href="#mc" x="246.4" y="951.9"/>
<use href="#mc" x="246.9" y="1018.2"/>
<use href="#mc" x="247.4" y="963.9"/>
<use href="#mc" x="247.9" y="993.0"/>
<use href="#mc" x="248.4" y="990.2"/>
<use href="#mc" x="248.9" y="998.7"/>
<use href="#mc" x="249.3" y="987.5"/>
<use href="#mc" x="249.8" y="977.4"/>
<use href="#mc" x="250.3" y="1029.5"/>
<use href="#mc" x="250.8" y="1008.0"/>
<use href="#mc" x="251.3" y="993.0"/>
<use href="#mc" x="251.8" y="998.7"/>
<use href="#mc" x="252.3" y="982.4"/>
<use href="#mc" x="252.8" y="998.7"/>
<use href="#mc" x="253.2" y="1004.8"/>
<use href="#mc" x="253.7" y="1018.2"/>
<use href="#mc" x="254.2" y="1004.8"/>
<use href="#mc" x="254.7" y="993.0"/>
<use href="#mc" x="255.2" y="1029.5"/>
<use href="#mc" x="255.7" y="968.2"/>
<use href="#mc" x="256.2" y="984.9"/>
<use href="#mc" x="256.7" y="1011.3"/>
<use href="#mc" x="257.2" y="998.7"/>
<use href="#mc" x="257.6" y="990.2"/>
<use href="#mc" x="258.1" y="1025.6"/>
<use href="#mc" x="258.6" y="1008.0"/>
<use href="#mc" x="259.1" y="982.4"/>
<use href="#mc" x="259.6" y="982.4"/>
<use href="#mc" x="260.1" y="1014.7"/>
<use href="#mc" x="260.6" y="1014.7"/>
<use href="#mc" x="261.1" y="1029.5"/>
<use href="#mc" x="261.6" y="1008.0"/>
<use href="#mc" x="262.0" y="1004.8"/>
<use href="#mc" x="262.5" y="1001.7"/>
<use href="#mc" x="263.0" y="990.2"/>
<use href="#mc" x="263.5" y="1001.7"/>
<use href="#mc" x="264.0" y="998.7"/>
<use href="#mc" x="264.5" y="1018.2"/>
<use href="#mc" x="265.0" y="1046.8"/>
<use href="#mc" x="265.5" y="1004.8"/>
<use href="#mc" x="265.9" y="1014.7"/>
<use href="#mc" x="266.4" y="1001.7"/>
<use href="#mc" x="266.9" y="1018.2"/>
<use href="#mc" x="267.4" y="1018.2"/>
<use href="#mc" x="267.9" y="1011.3"/>
<use href="#mc" x="268.4" y="1029.5"/>
<use href="#mc" x="268.9" y="1029.5"/>
<use href="#mc" x="269.4" y="1014.7"/>
<use href="#mc" x="269.9" y="1033.6"/>
<use href="#mc" x="270.3" y="993.0"/>
<use href="#mc" x="270.8" y="1033.6"/>
<use href="#mc" x="271.3" y="1042.2"/>
<use href="#mc" x="271.8" y="1051.7"/>
<use href="#mc" x="272.3" y="1056.7"/>
<use href="#mc" x="272.8" y="1033.6"/>
<use href="#mc" x="273.3" y="1037.8"/>
<use href="#mc" x="273.8" y="1011.3"/>
<use href="#mc" x="274.2" y="1004.8"/>
<use href="#mc" x="274.7" y="1042.2"/>
<use href="#mc" x="275.2" y="1033.6"/>
<use href="#mc" x="275.7" y="1014.7"/>
<use href="#mc" x="276.2" y="1056.7"/>
<use href="#mc" x="276.7" y="1014.7"/>
<use href="#mc" x="277.2" y="1051.7"/>
<use href="#mc" x="277.7" y="1025.6"/>
<use href="#mc" x="278.2" y="1042.2"/>
<use href="#mc" x="278.6" y="1073.5"/>
<use href="#mc" x="279.1" y="1056.7"/>
<use href="#mc" x="279.6" y="1025.6"/>
<use href="#mc" x="280.1" y="1067.6"/>
<use href="#mc" x="280.6" y="1046.8"/>
<use href="#mc" x="281.1" y="1011.3"/>
<use href="#mc" x="281.6" y="1037.8"/>
<use href="#mc" x="282.1" y="1056.7"/>
<use href="#mc" x="282.5" y="1033.6"/>
<use href="#mc" x="283.0" y="1037.8"/>
<use href="#mc" x="283.5" y="1051.7"/>
<use href="#mc" x="284.0" y="1073.5"/>
<use href="#mc" x="284.5" y="1033.6"/>
<use href="#mc" x="285.0" y="1051.7"/>
<use href="#mc" x="285.5" y="1042.2"/>
<use href="#mc" x="286.0" y="1079.8"/>
<use href="#mc" x="286.5" y="1018.2"/>
<use href="#mc" x="286.9" y="1051.7"/>
<use href="#mc" x="287.4" y="1101.3"/>
<use href="#mc" x="287.9" y="1101.3"/>
<use href="#mc" x="288.4" y="1056.7"/>
<use href="#mc" x="288.9" y="1033.6"/>
<use href="#mc" x="289.4" y="1067.6"/>
<use href="#mc" x="289.9" y="1029.5"/>
<use href="#mc" x="290.4" y="990.2"/>
<use href="#mc" x="290.9" y="1093.7"/>
<use href="#mc" x="291.3" y="1042.2"/>
<use href="#mc" x="291.8" y="1062.0"/>
<use href="#mc" x="292.3" y="1037.8"/>
<use href="#mc" x="292.8" y="1042.2"/>
<use href="#mc" x="293.3" y="1046.8"/>
<use href="#mc" x="293.8" y="1025.6"/>
<use href="#mc" x="294.3" y="1062.0"/>
<use href="#mc" x="294.8" y="1086.5"/>
<use href="#mc" x="295.2" y="1093.7"/>
<use href="#mc" x="295.7" y="1051.7"/>
<use href="#mc" x="296.2" y="1062.0"/>
<use href="#mc" x="296.7" y="1109.6"/>
<use href="#mc" x="297.2" y="1086.5"/>
<use href="#mc" x="297.7" y="1093.7"/>
<use href="#mc" x="298.2" y="1051.7"/>
<use href="#mc" x="298.7" y="1073.5"/>
<use href="#mc" x="299.2" y="1086.5"/>
<use href="#mc" x="299.6" y="1079.8"/>
<use href="#mc" x="300.1" y="1128.5"/>
<use href="#mc" x="300.6" y="1067.6"/>
<use href="#mc" x="301.1" y="1062.0"/>
<use href="#mc" x="301.6" y="1079.8"/>
<use href="#mc" x="302.1" y="1118.6"/>
<use href="#mc" x="302.6" y="1101.3"/>
<use href="#mc" x="303.1" y="1046.8"/>
<use href="#mc" x="303.5" y="1073.5"/>
<use href="#mc" x="304.0" y="1051.7"/>
<use href="#mc" x="304.5" y="1067.6"/>
<use href="#mc" x="305.0" y="1128.5"/>
<use href="#mc" x="305.5" y="1037.8"/>
<use href="#mc" x="306.0" y="1101.3"/>
<use href="#mc" x="306.5" y="1109.6"/>
<use href="#mc" x="307.0" y="1109.6"/>
<use href="#mc" x="307.5" y="1139.4"/>
<use href="#mc" x="307.9" y="1073.5"/>
<use href="#mc" x="308.4" y="1062.0"/>
<use href="#mc" x="308.9" y="1093.7"/>
<use href="#mc" x="309.4" y="1062.0"/>
<use href="#mc" x="309.9" y="1101.3"/>
<use href="#mc" x="310.4" y="1056.7"/>
<use href="#mc" x="310.9" y="1139.4"/>
<use href="#mc" x="311.4" y="1062.0"/>
<use href="#mc" x="311.8" y="1101.3"/>
<use href="#mc" x="312.3" y="1165.4"/>
<use href="#mc" x="312.8" y="1109.6"/>
<use href="#mc" x="313.3" y="1073.5"/>
<use href="#mc" x="313.8" y="1101.3"/>
<use href="#mc" x="314.3" y="1073.5"/>
<use href="#mc" x="314.8" y="1079.8"/>
<use href="#mc" x="315.3" y="1101.3"/>
<use href="#mc" x="315.8" y="1151.6"/>
<use href="#mc" x="316.2" y="1109.6"/>
<use href="#mc" x="316.7" y="1128.5"/>
<use href="#mc" x="317.2" y="1051.7"/>
<use href="#mc" x="317.7" y="1086.5"/>
<use href="#mc" x="318.2" y="1101.3"/>
<use href="#mc" x="318.7" y="1128.5"/>
<use href="#mc" x="319.2" y="1109.6"/>
<use href="#mc" x="319.7" y="1181.4"/>
<use href="#mc" x="320.2" y="1086.5"/>
<use href="#mc" x="321.1" y="1118.6"/>
<use href="#mc" x="321.6" y="1073.5"/>
<use href="#mc" x="322.1" y="1086.5"/>
<use href="#mc" x="322.6" y="1128.5"/>
<use href="#mc" x="323.1" y="1118.6"/>
<use href="#mc" x="323.6" y="1165.4"/>
<use href="#mc" x="324.1" y="1181.4"/>
<use href="#mc" x="324.5" y="1151.6"/>
<use href="#mc" x="325.0" y="1181.4"/>
<use href="#mc" x="325.5" y="1200.3"/>
<use href="#mc" x="326.0" y="1109.6"/>
<use href="#mc" x="326.5" y="1165.4"/>
<use href="#mc" x="327.0" y="1101.3"/>
<use href="#mc" x="327.5" y="1067.6"/>
<use href="#mc" x="328.0" y="1067.6"/>
<use href="#mc" x="328.5" y="1139.4"/>
<use href="#mc" x="328.9" y="1165.4"/>
<use href="#mc" x="329.4" y="1151.6"/>
<use href="#mc" x="329.9" y="1200.3"/>
<use href="#mc" x="330.4" y="1128.5"/>
<use href="#mc" x="330.9" y="1118.6"/>
<use href="#mc" x="331.4" y="1128.5"/>
<use href="#mc" x="331.9" y="1079.8"/>
<use href="#mc" x="332.4" y="1165.4"/>
<use href="#mc" x="332.8" y="1101.3"/>
<use href="#mc" x="333.3" y="1139.4"/>
<use href="#mc" x="333.8" y="1118.6"/>
<use href="#mc" x="334.3" y="1128.5"/>
<use href="#mc" x="334.8" y="1118.6"/>
<use href="#mc" x="335.3" y="1128.5"/>
<use href="#mc" x="335.8" y="1139.4"/>
<use href="#mc" x="336.3" y="1165.4"/>
<use href="#mc" x="336.8" y="1118.6"/>
<use href="#mc" x="337.7" y="1151.6"/>
<use href="#mc" x="338.2" y="1200.3"/>
<use href="#mc" x="338.7" y="1109.6"/>
<use href="#mc" x="339.2" y="1165.4"/>
<use href="#mc" x="339.7" y="1165.4"/>
<use href="#mc" x="340.2" y="1181.4"/>
<use href="#mc" x="340.7" y="1139.4"/>
<use href="#mc" x="341.1" y="1139.4"/>
<use href="#mc" x="341.6" y="1128.5"/>
<use href="#mc" x="342.1" y="1128.5"/>
<use href="#mc" x="343.1" y="1128.5"/>
<use href="#mc" x="343.6" y="1109.6"/>
<use href="#mc" x="344.1" y="1181.4"/>
<use href="#mc" x="344.6" y="1139.4"/>
<use href="#mc" x="345.1" y="1200.3"/>
<use href="#mc" x="346.5" y="1151.6"/>
<use href="#mc" x="347.0" y="1165.4"/>
<use href="#mc" x="347.5" y="1139.4"/>
<use href="#mc" x="348.0" y="1181.4"/>
<use href="#mc" x="348.5" y="1151.6"/>
<use href="#mc" x="349.9" y="1151.6"/>
<use href="#mc" x="350.4" y="1139.4"/>
<use href="#mc" x="350.9" y="1165.4"/>
<use href="#mc" x="351.4" y="1165.4"/>
<use href="#mc" x="352.9" y="1200.3"/>
<use href="#mc" x="353.4" y="1109.6"/>
<use href="#mc" x="353.8" y="1181.4"/>
<use href="#mc" x="354.3" y="1181.4"/>
<use href="#mc" x="354.8" y="1200.3"/>
<use href="#mc" x="357.3" y="1181.4"/>
<use href="#mc" x="357.8" y="1165.4"/>
<use href="#mc" x="358.7" y="1151.6"/>
<use href="#mc" x="359.7" y="1200.3"/>
<use href="#mc" x="360.2" y="1200.3"/>
<use href="#mc" x="360.7" y="1151.6"/>
<use href="#mc" x="361.7" y="1200.3"/>
<use href="#mc" x="362.6" y="1128.5"/>
<use href="#mc" x="363.1" y="1151.6"/>
<use href="#mc" x="364.1" y="1200.3"/>
<use href="#mc" x="364.6" y="1151.6"/>
<use href="#mc" x="365.6" y="1200.3"/>
<use href="#mc" x="366.1" y="1139.4"/>
<use href="#mc" x="366.5" y="1181.4"/>
<use href="#mc" x="367.0" y="1165.4"/>
<use href="#mc" x="367.5" y="1151.6"/>
<use href="#mc" x="368.0" y="1200.3"/>
<use href="#mc" x="369.0" y="1165.4"/>
<use href="#mc" x="370.0" y="1200.3"/>
<use href="#mc" x="371.4" y="1181.4"/>
<use href="#mc" x="372.9" y="1165.4"/>
<use href="#mc" x="373.9" y="1181.4"/>
<use href="#mc" x="374.4" y="1165.4"/>
<use href="#mc" x="374.8" y="1181.4"/>
<use href="#mc" x="375.8" y="1151.6"/>
<use href="#mc" x="376.3" y="1200.3"/>
<use href="#mc" x="377.8" y="1200.3"/>
<use href="#mc" x="378.3" y="1165.4"/>
<use href="#mc" x="381.2" y="1200.3"/>
<use href="#mc" x="382.2" y="1200.3"/>
<use href="#mc" x="383.1" y="1181.4"/>
<use href="#mc" x="384.1" y="1181.4"/>
<use href="#mc" x="384.6" y="1200.3"/>
<use href="#mc" x="385.1" y="1181.4"/>
<use href="#mc" x="387.5" y="1200.3"/>
<use href="#mc" x="396.8" y="1200.3"/>
<use href="#mc" x="406.0" y="1200.3"/>
<use href="#mc" x="413.9" y="1200.3"/>
<use href="#mp" x="142.4" y="723.3"/>
<use href="#mp" x="142.9" y="728.4"/>
<use href="#mp" x="143.4" y="750.4"/>
<use href="#mp" x="143.9" y="735.4"/>
<use href="#mp" x="144.4" y="746.2"/>
<use href="#mp" x="144.8" y="742.8"/>
<use href="#mp" x="145.3" y="742.8"/>
<use href="#mp" x="145.8" y="745.6"/>
<use href="#mp" x="146.3" y="768.2"/>
<use href="#mp" x="146.8" y="767.6"/>
<use href="#mp" x="147.3" y="771.2"/>
<use href="#mp" x="147.8" y="764.2"/>
<use href="#mp" x="148.3" y="767.6"/>
<use href="#mp" x="148.7" y="764.8"/>
<use href="#mp" x="149.2" y="768.9"/>
<use href="#mp" x="149.7" y="773.8"/>
<use href="#mp" x="150.2" y="771.8"/>
<use href="#mp" x="150.7" y="767.0"/>
<use href="#mp" x="151.2" y="772.8"/>
<use href="#mp" x="151.7" y="776.2"/>
<use href="#mp" x="152.2" y="773.5"/>
<use href="#mp" x="152.7" y="774.2"/>
<use href="#mp" x="153.1" y="772.8"/>
<use href="#mp" x="153.6" y="774.2"/>
<use href="#mp" x="154.1" y="767.9"/>
<use href="#mp" x="154.6" y="781.9"/>
<use href="#mp" x="155.1" y="777.3"/>
<use href="#mp" x="155.6" y="771.2"/>
<use href="#mp" x="156.1" y="779.0"/>
<use href="#mp" x="156.6" y="775.2"/>
<use href="#mp" x="157.0" y="767.9"/>
<use href="#mp" x="157.5" y="775.5"/>
<use href="#mp" x="158.0" y="780.8"/>
<use href="#mp" x="158.5" y="787.5"/>
<use href="#mp" x="159.0" y="786.4"/>
<use href="#mp" x="159.5" y="783.0"/>
<use href="#mp" x="160.0" y="781.5"/>
<use href="#mp" x="160.5" y="773.1"/>
<use href="#mp" x="161.0" y="779.7"/>
<use href="#mp" x="161.4" y="784.1"/>
<use href="#mp" x="161.9" y="795.5"/>
<use href="#mp" x="162.4" y="781.9"/>
<use href="#mp" x="162.9" y="781.9"/>
<use href="#mp" x="163.4" y="785.6"/>
<use href="#mp" x="163.9" y="780.8"/>
<use href="#mp" x="164.4" y="779.4"/>
<use href="#mp" x="164.9" y="792.2"/>
<use href="#mp" x="165.4" y="783.4"/>
<use href="#mp" x="165.8" y="786.0"/>
<use href="#mp" x="166.3" y="784.5"/>
<use href="#mp" x="166.8" y="789.5"/>
<use href="#mp" x="167.3" y="782.3"/>
<use href="#mp" x="167.8" y="787.9"/>
<use href="#mp" x="168.3" y="782.3"/>
<use href="#mp" x="168.8" y="788.3"/>
<use href="#mp" x="169.3" y="795.9"/>
<use href="#mp" x="169.7" y="791.8"/>
<use href="#mp" x="170.2" y="784.8"/>
<use href="#mp" x="170.7" y="788.7"/>
<use href="#mp" x="171.2" y="798.9"/>
<use href="#mp" x="171.7" y="788.7"/>
<use href="#mp" x="172.2" y="798.9"/>
<use href="#mp" x="172.7" y="783.7"/>
<use href="#mp" x="173.2" y="786.7"/>
<use href="#mp" x="173.7" y="793.0"/>
<use href="#mp" x="174.1" y="807.9"/>
<use href="#mp" x="174.6" y="793.5"/>
<use href="#mp" x="175.1" y="790.2"/>
<use href="#mp" x="175.6" y="789.5"/>
<use href="#mp" x="176.1" y="785.2"/>
<use href="#mp" x="176.6" y="791.4"/>
<use href="#mp" x="177.1" y="799.8"/>
<use href="#mp" x="177.6" y="808.3"/>
<use href="#mp" x="178.0" y="784.5"/>
<use href="#mp" x="178.5" y="803.3"/>
<use href="#mp" x="179.0" y="805.1"/>
<use href="#mp" x="179.5" y="803.7"/>
<use href="#mp" x="180.0" y="790.6"/>
<use href="#mp" x="180.5" y="811.2"/>
<use href="#mp" x="181.0" y="806.0"/>
<use href="#mp" x="181.5" y="807.9"/>
<use href="#mp" x="182.0" y="809.3"/>
<use href="#mp" x="182.4" y="809.3"/>
<use href="#mp" x="182.9" y="806.9"/>
<use href="#mp" x="183.4" y="793.5"/>
<use href="#mp" x="183.9" y="809.8"/>
<use href="#mp" x="184.4" y="795.1"/>
<use href="#mp" x="184.9" y="801.5"/>
<use href="#mp" x="185.4" y="806.5"/>
<use href="#mp" x="185.9" y="800.2"/>
<use href="#mp" x="186.3" y="804.2"/>
<use href="#mp" x="186.8" y="806.9"/>
<use href="#mp" x="187.3" y="810.2"/>
<use href="#mp" x="187.8" y="811.7"/>
<use href="#mp" x="188.3" y="804.2"/>
<use href="#mp" x="188.8" y="814.6"/>
<use href="#mp" x="189.3" y="798.0"/>
<use href="#mp" x="189.8" y="818.7"/>
<use href="#mp" x="190.3" y="810.7"/>
<use href="#mp" x="190.7" y="809.3"/>
<use href="#mp" x="191.2" y="801.5"/>
<use href="#mp" x="191.7" y="801.5"/>
<use href="#mp" x="192.2" y="812.7"/>
<use href="#mp" x="192.7" y="810.2"/>
<use href="#mp" x="193.2" y="810.7"/>
<use href="#mp" x="193.7" y="813.2"/>
<use href="#mp" x="194.2" y="818.7"/>
<use href="#mp" x="194.7" y="819.2"/>
<use href="#mp" x="195.1" y="794.7"/>
<use href="#mp" x="195.6" y="811.7"/>
<use href="#mp" x="196.1" y="814.6"/>
<use href="#mp" x="196.6" y="824.1"/>
<use href="#mp" x="197.1" y="814.6"/>
<use href="#mp" x="197.6" y="814.1"/>
<use href="#mp" x="198.1" y="813.6"/>
<use href="#mp" x="198.6" y="799.8"/>
<use href="#mp" x="199.0" y="830.9"/>
<use href="#mp" x="199.5" y="810.7"/>
<use href="#mp" x="200.0" y="820.8"/>
<use href="#mp" x="200.5" y="816.2"/>
<use href="#mp" x="201.0" y="820.8"/>
<use href="#mp" x="201.5" y="816.7"/>
<use href="#mp" x="202.0" y="822.4"/>
<use href="#mp" x="202.5" y="827.4"/>
<use href="#mp" x="203.0" y="825.2"/>
<use href="#mp" x="203.4" y="815.7"/>
<use href="#mp" x="203.9" y="829.1"/>
<use href="#mp" x="204.4" y="819.8"/>
<use href="#mp" x="204.9" y="819.8"/>
<use href="#mp" x="205.4" y="822.4"/>
<use href="#mp" x="205.9" y="824.6"/>
<use href="#mp" x="206.4" y="829.7"/>
<use href="#mp" x="206.9" y="842.0"/>
<use href="#mp" x="207.3" y="825.2"/>
<use href="#mp" x="207.8" y="827.4"/>
<use href="#mp" x="208.3" y="817.7"/>
<use href="#mp" x="208.8" y="835.0"/>
<use href="#mp" x="209.3" y="842.6"/>
<use href="#mp" x="209.8" y="821.9"/>
<use href="#mp" x="210.3" y="823.0"/>
<use href="#mp" x="210.8" y="820.3"/>
<use href="#mp" x="211.3" y="826.8"/>
<use href="#mp" x="211.7" y="822.4"/>
<use href="#mp" x="212.2" y="827.4"/>
<use href="#mp" x="212.7" y="836.9"/>
<use href="#mp" x="213.2" y="831.4"/>
<use href="#mp" x="213.7" y="842.0"/>
<use href="#mp" x="214.2" y="815.7"/>
<use href="#mp" x="214.7" y="845.3"/>
<use href="#mp" x="215.2" y="835.7"/>
<use href="#mp" x="215.6" y="837.5"/>
<use href="#mp" x="216.1" y="837.5"/>
<use href="#mp" x="216.6" y="842.6"/>
<use href="#mp" x="217.1" y="830.9"/>
<use href="#mp" x="217.6" y="841.3"/>
<use href="#mp" x="218.1" y="844.6"/>
<use href="#mp" x="218.6" y="836.3"/>
<use href="#mp" x="219.1" y="833.8"/>
<use href="#mp" x="219.6" y="830.9"/>
<use href="#mp" x="220.0" y="835.0"/>
<use href="#mp" x="220.5" y="844.6"/>
<use href="#mp" x="221.0" y="829.7"/>
<use href="#mp" x="221.5" y="832.6"/>
<use href="#mp" x="222.0" y="840.7"/>
<use href="#mp" x="222.5" y="843.3"/>
<use href="#mp" x="223.0" y="844.6"/>
<use href="#mp" x="223.5" y="833.8"/>
<use href="#mp" x="224.0" y="833.2"/>
<use href="#mp" x="224.4" y="853.0"/>
<use href="#mp" x="224.9" y="839.4"/>
<use href="#mp" x="225.4" y="843.3"/>
<use href="#mp" x="225.9" y="841.3"/>
<use href="#mp" x="226.4" y="842.6"/>
<use href="#mp" x="226.9" y="852.2"/>
<use href="#mp" x="227.4" y="841.3"/>
<use href="#mp" x="227.9" y="853.0"/>
<use href="#mp" x="228.3" y="840.0"/>
<use href="#mp" x="228.8" y="844.6"/>
<use href="#mp" x="229.3" y="847.3"/>
<use href="#mp" x="229.8" y="848.0"/>
<use href="#mp" x="230.3" y="850.8"/>
<use href="#mp" x="230.8" y="848.7"/>
<use href="#mp" x="231.3" y="861.2"/>
<use href="#mp" x="231.8" y="848.0"/>
<use href="#mp" x="232.3" y="844.6"/>
<use href="#mp" x="232.7" y="847.3"/>
<use href="#mp" x="233.2" y="853.0"/>
<use href="#mp" x="233.7" y="865.2"/>
<use href="#mp" x="234.2" y="853.0"/>
<use href="#mp" x="234.7" y="855.2"/>
<use href="#mp" x="235.2" y="841.3"/>
<use href="#mp" x="235.7" y="854.4"/>
<use href="#mp" x="236.2" y="851.5"/>
<use href="#mp" x="236.6" y="859.7"/>
<use href="#mp" x="237.1" y="874.6"/>
<use href="#mp" x="237.6" y="850.8"/>
<use href="#mp" x="238.1" y="865.2"/>
<use href="#mp" x="238.6" y="850.8"/>
<use href="#mp" x="239.1" y="858.9"/>
<use href="#mp" x="239.6" y="860.5"/>
<use href="#mp" x="240.1" y="855.2"/>
<use href="#mp" x="240.6" y="861.2"/>
<use href="#mp" x="241.0" y="846.6"/>
<use href="#mp" x="241.5" y="848.0"/>
<use href="#mp" x="242.0" y="857.4"/>
<use href="#mp" x="242.5" y="858.9"/>
<use href="#mp" x="243.0" y="868.6"/>
<use href="#mp" x="243.5" y="853.7"/>
<use href="#mp" x="244.0" y="859.7"/>
<use href="#mp" x="244.5" y="857.4"/>
<use href="#mp" x="244.9" y="872.0"/>
<use href="#mp" x="245.4" y="860.5"/>
<use href="#mp" x="245.9" y="858.2"/>
<use href="#mp" x="246.4" y="874.6"/>
<use href="#mp" x="246.9" y="854.4"/>
<use href="#mp" x="247.4" y="872.0"/>
<use href="#mp" x="247.9" y="855.9"/>
<use href="#mp" x="248.4" y="860.5"/>
<use href="#mp" x="248.9" y="871.1"/>
<use href="#mp" x="249.3" y="862.0"/>
<use href="#mp" x="249.8" y="853.0"/>
<use href="#mp" x="250.3" y="873.7"/>
<use href="#mp" x="250.8" y="863.6"/>
<use href="#mp" x="251.3" y="863.6"/>
<use href="#mp" x="251.8" y="872.9"/>
<use href="#mp" x="252.3" y="873.7"/>
<use href="#mp" x="252.8" y="858.2"/>
<use href="#mp" x="253.2" y="854.4"/>
<use href="#mp" x="253.7" y="872.0"/>
<use href="#mp" x="254.2" y="869.4"/>
<use href="#mp" x="254.7" y="863.6"/>
<use href="#mp" x="255.2" y="888.0"/>
<use href="#mp" x="255.7" y="888.0"/>
<use href="#mp" x="256.2" y="876.4"/>
<use href="#mp" x="256.7" y="889.0"/>
<use href="#mp" x="257.2" y="860.5"/>
<use href="#mp" x="257.6" y="876.4"/>
<use href="#mp" x="258.1" y="869.4"/>
<use href="#mp" x="258.6" y="866.9"/>
<use href="#mp" x="259.1" y="880.1"/>
<use href="#mp" x="259.6" y="880.1"/>
<use href="#mp" x="260.1" y="867.7"/>
<use href="#mp" x="260.6" y="880.1"/>
<use href="#mp" x="261.1" y="878.3"/>
<use href="#mp" x="261.6" y="877.3"/>
<use href="#mp" x="262.0" y="893.2"/>
<use href="#mp" x="262.5" y="881.1"/>
<use href="#mp" x="263.0" y="872.0"/>
<use href="#mp" x="263.5" y="890.0"/>
<use href="#mp" x="264.0" y="883.0"/>
<use href="#mp" x="264.5" y="878.3"/>
<use href="#mp" x="265.0" y="892.1"/>
<use href="#mp" x="265.5" y="883.0"/>
<use href="#mp" x="265.9" y="890.0"/>
<use href="#mp" x="266.4" y="865.2"/>
<use href="#mp" x="266.9" y="885.9"/>
<use href="#mp" x="267.4" y="873.7"/>
<use href="#mp" x="267.9" y="890.0"/>
<use href="#mp" x="268.4" y="866.9"/>
<use href="#mp" x="268.9" y="889.0"/>
<use href="#mp" x="269.4" y="868.6"/>
<use href="#mp" x="269.9" y="876.4"/>
<use href="#mp" x="270.3" y="884.0"/>
<use href="#mp" x="270.8" y="891.0"/>
<use href="#mp" x="271.3" y="866.9"/>
<use href="#mp" x="271.8" y="886.9"/>
<use href="#mp" x="272.3" y="891.0"/>
<use href="#mp" x="272.8" y="877.3"/>
<use href="#mp" x="273.3" y="897.5"/>
<use href="#mp" x="273.8" y="888.0"/>
<use href="#mp" x="274.2" y="889.0"/>
<use href="#mp" x="274.7" y="885.0"/>
<use href="#mp" x="275.2" y="886.9"/>
<use href="#mp" x="275.7" y="892.1"/>
<use href="#mp" x="276.2" y="875.5"/>
<use href="#mp" x="276.7" y="885.0"/>
<use href="#mp" x="277.2" y="895.3"/>
<use href="#mp" x="277.7" y="894.2"/>
<use href="#mp" x="278.2" y="893.2"/>
<use href="#mp" x="278.6" y="888.0"/>
<use href="#mp" x="279.1" y="904.4"/>
<use href="#mp" x="279.6" y="873.7"/>
<use href="#mp" x="280.1" y="890.0"/>
<use href="#mp" x="280.6" y="896.4"/>
<use href="#mp" x="281.1" y="890.0"/>
<use href="#mp" x="281.6" y="896.4"/>
<use href="#mp" x="282.1" y="909.3"/>
<use href="#mp" x="282.5" y="911.8"/>
<use href="#mp" x="283.0" y="894.2"/>
<use href="#mp" x="283.5" y="902.1"/>
<use href="#mp" x="284.0" y="899.8"/>
<use href="#mp" x="284.5" y="882.0"/>
<use href="#mp" x="285.0" y="890.0"/>
<use href="#mp" x="285.5" y="891.0"/>
<use href="#mp" x="286.0" y="899.8"/>
<use href="#mp" x="286.5" y="897.5"/>
<use href="#mp" x="286.9" y="890.0"/>
<use href="#mp" x="287.4" y="895.3"/>
<use href="#mp" x="287.9" y="883.0"/>
<use href="#mp" x="288.4" y="893.2"/>
<use href="#mp" x="288.9" y="885.9"/>
<use href="#mp" x="289.4" y="895.3"/>
<use href="#mp" x="289.9" y="906.8"/>
<use href="#mp" x="290.4" y="885.9"/>
<use href="#mp" x="290.9" y="900.9"/>
<use href="#mp" x="291.3" y="926.9"/>
<use href="#mp" x="291.8" y="904.4"/>
<use href="#mp" x="292.3" y="899.8"/>
<use href="#mp" x="292.8" y="905.6"/>
<use href="#mp" x="293.3" y="897.5"/>
<use href="#mp" x="293.8" y="903.2"/>
<use href="#mp" x="294.3" y="885.0"/>
<use href="#mp" x="294.8" y="903.2"/>
<use href="#mp" x="295.2" y="899.8"/>
<use href="#mp" x="295.7" y="921.2"/>
<use href="#mp" x="296.2" y="905.6"/>
<use href="#mp" x="296.7" y="892.1"/>
<use href="#mp" x="297.2" y="891.0"/>
<use href="#mp" x="297.7" y="903.2"/>
<use href="#mp" x="298.2" y="905.6"/>
<use href="#mp" x="298.7" y="892.1"/>
<use href="#mp" x="299.2" y="914.4"/>
<use href="#mp" x="299.6" y="930.0"/>
<use href="#mp" x="300.1" y="911.8"/>
<use href="#mp" x="300.6" y="925.5"/>
<use href="#mp" x="301.1" y="893.2"/>
<use href="#mp" x="301.6" y="905.6"/>
<use href="#mp" x="302.1" y="903.2"/>
<use href="#mp" x="302.6" y="934.6"/>
<use href="#mp" x="303.1" y="905.6"/>
<use href="#mp" x="303.5" y="910.6"/>
<use href="#mp" x="304.0" y="895.3"/>
<use href="#mp" x="304.5" y="918.4"/>
<use href="#mp" x="305.0" y="917.1"/>
<use href="#mp" x="305.5" y="908.1"/>
<use href="#mp" x="306.0" y="904.4"/>
<use href="#mp" x="306.5" y="904.4"/>
<use href="#mp" x="307.0" y="915.7"/>
<use href="#mp" x="307.5" y="921.2"/>
<use href="#mp" x="307.9" y="919.8"/>
<use href="#mp" x="308.4" y="911.8"/>
<use href="#mp" x="308.9" y="942.9"/>
<use href="#mp" x="309.4" y="914.4"/>
<use href="#mp" x="309.9" y="928.4"/>
<use href="#mp" x="310.4" y="928.4"/>
<use href="#mp" x="310.9" y="911.8"/>
<use href="#mp" x="311.4" y="898.6"/>
<use href="#mp" x="311.8" y="908.1"/>
<use href="#mp" x="312.3" y="928.4"/>
<use href="#mp" x="312.8" y="904.4"/>
<use href="#mp" x="313.3" y="924.0"/>
<use href="#mp" x="313.8" y="918.4"/>
<use href="#mp" x="314.3" y="944.7"/>
<use href="#mp" x="314.8" y="911.8"/>
<use href="#mp" x="315.3" y="914.4"/>
<use href="#mp" x="315.8" y="941.2"/>
<use href="#mp" x="316.2" y="903.2"/>
<use href="#mp" x="316.7" y="919.8"/>
<use href="#mp" x="317.2" y="939.5"/>
<use href="#mp" x="317.7" y="914.4"/>
<use href="#mp" x="318.2" y="939.5"/>
<use href="#mp" x="318.7" y="909.3"/>
<use href="#mp" x="319.2" y="937.9"/>
<use href="#mp" x="319.7" y="941.2"/>
<use href="#mp" x="320.2" y="936.2"/>
<use href="#mp" x="320.6" y="904.4"/>
<use href="#mp" x="321.1" y="921.2"/>
<use href="#mp" x="321.6" y="942.9"/>
<use href="#mp" x="322.1" y="953.8"/>
<use href="#mp" x="322.6" y="933.0"/>
<use href="#mp" x="323.1" y="924.0"/>
<use href="#mp" x="323.6" y="933.0"/>
<use href="#mp" x="324.1" y="926.9"/>
<use href="#mp" x="324.5" y="922.6"/>
<use href="#mp" x="325.0" y="951.9"/>
<use href="#mp" x="325.5" y="915.7"/>
<use href="#mp" x="326.0" y="946.4"/>
<use href="#mp" x="326.5" y="930.0"/>
<use href="#mp" x="327.0" y="944.7"/>
<use href="#mp" x="327.5" y="914.4"/>
<use href="#mp" x="328.0" y="950.1"/>
<use href="#mp" x="328.5" y="930.0"/>
<use href="#mp" x="328.9" y="941.2"/>
<use href="#mp" x="329.4" y="913.1"/>
<use href="#mp" x="329.9" y="948.2"/>
<use href="#mp" x="330.4" y="931.5"/>
<use href="#mp" x="330.9" y="941.2"/>
<use href="#mp" x="331.4" y="937.9"/>
<use href="#mp" x="331.9" y="939.5"/>
<use href="#mp" x="332.4" y="941.2"/>
<use href="#mp" x="332.8" y="939.5"/>
<use href="#mp" x="333.3" y="919.8"/>
<use href="#mp" x="333.8" y="953.8"/>
<use href="#mp" x="334.3" y="942.9"/>
<use href="#mp" x="334.8" y="934.6"/>
<use href="#mp" x="335.3" y="933.0"/>
<use href="#mp" x="335.8" y="950.1"/>
<use href="#mp" x="336.3" y="961.8"/>
<use href="#mp" x="336.8" y="961.8"/>
<use href="#mp" x="337.2" y="957.7"/>
<use href="#mp" x="337.7" y="944.7"/>
<use href="#mp" x="338.2" y="951.9"/>
<use href="#mp" x="338.7" y="933.0"/>
<use href="#mp" x="339.2" y="937.9"/>
<use href="#mp" x="339.7" y="944.7"/>
<use href="#mp" x="340.2" y="942.9"/>
<use href="#mp" x="340.7" y="972.7"/>
<use href="#mp" x="341.1" y="951.9"/>
<use href="#mp" x="341.6" y="972.7"/>
<use href="#mp" x="342.1" y="959.7"/>
<use href="#mp" x="342.6" y="937.9"/>
<use href="#mp" x="343.1" y="946.4"/>
<use href="#mp" x="343.6" y="944.7"/>
<use href="#mp" x="344.1" y="933.0"/>
<use href="#mp" x="344.6" y="955.8"/>
<use href="#mp" x="345.1" y="966.0"/>
<use href="#mp" x="345.5" y="953.8"/>
<use href="#mp" x="346.0" y="948.2"/>
<use href="#mp" x="346.5" y="950.1"/>
<use href="#mp" x="347.0" y="942.9"/>
<use href="#mp" x="347.5" y="924.0"/>
<use href="#mp" x="348.0" y="950.1"/>
<use href="#mp" x="348.5" y="979.9"/>
<use href="#mp" x="349.0" y="957.7"/>
<use href="#mp" x="349.4" y="972.7"/>
<use href="#mp" x="349.9" y="939.5"/>
<use href="#mp" x="350.4" y="939.5"/>
<use href="#mp" x="350.9" y="951.9"/>
<use href="#mp" x="351.4" y="939.5"/>
<use href="#mp" x="351.9" y="957.7"/>
<use href="#mp" x="352.4" y="924.0"/>
<use href="#mp" x="352.9" y="941.2"/>
<use href="#mp" x="353.4" y="937.9"/>
<use href="#mp" x="353.8" y="937.9"/>
<use href="#mp" x="354.3" y="966.0"/>
<use href="#mp" x="354.8" y="961.8"/>
<use href="#mp" x="355.3" y="970.4"/>
<use href="#mp" x="355.8" y="959.7"/>
<use href="#mp" x="356.3" y="975.0"/>
<use href="#mp" x="356.8" y="942.9"/>
<use href="#mp" x="357.3" y="944.7"/>
<use href="#mp" x="357.8" y="951.9"/>
<use href="#mp" x="358.2" y="963.9"/>
<use href="#mp" x="358.7" y="957.7"/>
<use href="#mp" x="359.2" y="948.2"/>
<use href="#mp" x="359.7" y="972.7"/>
<use href="#mp" x="360.2" y="946.4"/>
<use href="#mp" x="360.7" y="942.9"/>
<use href="#mp" x="361.2" y="979.9"/>
<use href="#mp" x="361.7" y="977.4"/>
<use href="#mp" x="362.1" y="966.0"/>
<use href="#mp" x="362.6" y="972.7"/>
<use href="#mp" x="363.1" y="993.0"/>
<use href="#mp" x="363.6" y="970.4"/>
<use href="#mp" x="364.1" y="968.2"/>
<use href="#mp" x="364.6" y="963.9"/>
<use href="#mp" x="365.1" y="963.9"/>
<use href="#mp" x="365.6" y="941.2"/>
<use href="#mp" x="366.1" y="966.0"/>
<use href="#mp" x="366.5" y="970.4"/>
<use href="#mp" x="367.0" y="972.7"/>
<use href="#mp" x="367.5" y="984.9"/>
<use href="#mp" x="368.0" y="987.5"/>
<use href="#mp" x="368.5" y="982.4"/>
<use href="#mp" x="369.0" y="984.9"/>
<use href="#mp" x="369.5" y="963.9"/>
<use href="#mp" x="370.0" y="970.4"/>
<use href="#mp" x="370.4" y="984.9"/>
<use href="#mp" x="370.9" y="984.9"/>
<use href="#mp" x="371.4" y="966.0"/>
<use href="#mp" x="371.9" y="982.4"/>
<use href="#mp" x="372.4" y="966.0"/>
<use href="#mp" x="372.9" y="946.4"/>
<use href="#mp" x="373.4" y="993.0"/>
<use href="#mp" x="373.9" y="977.4"/>
<use href="#mp" x="374.4" y="970.4"/>
<use href="#mp" x="374.8" y="975.0"/>
<use href="#mp" x="375.3" y="998.7"/>
<use href="#mp" x="375.8" y="984.9"/>
<use href="#mp" x="376.3" y="1001.7"/>
<use href="#mp" x="376.8" y="977.4"/>
<use href="#mp" x="377.3" y="1004.8"/>
<use href="#mp" x="377.8" y="963.9"/>
<use href="#mp" x="378.3" y="966.0"/>
<use href="#mp" x="378.7" y="982.4"/>
<use href="#mp" x="379.2" y="1011.3"/>
<use href="#mp" x="379.7" y="993.0"/>
<use href="#mp" x="380.2" y="998.7"/>
<use href="#mp" x="380.7" y="946.4"/>
<use href="#mp" x="381.2" y="993.0"/>
<use href="#mp" x="381.7" y="979.9"/>
<use href="#mp" x="382.2" y="995.8"/>
<use href="#mp" x="382.7" y="970.4"/>
<use href="#mp" x="383.1" y="961.8"/>
<use href="#mp" x="383.6" y="972.7"/>
<use href="#mp" x="384.1" y="987.5"/>
<use href="#mp" x="384.6" y="979.9"/>
<use href="#mp" x="385.1" y="1001.7"/>
<use href="#mp" x="385.6" y="1004.8"/>
<use href="#mp" x="386.1" y="972.7"/>
<use href="#mp" x="386.6" y="1025.6"/>
<use href="#mp" x="387.1" y="1004.8"/>
<use href="#mp" x="387.5" y="972.7"/>
<use href="#mp" x="388.0" y="995.8"/>
<use href="#mp" x="388.5" y="975.0"/>
<use href="#mp" x="389.0" y="950.1"/>
<use href="#mp" x="389.5" y="963.9"/>
<use href="#mp" x="390.0" y="984.9"/>
<use href="#mp" x="390.5" y="1004.8"/>
<use href="#mp" x="391.0" y="972.7"/>
<use href="#mp" x="391.4" y="982.4"/>
<use href="#mp" x="391.9" y="1014.7"/>
<use href="#mp" x="392.4" y="963.9"/>
<use href="#mp" x="392.9" y="995.8"/>
<use href="#mp" x="393.4" y="984.9"/>
<use href="#mp" x="393.9" y="1037.8"/>
<use href="#mp" x="394.4" y="975.0"/>
<use href="#mp" x="394.9" y="995.8"/>
<use href="#mp" x="395.4" y="982.4"/>
<use href="#mp" x="395.8" y="990.2"/>
<use href="#mp" x="396.3" y="984.9"/>
<use href="#mp" x="396.8" y="998.7"/>
<use href="#mp" x="397.3" y="1018.2"/>
<use href="#mp" x="397.8" y="998.7"/>
<use href="#mp" x="398.3" y="1001.7"/>
<use href="#mp" x="398.8" y="1046.8"/>
<use href="#mp" x="399.3" y="1011.3"/>
<use href="#mp" x="399.7" y="975.0"/>
<use href="#mp" x="400.2" y="1018.2"/>
<use href="#mp" x="400.7" y="1008.0"/>
<use href="#mp" x="400.9" y="1008.0"/>
<use href="#mp" x="401.6" y="984.9"/>
<use href="#mp" x="402.4" y="993.0"/>
<use href="#mp" x="403.1" y="984.9"/>
<use href="#mp" x="403.8" y="1021.9"/>
<use href="#mp" x="404.5" y="1046.8"/>
<use href="#mp" x="405.2" y="990.2"/>
<use href="#mp" x="406.0" y="1042.2"/>
<use href="#mp" x="406.7" y="1014.7"/>
<use href="#mp" x="407.4" y="995.8"/>
<use href="#mp" x="408.1" y="1056.7"/>
<use href="#mp" x="408.8" y="1021.9"/>
<use href="#mp" x="409.5" y="1042.2"/>
<use href="#mp" x="410.3" y="995.8"/>
<use href="#mp" x="411.0" y="1008.0"/>
<use href="#mp" x="411.7" y="1004.8"/>
<use href="#mp" x="412.4" y="1018.2"/>
<use href="#mp" x="413.1" y="1014.7"/>
<use href="#mp" x="413.9" y="977.4"/>
<use href="#mp" x="414.6" y="1014.7"/>
<use href="#mp" x="415.3" y="1014.7"/>
<use href="#mp" x="416.0" y="1033.6"/>
<use href="#mp" x="416.7" y="1033.6"/>
<use href="#mp" x="417.4" y="995.8"/>
<use href="#mp" x="418.2" y="1062.0"/>
<use href="#mp" x="418.9" y="1046.8"/>
<use href="#mp" x="419.6" y="1004.8"/>
<use href="#mp" x="420.3" y="984.9"/>
<use href="#mp" x="421.0" y="1018.2"/>
<use href="#mp" x="421.8" y="1021.9"/>
<use href="#mp" x="422.5" y="1051.7"/>
<use href="#mp" x="423.2" y="1029.5"/>
<use href="#mp" x="423.9" y="1014.7"/>
<use href="#mp" x="424.6" y="995.8"/>
<use href="#mp" x="425.3" y="1042.2"/>
<use href="#mp" x="426.1" y="1018.2"/>
<use href="#mp" x="426.8" y="1025.6"/>
<use href="#mp" x="427.5" y="1025.6"/>
<use href="#mp" x="428.2" y="1062.0"/>
<use href="#mp" x="428.9" y="998.7"/>
<use href="#mp" x="429.6" y="1051.7"/>
<use href="#mp" x="430.4" y="1011.3"/>
<use href="#mp" x="431.1" y="1046.8"/>
<use href="#mp" x="431.8" y="1014.7"/>
<use href="#mp" x="432.5" y="1025.6"/>
<use href="#mp" x="433.2" y="1011.3"/>
<use href="#mp" x="434.0" y="1062.0"/>
<use href="#mp" x="434.7" y="1029.5"/>
<use href="#mp" x="435.4" y="1025.6"/>
<use href="#mp" x="436.1" y="1056.7"/>
<use href="#mp" x="436.8" y="1037.8"/>
<use href="#mp" x="437.5" y="1042.2"/>
<use href="#mp" x="438.3" y="995.8"/>
<use href="#mp" x="439.0" y="1033.6"/>
<use href="#mp" x="439.7" y="1014.7"/>
<use href="#mp" x="440.4" y="1093.7"/>
<use href="#mp" x="441.1" y="1033.6"/>
<use href="#mp" x="441.9" y="1101.3"/>
<use href="#mp" x="442.6" y="1042.2"/>
<use href="#mp" x="443.3" y="1062.0"/>
<use href="#mp" x="444.0" y="1073.5"/>
<use href="#mp" x="444.7" y="1025.6"/>
<use href="#mp" x="445.4" y="1051.7"/>
<use href="#mp" x="446.2" y="1109.6"/>
<use href="#mp" x="446.9" y="1029.5"/>
<use href="#mp" x="447.6" y="1056.7"/>
<use href="#mp" x="448.3" y="1086.5"/>
<use href="#mp" x="449.0" y="1067.6"/>
<use href="#mp" x="449.8" y="1004.8"/>
<use href="#mp" x="450.5" y="1056.7"/>
<use href="#mp" x="451.2" y="1067.6"/>
<use href="#mp" x="451.9" y="1008.0"/>
<use href="#mp" x="452.6" y="1011.3"/>
<use href="#mp" x="453.3" y="1051.7"/>
<use href="#mp" x="454.1" y="1062.0"/>
<use href="#mp" x="454.8" y="1051.7"/>
<use href="#mp" x="455.5" y="1073.5"/>
<use href="#mp" x="456.2" y="1042.2"/>
<use href="#mp" x="456.9" y="1067.6"/>
<use href="#mp" x="457.7" y="1033.6"/>
<use href="#mp" x="458.4" y="1056.7"/>
<use href="#mp" x="459.1" y="1067.6"/>
<use href="#mp" x="459.8" y="1079.8"/>
<use href="#mp" x="460.5" y="1062.0"/>
<use href="#mp" x="461.2" y="1086.5"/>
<use href="#mp" x="462.0" y="1029.5"/>
<use href="#mp" x="462.7" y="1037.8"/>
<use href="#mp" x="463.4" y="1056.7"/>
<use href="#mp" x="464.1" y="1037.8"/>
<use href="#mp" x="464.8" y="1046.8"/>
<use href="#mp" x="465.6" y="1051.7"/>
<use href="#mp" x="466.3" y="1062.0"/>
<use href="#mp" x="467.0" y="1079.8"/>
<use href="#mp" x="467.7" y="1046.8"/>
<use href="#mp" x="468.4" y="1046.8"/>
<use href="#mp" x="469.1" y="1051.7"/>
<use href="#mp" x="469.9" y="1046.8"/>
<use href="#mp" x="470.6" y="1042.2"/>
<use href="#mp" x="471.3" y="1073.5"/>
<use href="#mp" x="472.0" y="1042.2"/>
<use href="#mp" x="472.7" y="1051.7"/>
<use href="#mp" x="473.5" y="1029.5"/>
<use href="#mp" x="474.2" y="1062.0"/>
<use href="#mp" x="474.9" y="1037.8"/>
<use href="#mp" x="475.6" y="1062.0"/>
<use href="#mp" x="476.3" y="1109.6"/>
<use href="#mp" x="477.0" y="1101.3"/>
<use href="#mp" x="477.8" y="1046.8"/>
<use href="#mp" x="478.5" y="1073.5"/>
<use href="#mp" x="479.2" y="1086.5"/>
<use href="#mp" x="479.9" y="1062.0"/>
<use href="#mp" x="480.6" y="1086.5"/>
<use href="#mp" x="481.4" y="1051.7"/>
<use href="#mp" x="482.1" y="1056.7"/>
<use href="#mp" x="482.8" y="1056.7"/>
<use href="#mp" x="483.5" y="1118.6"/>
<use href="#mp" x="484.2" y="1086.5"/>
<use href="#mp" x="484.9" y="1067.6"/>
<use href="#mp" x="485.7" y="1101.3"/>
<use href="#mp" x="486.4" y="1093.7"/>
<use href="#mp" x="487.1" y="1042.2"/>
<use href="#mp" x="487.8" y="1093.7"/>
<use href="#mp" x="488.5" y="1093.7"/>
<use href="#mp" x="489.3" y="1101.3"/>
<use href="#mp" x="490.0" y="1118.6"/>
<use href="#mp" x="490.7" y="1093.7"/>
<use href="#mp" x="491.4" y="1093.7"/>
<use href="#mp" x="492.1" y="1118.6"/>
<use href="#mp" x="492.8" y="1109.6"/>
<use href="#mp" x="493.6" y="1093.7"/>
<use href="#mp" x="494.3" y="1139.4"/>
<use href="#mp" x="495.0" y="1062.0"/>
<use href="#mp" x="495.7" y="1042.2"/>
<use href="#mp" x="496.4" y="1086.5"/>
<use href="#mp" x="497.2" y="1118.6"/>
<use href="#mp" x="497.9" y="1073.5"/>
<use href="#mp" x="498.6" y="1139.4"/>
<use href="#mp" x="499.3" y="1118.6"/>
<use href="#mp" x="500.0" y="1139.4"/>
<use href="#mp" x="500.7" y="1086.5"/>
<use href="#mp" x="501.5" y="1139.4"/>
<use href="#mp" x="502.2" y="1067.6"/>
<use href="#mp" x="502.9" y="1079.8"/>
<use href="#mp" x="503.6" y="1128.5"/>
<use href="#mp" x="504.3" y="1165.4"/>
<use href="#mp" x="505.1" y="1118.6"/>
<use href="#mp" x="505.8" y="1101.3"/>
<use href="#mp" x="506.5" y="1101.3"/>
<use href="#mp" x="507.2" y="1181.4"/>
<use href="#mp" x="507.9" y="1101.3"/>
<use href="#mp" x="508.6" y="1093.7"/>
<use href="#mp" x="509.4" y="1109.6"/>
<use href="#mp" x="510.1" y="1086.5"/>
<use href="#mp" x="510.8" y="1118.6"/>
<use href="#mp" x="511.5" y="1109.6"/>
<use href="#mp" x="512.2" y="1062.0"/>
<use href="#mp" x="513.0" y="1118.6"/>
<use href="#mp" x="513.7" y="1139.4"/>
<use href="#mp" x="514.4" y="1046.8"/>
<use href="#mp" x="515.1" y="1109.6"/>
<use href="#mp" x="515.8" y="1079.8"/>
<use href="#mp" x="516.5" y="1086.5"/>
<use href="#mp" x="517.3" y="1109.6"/>
<use href="#mp" x="518.0" y="1093.7"/>
<use href="#mp" x="518.7" y="1165.4"/>
<use href="#mp" x="519.4" y="1093.7"/>
<use href="#mp" x="520.1" y="1139.4"/>
<use href="#mp" x="520.9" y="1128.5"/>
<use href="#mp" x="521.6" y="1128.5"/>
<use href="#mp" x="522.3" y="1109.6"/>
<use href="#mp" x="523.0" y="1118.6"/>
<use href="#mp" x="523.7" y="1139.4"/>
<use href="#mp" x="524.4" y="1139.4"/>
<use href="#mp" x="525.2" y="1165.4"/>
<use href="#mp" x="525.9" y="1128.5"/>
<use href="#mp" x="526.6" y="1118.6"/>
<use href="#mp" x="527.3" y="1109.6"/>
<use href="#mp" x="528.0" y="1109.6"/>
<use href="#mp" x="528.8" y="1086.5"/>
<use href="#mp" x="529.5" y="1118.6"/>
<use href="#mp" x="530.2" y="1128.5"/>
<use href="#mp" x="530.9" y="1181.4"/>
<use href="#mp" x="531.6" y="1101.3"/>
<use href="#mp" x="532.3" y="1181.4"/>
<use href="#mp" x="533.1" y="1073.5"/>
<use href="#mp" x="533.8" y="1151.6"/>
<use href="#mp" x="534.5" y="1118.6"/>
<use href="#mp" x="535.2" y="1139.4"/>
<use href="#mp" x="535.9" y="1139.4"/>
<use href="#mp" x="536.7" y="1165.4"/>
<use href="#mp" x="537.4" y="1165.4"/>
<use href="#mp" x="538.1" y="1151.6"/>
<use href="#mp" x="538.8" y="1101.3"/>
<use href="#mp" x="540.2" y="1181.4"/>
<use href="#mp" x="541.0" y="1101.3"/>
<use href="#mp" x="541.7" y="1139.4"/>
<use href="#mp" x="542.4" y="1181.4"/>
<use href="#mp" x="543.1" y="1181.4"/>
<use href="#mp" x="543.8" y="1101.3"/>
<use href="#mp" x="546.7" y="1151.6"/>
<use href="#mp" x="547.4" y="1128.5"/>
<use href="#mp" x="548.1" y="1139.4"/>
<use href="#mp" x="548.9" y="1118.6"/>
<use href="#mp" x="549.6" y="1181.4"/>
<use href="#mp" x="550.3" y="1139.4"/>
<use href="#mp" x="551.0" y="1151.6"/>
<use href="#mp" x="552.4" y="1109.6"/>
<use href="#mp" x="553.2" y="1181.4"/>
<use href="#mp" x="553.9" y="1139.4"/>
<use href="#mp" x="554.6" y="1151.6"/>
<use href="#mp" x="555.3" y="1118.6"/>
<use href="#mp" x="556.0" y="1200.3"/>
<use href="#mp" x="556.8" y="1165.4"/>
<use href="#mp" x="557.5" y="1118.6"/>
<use href="#mp" x="558.2" y="1151.6"/>
<use href="#mp" x="558.9" y="1151.6"/>
<use href="#mp" x="559.6" y="1200.3"/>
<use href="#mp" x="560.3" y="1165.4"/>
<use href="#mp" x="561.1" y="1151.6"/>
<use href="#mp" x="561.8" y="1093.7"/>
<use href="#mp" x="562.5" y="1151.6"/>
<use href="#mp" x="563.9" y="1200.3"/>
<use href="#mp" x="564.7" y="1128.5"/>
<use href="#mp" x="565.4" y="1118.6"/>
<use href="#mp" x="566.1" y="1118.6"/>
<use href="#mp" x="566.8" y="1101.3"/>
<use href="#mp" x="567.5" y="1181.4"/>
<use href="#mp" x="568.2" y="1151.6"/>
<use href="#mp" x="569.0" y="1165.4"/>
<use href="#mp" x="569.7" y="1181.4"/>
<use href="#mp" x="570.4" y="1151.6"/>
<use href="#mp" x="571.1" y="1139.4"/>
<use href="#mp" x="571.8" y="1128.5"/>
<use href="#mp" x="572.6" y="1139.4"/>
<use href="#mp" x="573.3" y="1165.4"/>
<use href="#mp" x="575.4" y="1181.4"/>
<use href="#mp" x="576.1" y="1200.3"/>
<use href="#mp" x="576.9" y="1200.3"/>
<use href="#mp" x="577.6" y="1181.4"/>
<use href="#mp" x="578.3" y="1128.5"/>
<use href="#mp" x="579.0" y="1165.4"/>
<use href="#mp" x="579.7" y="1139.4"/>
<use href="#mp" x="580.5" y="1151.6"/>
<use href="#mp" x="581.2" y="1165.4"/>
<use href="#mp" x="581.9" y="1128.5"/>
<use href="#mp" x="582.6" y="1181.4"/>
<use href="#mp" x="583.3" y="1181.4"/>
<use href="#mp" x="584.0" y="1165.4"/>
<use href="#mp" x="584.8" y="1151.6"/>
<use href="#mp" x="585.5" y="1181.4"/>
<use href="#mp" x="586.2" y="1200.3"/>
<use href="#mp" x="586.9" y="1165.4"/>
<use href="#mp" x="587.6" y="1151.6"/>
<use href="#mp" x="588.4" y="1181.4"/>
<use href="#mp" x="590.5" y="1139.4"/>
<use href="#mp" x="591.9" y="1139.4"/>
<use href="#mp" x="592.7" y="1165.4"/>
<use href="#mp" x="594.1" y="1200.3"/>
<use href="#mp" x="594.8" y="1165.4"/>
<use href="#mp" x="596.3" y="1128.5"/>
<use href="#mp" x="597.0" y="1181.4"/>
<use href="#mp" x="599.1" y="1200.3"/>
<use href="#mp" x="599.8" y="1151.6"/>
<use href="#mp" x="600.6" y="1181.4"/>
<use href="#mp" x="602.7" y="1181.4"/>
<use href="#mp" x="603.4" y="1151.6"/>
<use href="#mp" x="604.2" y="1165.4"/>
<use href="#mp" x="604.9" y="1200.3"/>
<use href="#mp" x="605.6" y="1165.4"/>
<use href="#mp" x="606.3" y="1165.4"/>
<use href="#mp" x="607.0" y="1165.4"/>
<use href="#mp" x="607.7" y="1151.6"/>
<use href="#mp" x="608.5" y="1118.6"/>
<use href="#mp" x="609.2" y="1181.4"/>
<use href="#mp" x="611.3" y="1200.3"/>
<use href="#mp" x="612.1" y="1181.4"/>
<use href="#mp" x="612.8" y="1151.6"/>
<use href="#mp" x="614.2" y="1181.4"/>
<use href="#mp" x="614.9" y="1200.3"/>
<use href="#mp" x="617.1" y="1181.4"/>
<use href="#mp" x="617.8" y="1181.4"/>
<use href="#mp" x="618.5" y="1200.3"/>
<use href="#mp" x="620.0" y="1200.3"/>
<use href="#mp" x="620.7" y="1200.3"/>
<use href="#mp" x="621.4" y="1181.4"/>
<use href="#mp" x="622.1" y="1181.4"/>
<use href="#mp" x="624.3" y="1200.3"/>
<use href="#mp" x="626.4" y="1181.4"/>
<use href="#mp" x="628.6" y="1200.3"/>
<use href="#mp" x="631.4" y="1200.3"/>
<use href="#mp" x="634.3" y="1200.3"/>
<use href="#mp" x="635.0" y="1165.4"/>
<use href="#mp" x="635.8" y="1181.4"/>
<use href="#mp" x="638.6" y="1181.4"/>
<use href="#mp" x="641.5" y="1181.4"/>
<use href="#mp" x="642.2" y="1200.3"/>
<use href="#mp" x="644.4" y="1165.4"/>
<use href="#mp" x="645.8" y="1165.4"/>
<use href="#mp" x="646.5" y="1200.3"/>
<use href="#mp" x="649.4" y="1200.3"/>
<use href="#mp" x="650.1" y="1139.4"/>
<use href="#mp" x="661.6" y="1181.4"/>
<use href="#mp" x="665.2" y="1165.4"/>
<use href="#mp" x="668.1" y="1165.4"/>
<use href="#mp" x="688.9" y="1200.3"/>
<use href="#mp" x="689.6" y="1165.4"/>
<use href="#mp" x="693.2" y="1200.3"/>
<use href="#mp" x="704.0" y="1200.3"/>
<use href="#mp" x="704.7" y="1200.3"/>
<path d="M142.4,731.9 L142.9,737.9 L143.4,743.5 L143.8,748.9 L144.3,753.9 L144.8,758.6 L145.3,763.1 L145.8,767.3 L146.2,771.2 L146.7,774.9 L147.2,778.4 L147.7,781.7 L148.1,784.7 L148.6,787.6 L149.1,790.3 L149.6,792.8 L150.1,795.2 L150.5,797.4 L151.0,799.5 L151.5,801.5 L152.0,803.4 L152.5,805.2 L152.9,806.9 L153.4,808.5 L153.9,810.0 L154.4,811.5 L154.9,812.9 L155.3,814.3 L155.8,815.6 L156.3,816.8 L156.8,818.1 L157.3,819.2 L157.7,820.4 L158.2,821.5 L158.7,822.6 L159.2,823.7 L159.6,824.8 L160.1,825.8 L160.6,826.8 L161.1,827.8 L161.6,828.8 L162.0,829.8 L162.5,830.7 L163.0,831.7 L163.5,832.6 L164.0,833.6 L164.4,834.5 L164.9,835.4 L165.4,836.3 L165.9,837.3 L166.4,838.2 L166.8,839.1 L167.3,840.0 L167.8,840.9 L168.3,841.8 L168.8,842.7 L169.2,843.5 L169.7,844.4 L170.2,845.3 L170.7,846.2 L171.1,847.1 L171.6,848.0 L172.1,848.8 L172.6,849.7 L173.1,850.6 L173.5,851.5 L174.0,852.3 L174.5,853.2 L175.0,854.1 L175.5,855.0 L175.9,855.8 L176.4,856.7 L176.9,857.6 L177.4,858.4 L177.9,859.3 L178.3,860.2 L178.8,861.1 L179.3,861.9 L179.8,862.8 L180.3,863.7 L180.7,864.5 L181.2,865.4 L181.7,866.3 L182.2,867.1 L182.6,868.0 L183.1,868.9 L183.6,869.8 L184.1,870.6 L184.6,871.5 L185.0,872.4 L185.5,873.2 L186.0,874.1 L186.5,875.0 L187.0,875.8 L187.4,876.7 L187.9,877.6 L188.4,878.4 L188.9,879.3 L189.4,880.2 L189.8,881.0 L190.3,881.9 L190.8,882.8 L191.3,883.7 L191.8,884.5 L192.2,885.4 L192.7,886.3 L193.2,887.1 L193.7,888.0 L194.1,888.9 L194.6,889.7 L195.1,890.6 L195.6,891.5 L196.1,892.3 L196.5,893.2 L197.0,894.1 L197.5,894.9 L198.0,895.8 L198.5,896.7 L198.9,897.5 L199.4,898.4 L199.9,899.3 L200.4,900.2 L200.9,901.0 L201.3,901.9 L201.8,902.8 L202.3,903.6 L202.8,904.5 L203.3,905.4 L203.7,906.2 L204.2,907.1 L204.7,908.0 L205.2,908.8 L205.6,909.7 L206.1,910.6 L206.6,911.4 L207.1,912.3 L207.6,913.2 L208.0,914.0 L208.5,914.9 L209.0,915.8 L209.5,916.6 L210.0,917.5 L210.4,918.4 L210.9,919.3 L211.4,920.1 L211.9,921.0 L212.4,921.9 L212.8,922.7 L213.3,923.6 L213.8,924.5 L214.3,925.3 L214.8,926.2 L215.2,927.1 L215.7,927.9 L216.2,928.8 L216.7,929.7 L217.1,930.5 L217.6,931.4 L218.1,932.3 L218.6,933.1 L219.1,934.0 L219.5,934.9 L220.0,935.7 L220.5,936.6 L221.0,937.5 L221.5,938.4 L221.9,939.2 L222.4,940.1 L222.9,941.0 L223.4,941.8 L223.9,942.7 L224.3,943.6 L224.8,944.4 L225.3,945.3 L225.8,946.2 L226.3,947.0 L226.7,947.9 L227.2,948.8 L227.7,949.6 L228.2,950.5 L228.6,951.4 L229.1,952.2 L229.6,953.1 L230.1,954.0 L230.6,954.8 L231.0,955.7 L231.5,956.6 L232.0,957.5 L232.5,958.3 L233.0,959.2 L233.4,960.1 L233.9,960.9 L234.4,961.8 L234.9,962.7 L235.4,963.5 L235.8,964.4 L236.3,965.3 L236.8,966.1 L237.3,967.0 L237.8,967.9 L238.2,968.7 L238.7,969.6 L239.2,970.5 L239.7,971.3 L240.1,972.2 L240.6,973.1 L241.1,973.9 L241.6,974.8 L242.1,975.7 L242.5,976.6 L243.0,977.4 L243.5,978.3 L244.0,979.2 L244.5,980.0 L244.9,980.9 L245.4,981.8 L245.9,982.6 L246.4,983.5 L246.9,984.4 L247.3,985.2 L247.8,986.1 L248.3,987.0 L248.8,987.8 L249.3,988.7 L249.7,989.6 L250.2,990.4 L250.7,991.3 L251.2,992.2 L251.6,993.1 L252.1,993.9 L252.6,994.8 L253.1,995.7 L253.6,996.5 L254.0,997.4 L254.5,998.3 L255.0,999.1 L255.5,1000.0 L256.0,1000.9 L256.4,1001.7 L256.9,1002.6 L257.4,1003.5 L257.9,1004.3 L258.4,1005.2 L258.8,1006.1 L259.3,1006.9 L259.8,1007.8 L260.3,1008.7 L260.7,1009.5 L261.2,1010.4 L261.7,1011.3 L262.2,1012.2 L262.7,1013.0 L263.1,1013.9 L263.6,1014.8 L264.1,1015.6 L264.6,1016.5 L265.1,1017.4 L265.5,1018.2 L266.0,1019.1 L266.5,1020.0 L267.0,1020.8 L267.5,1021.7 L267.9,1022.6 L268.4,1023.4 L268.9,1024.3 L269.4,1025.2 L269.9,1026.0 L270.3,1026.9 L270.8,1027.8 L271.3,1028.6 L271.8,1029.5 L272.2,1030.4 L272.7,1031.3 L273.2,1032.1 L273.7,1033.0 L274.2,1033.9 L274.6,1034.7 L275.1,1035.6 L275.6,1036.5 L276.1,1037.3 L276.6,1038.2 L277.0,1039.1 L277.5,1039.9 L278.0,1040.8 L278.5,1041.7 L279.0,1042.5 L279.4,1043.4 L279.9,1044.3 L280.4,1045.1 L280.9,1046.0 L281.4,1046.9 L281.8,1047.7 L282.3,1048.6 L282.8,1049.5 L283.3,1050.4 L283.7,1051.2 L284.2,1052.1 L284.7,1053.0 L285.2,1053.8 L285.7,1054.7 L286.1,1055.6 L286.6,1056.4 L287.1,1057.3 L287.6,1058.2 L288.1,1059.0 L288.5,1059.9 L289.0,1060.8 L289.5,1061.6 L290.0,1062.5 L290.5,1063.4 L290.9,1064.2 L291.4,1065.1 L291.9,1066.0 L292.4,1066.8 L292.9,1067.7 L293.3,1068.6 L293.8,1069.5 L294.3,1070.3 L294.8,1071.2 L295.2,1072.1 L295.7,1072.9 L296.2,1073.8 L296.7,1074.7 L297.2,1075.5 L297.6,1076.4 L298.1,1077.3 L298.6,1078.1 L299.1,1079.0 L299.6,1079.9 L300.0,1080.7 L300.5,1081.6 L301.0,1082.5 L301.5,1083.3 L302.0,1084.2 L302.4,1085.1 L302.9,1085.9 L303.4,1086.8 L303.9,1087.7 L304.4,1088.6 L304.8,1089.4 L305.3,1090.3 L305.8,1091.2 L306.3,1092.0 L306.7,1092.9 L307.2,1093.8 L307.7,1094.6 L308.2,1095.5 L308.7,1096.4 L309.1,1097.2 L309.6,1098.1 L310.1,1099.0 L310.6,1099.8 L311.1,1100.7 L311.5,1101.6 L312.0,1102.4 L312.5,1103.3 L313.0,1104.2 L313.5,1105.1 L313.9,1105.9 L314.4,1106.8 L314.9,1107.7 L315.4,1108.5 L315.9,1109.4 L316.3,1110.3 L316.8,1111.1 L317.3,1112.0 L317.8,1112.9 L318.2,1113.7 L318.7,1114.6 L319.2,1115.5 L319.7,1116.3 L320.2,1117.2 L320.6,1118.1 L321.1,1118.9 L321.6,1119.8 L322.1,1120.7 L322.6,1121.5 L323.0,1122.4 L323.5,1123.3 L324.0,1124.2 L324.5,1125.0 L325.0,1125.9 L325.4,1126.8 L325.9,1127.6 L326.4,1128.5 L326.9,1129.4 L327.4,1130.2 L327.8,1131.1 L328.3,1132.0 L328.8,1132.8 L329.3,1133.7 L329.7,1134.6 L330.2,1135.4 L330.7,1136.3 L331.2,1137.2 L331.7,1138.0 L332.1,1138.9 L332.6,1139.8 L333.1,1140.6 L333.6,1141.5 L334.1,1142.4 L334.5,1143.3 L335.0,1144.1 L335.5,1145.0 L336.0,1145.9 L336.5,1146.7 L336.9,1147.6 L337.4,1148.5 L337.9,1149.3 L338.4,1150.2 L338.9,1151.1 L339.3,1151.9 L339.8,1152.8 L340.3,1153.7 L340.8,1154.5 L341.2,1155.4 L341.7,1156.3 L342.2,1157.1 L342.7,1158.0 L343.2,1158.9 L343.6,1159.7 L344.1,1160.6 L344.6,1161.5 L345.1,1162.4 L345.6,1163.2 L346.0,1164.1 L346.5,1165.0 L347.0,1165.8 L347.5,1166.7 L348.0,1167.6 L348.4,1168.4 L348.9,1169.3 L349.4,1170.2 L349.9,1171.0 L350.4,1171.9 L350.8,1172.8 L351.3,1173.6 L351.8,1174.5 L352.3,1175.4 L352.7,1176.2 L353.2,1177.1 L353.7,1178.0 L354.2,1178.8 L354.7,1179.7 L355.1,1180.6 L355.6,1181.5 L356.1,1182.3 L356.6,1183.2 L357.1,1184.1 L357.5,1184.9 L358.0,1185.8 L358.5,1186.7 L359.0,1187.5 L359.5,1188.4 L359.9,1189.3 L360.4,1190.1 L360.9,1191.0 L361.4,1191.9 L361.9,1192.7 L362.3,1193.6 L362.8,1194.5 L363.3,1195.3 L363.8,1196.2 L364.2,1197.1 L364.7,1198.0 L365.2,1198.8 L365.7,1199.7 L366.2,1200.6 L366.6,1201.4 L367.1,1202.3 L367.6,1203.2 L368.1,1204.0 L368.6,1204.9" fill="none" stroke="#c8f0f8" stroke-width="2.8" stroke-linejoin="round" stroke-linecap="round" />
<path d="M142.4,723.3 L142.9,729.2 L143.4,734.4 L143.8,739.2 L144.3,743.4 L144.8,747.2 L145.3,750.6 L145.8,753.6 L146.2,756.2 L146.7,758.6 L147.2,760.7 L147.7,762.6 L148.1,764.3 L148.6,765.8 L149.1,767.1 L149.6,768.3 L150.1,769.5 L150.5,770.5 L151.0,771.4 L151.5,772.2 L152.0,773.0 L152.5,773.8 L152.9,774.5 L153.4,775.1 L153.9,775.8 L154.4,776.4 L154.9,776.9 L155.3,777.5 L155.8,778.0 L156.3,778.5 L156.8,779.1 L157.3,779.6 L157.7,780.0 L158.2,780.5 L158.7,781.0 L159.2,781.5 L159.6,781.9 L160.1,782.4 L160.6,782.8 L161.1,783.3 L161.6,783.8 L162.0,784.2 L162.5,784.7 L163.0,785.1 L163.5,785.5 L164.0,786.0 L164.4,786.4 L164.9,786.9 L165.4,787.3 L165.9,787.8 L166.4,788.2 L166.8,788.6 L167.3,789.1 L167.8,789.5 L168.3,790.0 L168.8,790.4 L169.2,790.8 L169.7,791.3 L170.2,791.7 L170.7,792.1 L171.1,792.6 L171.6,793.0 L172.1,793.5 L172.6,793.9 L173.1,794.3 L173.5,794.8 L174.0,795.2 L174.5,795.6 L175.0,796.1 L175.5,796.5 L175.9,797.0 L176.4,797.4 L176.9,797.8 L177.4,798.3 L177.9,798.7 L178.3,799.1 L178.8,799.6 L179.3,800.0 L179.8,800.5 L180.3,800.9 L180.7,801.3 L181.2,801.8 L181.7,802.2 L182.2,802.6 L182.6,803.1 L183.1,803.5 L183.6,804.0 L184.1,804.4 L184.6,804.8 L185.0,805.3 L185.5,805.7 L186.0,806.1 L186.5,806.6 L187.0,807.0 L187.4,807.5 L187.9,807.9 L188.4,808.3 L188.9,808.8 L189.4,809.2 L189.8,809.6 L190.3,810.1 L190.8,810.5 L191.3,811.0 L191.8,811.4 L192.2,811.8 L192.7,812.3 L193.2,812.7 L193.7,813.1 L194.1,813.6 L194.6,814.0 L195.1,814.5 L195.6,814.9 L196.1,815.3 L196.5,815.8 L197.0,816.2 L197.5,816.6 L198.0,817.1 L198.5,817.5 L198.9,818.0 L199.4,818.4 L199.9,818.8 L200.4,819.3 L200.9,819.7 L201.3,820.1 L201.8,820.6 L202.3,821.0 L202.8,821.5 L203.3,821.9 L203.7,822.3 L204.2,822.8 L204.7,823.2 L205.2,823.6 L205.6,824.1 L206.1,824.5 L206.6,825.0 L207.1,825.4 L207.6,825.8 L208.0,826.3 L208.5,826.7 L209.0,827.1 L209.5,827.6 L210.0,828.0 L210.4,828.5 L210.9,828.9 L211.4,829.3 L211.9,829.8 L212.4,830.2 L212.8,830.6 L213.3,831.1 L213.8,831.5 L214.3,831.9 L214.8,832.4 L215.2,832.8 L215.7,833.3 L216.2,833.7 L216.7,834.1 L217.1,834.6 L217.6,835.0 L218.1,835.4 L218.6,835.9 L219.1,836.3 L219.5,836.8 L220.0,837.2 L220.5,837.6 L221.0,838.1 L221.5,838.5 L221.9,838.9 L222.4,839.4 L222.9,839.8 L223.4,840.3 L223.9,840.7 L224.3,841.1 L224.8,841.6 L225.3,842.0 L225.8,842.4 L226.3,842.9 L226.7,843.3 L227.2,843.8 L227.7,844.2 L228.2,844.6 L228.6,845.1 L229.1,845.5 L229.6,845.9 L230.1,846.4 L230.6,846.8 L231.0,847.3 L231.5,847.7 L232.0,848.1 L232.5,848.6 L233.0,849.0 L233.4,849.4 L233.9,849.9 L234.4,850.3 L234.9,850.8 L235.4,851.2 L235.8,851.6 L236.3,852.1 L236.8,852.5 L237.3,852.9 L237.8,853.4 L238.2,853.8 L238.7,854.3 L239.2,854.7 L239.7,855.1 L240.1,855.6 L240.6,856.0 L241.1,856.4 L241.6,856.9 L242.1,857.3 L242.5,857.8 L243.0,858.2 L243.5,858.6 L244.0,859.1 L244.5,859.5 L244.9,859.9 L245.4,860.4 L245.9,860.8 L246.4,861.3 L246.9,861.7 L247.3,862.1 L247.8,862.6 L248.3,863.0 L248.8,863.4 L249.3,863.9 L249.7,864.3 L250.2,864.8 L250.7,865.2 L251.2,865.6 L251.6,866.1 L252.1,866.5 L252.6,866.9 L253.1,867.4 L253.6,867.8 L254.0,868.3 L254.5,868.7 L255.0,869.1 L255.5,869.6 L256.0,870.0 L256.4,870.4 L256.9,870.9 L257.4,871.3 L257.9,871.8 L258.4,872.2 L258.8,872.6 L259.3,873.1 L259.8,873.5 L260.3,873.9 L260.7,874.4 L261.2,874.8 L261.7,875.3 L262.2,875.7 L262.7,876.1 L263.1,876.6 L263.6,877.0 L264.1,877.4 L264.6,877.9 L265.1,878.3 L265.5,878.8 L266.0,879.2 L266.5,879.6 L267.0,880.1 L267.5,880.5 L267.9,880.9 L268.4,881.4 L268.9,881.8 L269.4,882.3 L269.9,882.7 L270.3,883.1 L270.8,883.6 L271.3,884.0 L271.8,884.4 L272.2,884.9 L272.7,885.3 L273.2,885.8 L273.7,886.2 L274.2,886.6 L274.6,887.1 L275.1,887.5 L275.6,887.9 L276.1,888.4 L276.6,888.8 L277.0,889.3 L277.5,889.7 L278.0,890.1 L278.5,890.6 L279.0,891.0 L279.4,891.4 L279.9,891.9 L280.4,892.3 L280.9,892.7 L281.4,893.2 L281.8,893.6 L282.3,894.1 L282.8,894.5 L283.3,894.9 L283.7,895.4 L284.2,895.8 L284.7,896.2 L285.2,896.7 L285.7,897.1 L286.1,897.6 L286.6,898.0 L287.1,898.4 L287.6,898.9 L288.1,899.3 L288.5,899.7 L289.0,900.2 L289.5,900.6 L290.0,901.1 L290.5,901.5 L290.9,901.9 L291.4,902.4 L291.9,902.8 L292.4,903.2 L292.9,903.7 L293.3,904.1 L293.8,904.6 L294.3,905.0 L294.8,905.4 L295.2,905.9 L295.7,906.3 L296.2,906.7 L296.7,907.2 L297.2,907.6 L297.6,908.1 L298.1,908.5 L298.6,908.9 L299.1,909.4 L299.6,909.8 L300.0,910.2 L300.5,910.7 L301.0,911.1 L301.5,911.6 L302.0,912.0 L302.4,912.4 L302.9,912.9 L303.4,913.3 L303.9,913.7 L304.4,914.2 L304.8,914.6 L305.3,915.1 L305.8,915.5 L306.3,915.9 L306.7,916.4 L307.2,916.8 L307.7,917.2 L308.2,917.7 L308.7,918.1 L309.1,918.6 L309.6,919.0 L310.1,919.4 L310.6,919.9 L311.1,920.3 L311.5,920.7 L312.0,921.2 L312.5,921.6 L313.0,922.1 L313.5,922.5 L313.9,922.9 L314.4,923.4 L314.9,923.8 L315.4,924.2 L315.9,924.7 L316.3,925.1 L316.8,925.6 L317.3,926.0 L317.8,926.4 L318.2,926.9 L318.7,927.3 L319.2,927.7 L319.7,928.2 L320.2,928.6 L320.6,929.1 L321.1,929.5 L321.6,929.9 L322.1,930.4 L322.6,930.8 L323.0,931.2 L323.5,931.7 L324.0,932.1 L324.5,932.6 L325.0,933.0 L325.4,933.4 L325.9,933.9 L326.4,934.3 L326.9,934.7 L327.4,935.2 L327.8,935.6 L328.3,936.1 L328.8,936.5 L329.3,936.9 L329.7,937.4 L330.2,937.8 L330.7,938.2 L331.2,938.7 L331.7,939.1 L332.1,939.6 L332.6,940.0 L333.1,940.4 L333.6,940.9 L334.1,941.3 L334.5,941.7 L335.0,942.2 L335.5,942.6 L336.0,943.1 L336.5,943.5 L336.9,943.9 L337.4,944.4 L337.9,944.8 L338.4,945.2 L338.9,945.7 L339.3,946.1 L339.8,946.6 L340.3,947.0 L340.8,947.4 L341.2,947.9 L341.7,948.3 L342.2,948.7 L342.7,949.2 L343.2,949.6 L343.6,950.1 L344.1,950.5 L344.6,950.9 L345.1,951.4 L345.6,951.8 L346.0,952.2 L346.5,952.7 L347.0,953.1 L347.5,953.5 L348.0,954.0 L348.4,954.4 L348.9,954.9 L349.4,955.3 L349.9,955.7 L350.4,956.2 L350.8,956.6 L351.3,957.0 L351.8,957.5 L352.3,957.9 L352.7,958.4 L353.2,958.8 L353.7,959.2 L354.2,959.7 L354.7,960.1 L355.1,960.5 L355.6,961.0 L356.1,961.4 L356.6,961.9 L357.1,962.3 L357.5,962.7 L358.0,963.2 L358.5,963.6 L359.0,964.0 L359.5,964.5 L359.9,964.9 L360.4,965.4 L360.9,965.8 L361.4,966.2 L361.9,966.7 L362.3,967.1 L362.8,967.5 L363.3,968.0 L363.8,968.4 L364.2,968.9 L364.7,969.3 L365.2,969.7 L365.7,970.2 L366.2,970.6 L366.6,971.0 L367.1,971.5 L367.6,971.9 L368.1,972.4 L368.6,972.8 L369.0,973.2 L369.5,973.7 L370.0,974.1 L370.5,974.5 L371.0,975.0 L371.4,975.4 L371.9,975.9 L372.4,976.3 L372.9,976.7 L373.3,977.2 L373.8,977.6 L374.3,978.0 L374.8,978.5 L375.3,978.9 L375.7,979.4 L376.2,979.8 L376.7,980.2 L377.2,980.7 L377.7,981.1 L378.1,981.5 L378.6,982.0 L379.1,982.4 L379.6,982.9 L380.1,983.3 L380.5,983.7 L381.0,984.2 L381.5,984.6 L382.0,985.0 L382.5,985.5 L382.9,985.9 L383.4,986.4 L383.9,986.8 L384.4,987.2 L384.8,987.7 L385.3,988.1 L385.8,988.5 L386.3,989.0 L386.8,989.4 L387.2,989.9 L387.7,990.3 L388.2,990.7 L388.7,991.2 L389.2,991.6 L389.6,992.0 L390.1,992.5 L390.6,992.9 L391.1,993.4 L391.6,993.8 L392.0,994.2 L392.5,994.7 L393.0,995.1 L393.5,995.5 L394.0,996.0 L394.4,996.4 L394.9,996.9 L395.4,997.3 L395.9,997.7 L396.3,998.2 L396.8,998.6 L397.3,999.0 L397.8,999.5 L398.3,999.9 L398.7,1000.4 L399.2,1000.8 L399.7,1001.2 L400.2,1001.7 L400.7,1002.1 L401.1,1002.5 L401.6,1003.0 L402.1,1003.4 L402.6,1003.9 L403.1,1004.3 L403.5,1004.7 L404.0,1005.2 L404.5,1005.6 L405.0,1006.0 L405.5,1006.5 L405.9,1006.9 L406.4,1007.4 L406.9,1007.8 L407.4,1008.2 L407.8,1008.7 L408.3,1009.1 L408.8,1009.5 L409.3,1010.0 L409.8,1010.4 L410.2,1010.8 L410.7,1011.3 L411.2,1011.7 L411.7,1012.2 L412.2,1012.6 L412.6,1013.0 L413.1,1013.5 L413.6,1013.9 L414.1,1014.3 L414.6,1014.8 L415.0,1015.2 L415.5,1015.7 L416.0,1016.1 L416.5,1016.5 L417.0,1017.0 L417.4,1017.4 L417.9,1017.8 L418.4,1018.3 L418.9,1018.7 L419.3,1019.2 L419.8,1019.6 L420.3,1020.0 L420.8,1020.5 L421.3,1020.9 L421.7,1021.3 L422.2,1021.8 L422.7,1022.2 L423.2,1022.7 L423.7,1023.1 L424.1,1023.5 L424.6,1024.0 L425.1,1024.4 L425.6,1024.8 L426.1,1025.3 L426.5,1025.7 L427.0,1026.2 L427.5,1026.6 L428.0,1027.0 L428.5,1027.5 L428.9,1027.9 L429.4,1028.3 L429.9,1028.8 L430.4,1029.2 L430.8,1029.7 L431.3,1030.1 L431.8,1030.5 L432.3,1031.0 L432.8,1031.4 L433.2,1031.8 L433.7,1032.3 L434.2,1032.7 L434.7,1033.2 L435.2,1033.6 L435.6,1034.0 L436.1,1034.5 L436.6,1034.9 L437.1,1035.3 L437.6,1035.8 L438.0,1036.2 L438.5,1036.7 L439.0,1037.1 L439.5,1037.5 L440.0,1038.0 L440.4,1038.4 L440.9,1038.8 L441.4,1039.3 L441.9,1039.7 L442.3,1040.2 L442.8,1040.6 L443.3,1041.0 L443.8,1041.5 L444.3,1041.9 L444.7,1042.3 L445.2,1042.8 L445.7,1043.2 L446.2,1043.7 L446.7,1044.1 L447.1,1044.5 L447.6,1045.0 L448.1,1045.4 L448.6,1045.8 L449.1,1046.3 L449.5,1046.7 L450.0,1047.2 L450.5,1047.6 L451.0,1048.0 L451.5,1048.5 L451.9,1048.9 L452.4,1049.3 L452.9,1049.8 L453.4,1050.2 L453.8,1050.7 L454.3,1051.1 L454.8,1051.5 L455.3,1052.0 L455.8,1052.4 L456.2,1052.8 L456.7,1053.3 L457.2,1053.7 L457.7,1054.2 L458.2,1054.6 L458.6,1055.0 L459.1,1055.5 L459.6,1055.9 L460.1,1056.3 L460.6,1056.8 L461.0,1057.2 L461.5,1057.7 L462.0,1058.1 L462.5,1058.5 L463.0,1059.0 L463.4,1059.4 L463.9,1059.8 L464.4,1060.3 L464.9,1060.7 L465.3,1061.2 L465.8,1061.6 L466.3,1062.0 L466.8,1062.5 L467.3,1062.9 L467.7,1063.3 L468.2,1063.8 L468.7,1064.2 L469.2,1064.7 L469.7,1065.1 L470.1,1065.5 L470.6,1066.0 L471.1,1066.4 L471.6,1066.8 L472.1,1067.3 L472.5,1067.7 L473.0,1068.2 L473.5,1068.6 L474.0,1069.0 L474.5,1069.5 L474.9,1069.9 L475.4,1070.3 L475.9,1070.8 L476.4,1071.2 L476.8,1071.6 L477.3,1072.1 L477.8,1072.5 L478.3,1073.0 L478.8,1073.4 L479.2,1073.8 L479.7,1074.3 L480.2,1074.7 L480.7,1075.1 L481.2,1075.6 L481.6,1076.0 L482.1,1076.5 L482.6,1076.9 L483.1,1077.3 L483.6,1077.8 L484.0,1078.2 L484.5,1078.6 L485.0,1079.1 L485.5,1079.5 L486.0,1080.0 L486.4,1080.4 L486.9,1080.8 L487.4,1081.3 L487.9,1081.7 L488.3,1082.1 L488.8,1082.6 L489.3,1083.0 L489.8,1083.5 L490.3,1083.9 L490.7,1084.3 L491.2,1084.8 L491.7,1085.2 L492.2,1085.6 L492.7,1086.1 L493.1,1086.5 L493.6,1087.0 L494.1,1087.4 L494.6,1087.8 L495.1,1088.3 L495.5,1088.7 L496.0,1089.1 L496.5,1089.6 L497.0,1090.0 L497.4,1090.5 L497.9,1090.9 L498.4,1091.3 L498.9,1091.8 L499.4,1092.2 L499.8,1092.6 L500.3,1093.1 L500.8,1093.5 L501.3,1094.0 L501.8,1094.4 L502.2,1094.8 L502.7,1095.3 L503.2,1095.7 L503.7,1096.1 L504.2,1096.6 L504.6,1097.0 L505.1,1097.5 L505.6,1097.9 L506.1,1098.3 L506.6,1098.8 L507.0,1099.2 L507.5,1099.6 L508.0,1100.1 L508.5,1100.5 L508.9,1101.0 L509.4,1101.4 L509.9,1101.8 L510.4,1102.3 L510.9,1102.7 L511.3,1103.1 L511.8,1103.6 L512.3,1104.0 L512.8,1104.5 L513.3,1104.9 L513.7,1105.3 L514.2,1105.8 L514.7,1106.2 L515.2,1106.6 L515.7,1107.1 L516.1,1107.5 L516.6,1108.0 L517.1,1108.4 L517.6,1108.8 L518.1,1109.3 L518.5,1109.7 L519.0,1110.1 L519.5,1110.6 L520.0,1111.0 L520.4,1111.5 L520.9,1111.9 L521.4,1112.3 L521.9,1112.8 L522.4,1113.2 L522.8,1113.6 L523.3,1114.1 L523.8,1114.5 L524.3,1115.0 L524.8,1115.4 L525.2,1115.8 L525.7,1116.3 L526.2,1116.7 L526.7,1117.1 L527.2,1117.6 L527.6,1118.0 L528.1,1118.5 L528.6,1118.9 L529.1,1119.3 L529.6,1119.8 L530.0,1120.2 L530.5,1120.6 L531.0,1121.1 L531.5,1121.5 L531.9,1122.0 L532.4,1122.4 L532.9,1122.8 L533.4,1123.3 L533.9,1123.7 L534.3,1124.1 L534.8,1124.6 L535.3,1125.0 L535.8,1125.5 L536.3,1125.9 L536.7,1126.3 L537.2,1126.8 L537.7,1127.2 L538.2,1127.6 L538.7,1128.1 L539.1,1128.5 L539.6,1128.9 L540.1,1129.4 L540.6,1129.8 L541.1,1130.3 L541.5,1130.7 L542.0,1131.1 L542.5,1131.6 L543.0,1132.0 L543.4,1132.4 L543.9,1132.9 L544.4,1133.3 L544.9,1133.8 L545.4,1134.2 L545.8,1134.6 L546.3,1135.1 L546.8,1135.5 L547.3,1135.9 L547.8,1136.4 L548.2,1136.8 L548.7,1137.3 L549.2,1137.7 L549.7,1138.1 L550.2,1138.6 L550.6,1139.0 L551.1,1139.4 L551.6,1139.9 L552.1,1140.3 L552.6,1140.8 L553.0,1141.2 L553.5,1141.6 L554.0,1142.1 L554.5,1142.5 L554.9,1142.9 L555.4,1143.4 L555.9,1143.8 L556.4,1144.3 L556.9,1144.7 L557.3,1145.1 L557.8,1145.6 L558.3,1146.0 L558.8,1146.4 L559.3,1146.9 L559.7,1147.3 L560.2,1147.8 L560.7,1148.2 L561.2,1148.6 L561.7,1149.1 L562.1,1149.5 L562.6,1149.9 L563.1,1150.4 L563.6,1150.8 L564.1,1151.3 L564.5,1151.7 L565.0,1152.1 L565.5,1152.6 L566.0,1153.0 L566.4,1153.4 L566.9,1153.9 L567.4,1154.3 L567.9,1154.8 L568.4,1155.2 L568.8,1155.6 L569.3,1156.1 L569.8,1156.5 L570.3,1156.9 L570.8,1157.4 L571.2,1157.8 L571.7,1158.3 L572.2,1158.7 L572.7,1159.1 L573.2,1159.6 L573.6,1160.0 L574.1,1160.4 L574.6,1160.9 L575.1,1161.3 L575.6,1161.8 L576.0,1162.2 L576.5,1162.6 L577.0,1163.1 L577.5,1163.5 L577.9,1163.9 L578.4,1164.4 L578.9,1164.8 L579.4,1165.3 L579.9,1165.7 L580.3,1166.1 L580.8,1166.6 L581.3,1167.0 L581.8,1167.4 L582.3,1167.9 L582.7,1168.3 L583.2,1168.8 L583.7,1169.2 L584.2,1169.6 L584.7,1170.1 L585.1,1170.5 L585.6,1170.9 L586.1,1171.4 L586.6,1171.8 L587.1,1172.3 L587.5,1172.7 L588.0,1173.1 L588.5,1173.6 L589.0,1174.0 L589.4,1174.4 L589.9,1174.9 L590.4,1175.3 L590.9,1175.8 L591.4,1176.2 L591.8,1176.6 L592.3,1177.1 L592.8,1177.5 L593.3,1177.9 L593.8,1178.4 L594.2,1178.8 L594.7,1179.3 L595.2,1179.7 L595.7,1180.1 L596.2,1180.6 L596.6,1181.0 L597.1,1181.4 L597.6,1181.9 L598.1,1182.3 L598.6,1182.8 L599.0,1183.2 L599.5,1183.6 L600.0,1184.1 L600.5,1184.5 L600.9,1184.9 L601.4,1185.4 L601.9,1185.8 L602.4,1186.3 L602.9,1186.7 L603.3,1187.1 L603.8,1187.6 L604.3,1188.0 L604.8,1188.4 L605.3,1188.9 L605.7,1189.3 L606.2,1189.7 L606.7,1190.2 L607.2,1190.6 L607.7,1191.1 L608.1,1191.5 L608.6,1191.9 L609.1,1192.4 L609.6,1192.8 L610.0,1193.2 L610.5,1193.7 L611.0,1194.1 L611.5,1194.6 L612.0,1195.0 L612.4,1195.4 L612.9,1195.9 L613.4,1196.3 L613.9,1196.7 L614.4,1197.2 L614.8,1197.6 L615.3,1198.1 L615.8,1198.5 L616.3,1198.9 L616.8,1199.4 L617.2,1199.8 L617.7,1200.2 L618.2,1200.7 L618.7,1201.1 L619.2,1201.6 L619.6,1202.0 L620.1,1202.4 L620.6,1202.9 L621.1,1203.3 L621.5,1203.7 L622.0,1204.2 L622.5,1204.6 L623.0,1205.1 L623.5,1205.5" fill="none" stroke="#d8d0f8" stroke-width="2.8" stroke-linejoin="round" stroke-linecap="round" />
</g>
<rect x="142.4" y="713.3" width="574.50" height="487.20" fill="none" stroke="#4b4b49" stroke-width="3.2"/>
<line x1="142.40" y1="1200.5" x2="142.40" y2="1209.8" stroke="#4b4b49" stroke-width="3"/>
<line x1="286.02" y1="1200.5" x2="286.02" y2="1209.8" stroke="#4b4b49" stroke-width="3"/>
<line x1="429.65" y1="1200.5" x2="429.65" y2="1209.8" stroke="#4b4b49" stroke-width="3"/>
<line x1="573.27" y1="1200.5" x2="573.27" y2="1209.8" stroke="#4b4b49" stroke-width="3"/>
<line x1="716.90" y1="1200.5" x2="716.90" y2="1209.8" stroke="#4b4b49" stroke-width="3"/>
<line x1="214.21" y1="1200.5" x2="214.21" y2="1205.5" stroke="#4b4b49" stroke-width="3"/>
<line x1="357.84" y1="1200.5" x2="357.84" y2="1205.5" stroke="#4b4b49" stroke-width="3"/>
<line x1="501.46" y1="1200.5" x2="501.46" y2="1205.5" stroke="#4b4b49" stroke-width="3"/>
<line x1="645.09" y1="1200.5" x2="645.09" y2="1205.5" stroke="#4b4b49" stroke-width="3"/>
<line x1="142.4" y1="723.30" x2="134.4" y2="723.30" stroke="#4b4b49" stroke-width="3"/>
<line x1="142.4" y1="961.80" x2="134.4" y2="961.80" stroke="#4b4b49" stroke-width="3"/>
<line x1="142.4" y1="1200.30" x2="134.4" y2="1200.30" stroke="#4b4b49" stroke-width="3"/>
<line x1="142.4" y1="1128.50" x2="138.4" y2="1128.50" stroke="#4b4b49" stroke-width="2.5"/>
<line x1="142.4" y1="1086.51" x2="138.4" y2="1086.51" stroke="#4b4b49" stroke-width="2.5"/>
<line x1="142.4" y1="1056.71" x2="138.4" y2="1056.71" stroke="#4b4b49" stroke-width="2.5"/>
<line x1="142.4" y1="1033.60" x2="138.4" y2="1033.60" stroke="#4b4b49" stroke-width="2.5"/>
<line x1="142.4" y1="1014.71" x2="138.4" y2="1014.71" stroke="#4b4b49" stroke-width="2.5"/>
<line x1="142.4" y1="998.74" x2="138.4" y2="998.74" stroke="#4b4b49" stroke-width="2.5"/>
<line x1="142.4" y1="984.91" x2="138.4" y2="984.91" stroke="#4b4b49" stroke-width="2.5"/>
<line x1="142.4" y1="972.71" x2="138.4" y2="972.71" stroke="#4b4b49" stroke-width="2.5"/>
<line x1="142.4" y1="890.00" x2="138.4" y2="890.00" stroke="#4b4b49" stroke-width="2.5"/>
<line x1="142.4" y1="848.01" x2="138.4" y2="848.01" stroke="#4b4b49" stroke-width="2.5"/>
<line x1="142.4" y1="818.21" x2="138.4" y2="818.21" stroke="#4b4b49" stroke-width="2.5"/>
<line x1="142.4" y1="795.10" x2="138.4" y2="795.10" stroke="#4b4b49" stroke-width="2.5"/>
<line x1="142.4" y1="776.21" x2="138.4" y2="776.21" stroke="#4b4b49" stroke-width="2.5"/>
<line x1="142.4" y1="760.24" x2="138.4" y2="760.24" stroke="#4b4b49" stroke-width="2.5"/>
<line x1="142.4" y1="746.41" x2="138.4" y2="746.41" stroke="#4b4b49" stroke-width="2.5"/>
<line x1="142.4" y1="734.21" x2="138.4" y2="734.21" stroke="#4b4b49" stroke-width="2.5"/>
<text x="134.08" y="1243.60" font-size="33" fill="#3f3f3f" textLength="17.03" lengthAdjust="spacingAndGlyphs" >0</text>
<text x="251.23" y="1243.60" font-size="33" fill="#3f3f3f" textLength="70.26" lengthAdjust="spacingAndGlyphs" >1000</text>
<text x="393.28" y="1243.60" font-size="33" fill="#3f3f3f" textLength="72.25" lengthAdjust="spacingAndGlyphs" >2000</text>
<text x="537.61" y="1243.60" font-size="33" fill="#3f3f3f" textLength="71.71" lengthAdjust="spacingAndGlyphs" >3000</text>
<text x="681.06" y="1243.60" font-size="33" fill="#3f3f3f" textLength="71.05" lengthAdjust="spacingAndGlyphs" >4000</text>
<text x="111.92" y="733.00" font-size="33" fill="#3f3f3f" textLength="10.23" lengthAdjust="spacingAndGlyphs" >1</text>
<text x="84.71" y="970.30" font-size="31" fill="#3f3f3f" textLength="41.23" lengthAdjust="spacingAndGlyphs" >0.1</text>
<text x="68.03" y="1209.80" font-size="31" fill="#3f3f3f" textLength="56.72" lengthAdjust="spacingAndGlyphs" >0.01</text>
<text x="352.66" y="1300.50" font-size="37" fill="#3f3f3f" textLength="155.77" lengthAdjust="spacingAndGlyphs" >Time (ns)</text>
<text transform="translate(56.20,1184.13) rotate(-90)" x="0" y="0" font-size="38" fill="#3f3f3f" textLength="455.01" lengthAdjust="spacingAndGlyphs">Normalized intensity (a.u.)</text>
<text x="33.69" y="707.70" font-size="59" fill="#3f3f3f" textLength="32.13" lengthAdjust="spacingAndGlyphs" >d</text>
<use href="#mc" x="514.8" y="741"/>
<use href="#mp" x="514.8" y="783.3"/>
<line x1="476.7" y1="825" x2="554.2" y2="825" stroke="#c6def0" stroke-width="2.6"/>
<text x="559.77" y="751.80" font-size="34" fill="#3f3f3f" textLength="151.47" lengthAdjust="spacingAndGlyphs" >Reference</text>
<text x="560.14" y="794.10" font-size="34" fill="#3f3f3f" textLength="60.73" lengthAdjust="spacingAndGlyphs" >2-Cl</text>
<text x="560.37" y="836.50" font-size="34" fill="#3f3f3f" textLength="149.80" lengthAdjust="spacingAndGlyphs" >Fitting line</text>
<text x="527.72" y="1040.00" font-size="34" fill="#6c628e" textLength="144.15" lengthAdjust="spacingAndGlyphs" >812.03 ns</text>
<text x="156.78" y="1161.80" font-size="34" fill="#5cbcc6" textLength="144.59" lengthAdjust="spacingAndGlyphs" >370.40 ns</text>
<filter id="hb5" filterUnits="userSpaceOnUse" x="866" y="710.6" width="518.5999999999999" height="524.1"><feGaussianBlur stdDeviation="1"/></filter>
<g filter="url(#hb5)">
<rect x="866" y="710.6" width="518.5999999999999" height="524.1" fill="#7e1f2b"/>
<g transform="translate(866,710.6) scale(8.3645,8.4532)" shape-rendering="crispEdges">
<path fill="#a8283e" d="M0 0h1v1h-1zM2 0h1v1h-1zM5 0h1v1h-1zM17 0h1v1h-1zM24 0h1v1h-1zM35 0h1v1h-1zM37 0h1v1h-1zM39 0h1v1h-1zM45 0h2v1h-2zM50 0h1v1h-1zM55 0h1v1h-1zM57 0h1v1h-1zM61 0h1v1h-1zM4 1h1v1h-1zM9 1h2v1h-2zM18 1h1v1h-1zM22 1h2v1h-2zM28 1h1v1h-1zM33 1h1v1h-1zM36 1h3v1h-3zM41 1h3v1h-3zM45 1h1v1h-1zM47 1h1v1h-1zM50 1h1v1h-1zM55 1h1v1h-1zM58 1h1v1h-1zM10 2h3v1h-3zM15 2h3v1h-3zM26 2h1v1h-1zM32 2h1v1h-1zM48 2h1v1h-1zM54 2h1v1h-1zM23 3h1v1h-1zM31 3h1v1h-1zM37 3h1v1h-1zM51 3h1v1h-1zM9 4h1v1h-1zM35 4h1v1h-1zM37 4h1v1h-1zM41 4h1v1h-1zM53 4h1v1h-1zM61 4h1v1h-1zM6 5h1v1h-1zM23 5h1v1h-1zM37 5h1v1h-1zM39 5h1v1h-1zM42 5h1v1h-1zM55 5h1v1h-1zM0 6h1v1h-1zM2 6h1v1h-1zM5 6h1v1h-1zM9 6h1v1h-1zM12 6h1v1h-1zM18 6h1v1h-1zM24 6h1v1h-1zM48 6h1v1h-1zM51 6h1v1h-1zM56 6h1v1h-1zM1 7h1v1h-1zM3 7h1v1h-1zM9 7h1v1h-1zM18 7h1v1h-1zM43 7h1v1h-1zM1 8h1v1h-1zM39 8h1v1h-1zM42 8h1v1h-1zM51 8h2v1h-2zM1 9h1v1h-1zM9 9h1v1h-1zM14 9h1v1h-1zM44 9h1v1h-1zM57 9h1v1h-1zM2 10h2v1h-2zM42 10h1v1h-1zM47 10h1v1h-1zM57 10h1v1h-1zM0 11h2v1h-2zM9 12h1v1h-1zM15 12h1v1h-1zM29 12h1v1h-1zM47 12h1v1h-1zM49 12h1v1h-1zM52 12h1v1h-1zM54 12h1v1h-1zM0 13h1v1h-1zM2 13h1v1h-1zM4 13h3v1h-3zM13 13h1v1h-1zM19 13h1v1h-1zM21 13h1v1h-1zM35 13h1v1h-1zM39 13h1v1h-1zM44 13h1v1h-1zM49 13h1v1h-1zM0 14h2v1h-2zM3 14h1v1h-1zM9 14h1v1h-1zM13 14h1v1h-1zM48 14h1v1h-1zM5 15h1v1h-1zM8 15h1v1h-1zM38 15h1v1h-1zM46 15h1v1h-1zM48 15h1v1h-1zM52 15h1v1h-1zM2 16h2v1h-2zM13 16h2v1h-2zM42 16h3v1h-3zM51 16h1v1h-1zM53 16h1v1h-1zM4 17h1v1h-1zM9 17h1v1h-1zM33 17h1v1h-1zM36 17h1v1h-1zM41 17h2v1h-2zM46 17h1v1h-1zM48 17h1v1h-1zM0 18h1v1h-1zM2 18h1v1h-1zM10 18h1v1h-1zM12 18h1v1h-1zM35 18h1v1h-1zM54 18h1v1h-1zM58 18h1v1h-1zM2 19h2v1h-2zM6 19h1v1h-1zM48 19h1v1h-1zM57 19h1v1h-1zM2 20h1v1h-1zM4 20h1v1h-1zM9 20h3v1h-3zM27 20h1v1h-1zM44 20h1v1h-1zM53 20h1v1h-1zM61 20h1v1h-1zM0 21h2v1h-2zM3 21h1v1h-1zM10 21h2v1h-2zM24 21h1v1h-1zM55 21h1v1h-1zM58 21h1v1h-1zM61 21h1v1h-1zM0 22h1v1h-1zM2 22h1v1h-1zM5 22h1v1h-1zM7 22h2v1h-2zM11 22h1v1h-1zM0 23h1v1h-1zM4 23h1v1h-1zM7 23h1v1h-1zM39 23h1v1h-1zM44 23h1v1h-1zM2 24h2v1h-2zM7 24h1v1h-1zM10 24h2v1h-2zM41 24h1v1h-1zM44 24h1v1h-1zM8 25h1v1h-1zM10 25h1v1h-1zM12 25h1v1h-1zM22 25h1v1h-1zM25 25h1v1h-1zM27 25h1v1h-1zM54 25h2v1h-2zM0 26h1v1h-1zM26 26h1v1h-1zM35 26h1v1h-1zM0 27h1v1h-1zM12 27h1v1h-1zM23 27h1v1h-1zM27 27h2v1h-2zM47 27h1v1h-1zM58 27h1v1h-1zM20 28h1v1h-1zM42 28h1v1h-1zM54 28h1v1h-1zM58 28h1v1h-1zM60 28h2v1h-2zM8 29h1v1h-1zM11 29h1v1h-1zM13 29h1v1h-1zM27 29h1v1h-1zM33 29h2v1h-2zM36 29h1v1h-1zM58 29h1v1h-1zM0 30h1v1h-1zM9 30h1v1h-1zM13 30h1v1h-1zM25 30h1v1h-1zM47 30h1v1h-1zM53 30h1v1h-1zM56 30h2v1h-2zM7 31h1v1h-1zM20 31h1v1h-1zM40 31h1v1h-1zM49 31h1v1h-1zM51 31h1v1h-1zM56 31h1v1h-1zM0 32h1v1h-1zM17 32h1v1h-1zM22 32h1v1h-1zM28 32h1v1h-1zM31 32h1v1h-1zM51 32h1v1h-1zM25 33h1v1h-1zM38 33h1v1h-1zM48 33h1v1h-1zM52 33h1v1h-1zM0 34h1v1h-1zM20 34h1v1h-1zM23 34h1v1h-1zM51 34h1v1h-1zM56 34h1v1h-1zM23 35h2v1h-2zM29 35h1v1h-1zM0 36h3v1h-3zM13 36h1v1h-1zM50 36h1v1h-1zM53 36h1v1h-1zM0 37h1v1h-1zM2 37h2v1h-2zM10 37h1v1h-1zM17 37h1v1h-1zM24 37h1v1h-1zM39 37h1v1h-1zM47 37h1v1h-1zM54 37h2v1h-2zM0 38h2v1h-2zM19 38h1v1h-1zM39 38h1v1h-1zM47 38h4v1h-4zM0 39h1v1h-1zM11 39h1v1h-1zM28 39h1v1h-1zM31 39h1v1h-1zM46 39h1v1h-1zM0 40h3v1h-3zM16 40h1v1h-1zM25 40h1v1h-1zM27 40h1v1h-1zM40 40h1v1h-1zM49 40h2v1h-2zM8 41h1v1h-1zM13 41h1v1h-1zM15 41h1v1h-1zM23 41h1v1h-1zM37 41h1v1h-1zM42 41h1v1h-1zM48 41h1v1h-1zM0 42h2v1h-2zM28 42h1v1h-1zM34 42h1v1h-1zM0 43h3v1h-3zM4 43h1v1h-1zM8 43h1v1h-1zM13 43h3v1h-3zM27 43h1v1h-1zM30 43h1v1h-1zM32 43h1v1h-1zM2 44h1v1h-1zM6 44h1v1h-1zM9 44h1v1h-1zM18 44h1v1h-1zM25 44h1v1h-1zM43 44h2v1h-2zM47 44h1v1h-1zM50 44h1v1h-1zM2 45h1v1h-1zM4 45h1v1h-1zM6 45h2v1h-2zM26 45h1v1h-1zM44 45h1v1h-1zM50 45h1v1h-1zM43 46h1v1h-1zM1 47h1v1h-1zM4 47h1v1h-1zM6 47h2v1h-2zM13 47h1v1h-1zM19 47h1v1h-1zM25 47h1v1h-1zM32 47h1v1h-1zM41 47h1v1h-1zM45 47h1v1h-1zM47 47h1v1h-1zM49 47h1v1h-1zM52 47h1v1h-1zM54 47h1v1h-1zM59 47h1v1h-1zM1 48h1v1h-1zM6 48h2v1h-2zM10 48h1v1h-1zM16 48h1v1h-1zM18 48h1v1h-1zM21 48h2v1h-2zM30 48h2v1h-2zM45 48h2v1h-2zM49 48h2v1h-2zM61 48h1v1h-1zM9 49h1v1h-1zM15 49h1v1h-1zM38 49h1v1h-1zM45 49h1v1h-1zM49 49h4v1h-4zM57 49h1v1h-1zM60 49h1v1h-1zM3 50h2v1h-2zM10 50h2v1h-2zM14 50h1v1h-1zM21 50h1v1h-1zM28 50h1v1h-1zM33 50h1v1h-1zM40 50h2v1h-2zM50 50h2v1h-2zM55 50h1v1h-1zM58 50h2v1h-2zM8 51h1v1h-1zM11 51h1v1h-1zM15 51h1v1h-1zM18 51h1v1h-1zM31 51h1v1h-1zM33 51h1v1h-1zM52 51h2v1h-2zM16 52h2v1h-2zM44 52h2v1h-2zM55 52h1v1h-1zM57 52h2v1h-2zM0 53h1v1h-1zM6 53h1v1h-1zM8 53h1v1h-1zM11 53h2v1h-2zM22 53h1v1h-1zM35 53h3v1h-3zM40 53h1v1h-1zM46 53h2v1h-2zM53 53h2v1h-2zM61 53h1v1h-1zM2 54h1v1h-1zM8 54h1v1h-1zM10 54h1v1h-1zM13 54h2v1h-2zM17 54h1v1h-1zM27 54h1v1h-1zM36 54h1v1h-1zM38 54h3v1h-3zM42 54h2v1h-2zM51 54h1v1h-1zM54 54h2v1h-2zM58 54h1v1h-1zM60 54h1v1h-1zM5 55h2v1h-2zM9 55h3v1h-3zM33 55h1v1h-1zM35 55h1v1h-1zM46 55h2v1h-2zM58 55h1v1h-1zM0 56h1v1h-1zM9 56h1v1h-1zM13 56h2v1h-2zM25 56h1v1h-1zM34 56h1v1h-1zM36 56h2v1h-2zM44 56h1v1h-1zM51 56h1v1h-1zM57 56h1v1h-1zM3 57h1v1h-1zM7 57h1v1h-1zM10 57h2v1h-2zM25 57h1v1h-1zM27 57h1v1h-1zM40 57h1v1h-1zM46 57h1v1h-1zM56 57h2v1h-2zM61 57h1v1h-1zM2 58h2v1h-2zM7 58h3v1h-3zM11 58h1v1h-1zM43 58h1v1h-1zM51 58h2v1h-2zM58 58h1v1h-1zM60 58h1v1h-1zM0 59h5v1h-5zM7 59h2v1h-2zM10 59h1v1h-1zM18 59h1v1h-1zM25 59h1v1h-1zM31 59h2v1h-2zM43 59h1v1h-1zM45 59h1v1h-1zM0 60h1v1h-1zM2 60h2v1h-2zM5 60h1v1h-1zM8 60h1v1h-1zM11 60h1v1h-1zM13 60h1v1h-1zM17 60h3v1h-3zM26 60h2v1h-2zM33 60h1v1h-1zM36 60h1v1h-1zM38 60h1v1h-1zM41 60h1v1h-1zM46 60h1v1h-1zM49 60h2v1h-2zM53 60h1v1h-1zM55 60h2v1h-2zM0 61h1v1h-1zM4 61h2v1h-2zM8 61h1v1h-1zM10 61h1v1h-1zM16 61h1v1h-1zM18 61h1v1h-1zM32 61h2v1h-2zM35 61h1v1h-1zM41 61h1v1h-1zM45 61h1v1h-1zM55 61h1v1h-1zM60 61h2v1h-2z"/>
<path fill="#96233a" d="M1 0h1v1h-1zM8 0h2v1h-2zM11 0h1v1h-1zM13 0h1v1h-1zM16 0h1v1h-1zM19 0h1v1h-1zM25 0h1v1h-1zM30 0h1v1h-1zM32 0h3v1h-3zM36 0h1v1h-1zM38 0h1v1h-1zM42 0h3v1h-3zM47 0h1v1h-1zM51 0h1v1h-1zM58 0h1v1h-1zM2 1h1v1h-1zM7 1h1v1h-1zM14 1h1v1h-1zM20 1h2v1h-2zM39 1h1v1h-1zM54 1h1v1h-1zM13 2h2v1h-2zM18 2h1v1h-1zM21 2h1v1h-1zM31 2h1v1h-1zM35 2h1v1h-1zM37 2h3v1h-3zM41 2h1v1h-1zM43 2h1v1h-1zM46 2h1v1h-1zM49 2h2v1h-2zM56 2h1v1h-1zM0 3h1v1h-1zM5 3h2v1h-2zM9 3h1v1h-1zM12 3h1v1h-1zM20 3h1v1h-1zM42 3h2v1h-2zM47 3h1v1h-1zM6 4h1v1h-1zM12 4h1v1h-1zM19 4h1v1h-1zM26 4h1v1h-1zM30 4h1v1h-1zM46 4h1v1h-1zM48 4h1v1h-1zM50 4h1v1h-1zM52 4h1v1h-1zM54 4h2v1h-2zM57 4h2v1h-2zM0 5h1v1h-1zM3 5h1v1h-1zM16 5h1v1h-1zM20 5h1v1h-1zM30 5h1v1h-1zM41 5h1v1h-1zM53 5h1v1h-1zM11 6h1v1h-1zM20 6h1v1h-1zM27 6h1v1h-1zM44 6h1v1h-1zM50 6h1v1h-1zM55 6h1v1h-1zM0 7h1v1h-1zM10 7h1v1h-1zM16 7h1v1h-1zM36 7h1v1h-1zM38 7h1v1h-1zM40 7h1v1h-1zM49 7h1v1h-1zM54 7h1v1h-1zM60 7h1v1h-1zM0 8h1v1h-1zM2 8h3v1h-3zM6 8h1v1h-1zM11 8h1v1h-1zM15 8h2v1h-2zM33 8h1v1h-1zM37 8h2v1h-2zM43 8h1v1h-1zM48 8h1v1h-1zM3 9h1v1h-1zM6 9h1v1h-1zM19 9h1v1h-1zM22 9h1v1h-1zM41 9h1v1h-1zM55 9h1v1h-1zM7 10h2v1h-2zM14 10h1v1h-1zM18 10h1v1h-1zM41 10h1v1h-1zM44 10h1v1h-1zM48 10h1v1h-1zM60 10h1v1h-1zM2 11h1v1h-1zM9 11h1v1h-1zM15 11h3v1h-3zM40 11h1v1h-1zM43 11h2v1h-2zM46 11h2v1h-2zM54 11h1v1h-1zM2 12h1v1h-1zM4 12h2v1h-2zM8 12h1v1h-1zM18 12h1v1h-1zM21 12h1v1h-1zM24 12h1v1h-1zM39 12h1v1h-1zM57 12h2v1h-2zM1 13h1v1h-1zM7 13h2v1h-2zM20 13h1v1h-1zM25 13h1v1h-1zM27 13h1v1h-1zM55 13h1v1h-1zM8 14h1v1h-1zM11 14h1v1h-1zM16 14h3v1h-3zM24 14h1v1h-1zM42 14h1v1h-1zM47 14h1v1h-1zM2 15h2v1h-2zM10 15h1v1h-1zM12 15h1v1h-1zM14 15h1v1h-1zM28 15h1v1h-1zM41 15h1v1h-1zM43 15h2v1h-2zM50 15h1v1h-1zM53 15h2v1h-2zM4 16h1v1h-1zM10 16h1v1h-1zM39 16h1v1h-1zM0 17h1v1h-1zM5 17h1v1h-1zM11 17h2v1h-2zM45 17h1v1h-1zM54 17h1v1h-1zM6 18h1v1h-1zM14 18h1v1h-1zM19 18h1v1h-1zM31 18h1v1h-1zM37 18h2v1h-2zM40 18h1v1h-1zM42 18h2v1h-2zM60 18h1v1h-1zM4 19h1v1h-1zM7 19h1v1h-1zM9 19h1v1h-1zM11 19h1v1h-1zM41 19h1v1h-1zM49 19h1v1h-1zM1 20h1v1h-1zM5 20h1v1h-1zM8 20h1v1h-1zM14 20h1v1h-1zM17 20h2v1h-2zM26 20h1v1h-1zM32 20h1v1h-1zM40 20h1v1h-1zM59 20h1v1h-1zM4 21h3v1h-3zM8 21h2v1h-2zM14 21h1v1h-1zM27 21h1v1h-1zM43 21h1v1h-1zM49 21h1v1h-1zM57 21h1v1h-1zM17 22h1v1h-1zM22 22h1v1h-1zM31 22h1v1h-1zM47 22h1v1h-1zM51 22h1v1h-1zM59 22h2v1h-2zM1 23h1v1h-1zM6 23h1v1h-1zM12 23h1v1h-1zM21 23h2v1h-2zM29 23h1v1h-1zM57 23h1v1h-1zM59 23h1v1h-1zM0 24h1v1h-1zM6 24h1v1h-1zM8 24h2v1h-2zM24 24h1v1h-1zM56 24h1v1h-1zM60 24h1v1h-1zM11 25h1v1h-1zM37 25h1v1h-1zM40 25h1v1h-1zM42 25h1v1h-1zM45 25h1v1h-1zM53 25h1v1h-1zM61 25h1v1h-1zM3 26h1v1h-1zM9 26h1v1h-1zM14 26h2v1h-2zM21 26h1v1h-1zM23 26h1v1h-1zM33 26h1v1h-1zM51 26h1v1h-1zM9 27h1v1h-1zM14 27h1v1h-1zM19 27h1v1h-1zM25 27h1v1h-1zM30 27h1v1h-1zM33 27h1v1h-1zM39 27h1v1h-1zM43 27h1v1h-1zM56 27h1v1h-1zM59 27h1v1h-1zM1 28h1v1h-1zM3 28h1v1h-1zM10 28h1v1h-1zM25 28h1v1h-1zM40 28h1v1h-1zM44 28h1v1h-1zM52 28h1v1h-1zM6 29h1v1h-1zM10 29h1v1h-1zM16 29h1v1h-1zM19 29h1v1h-1zM38 29h2v1h-2zM42 29h1v1h-1zM47 29h2v1h-2zM50 29h1v1h-1zM54 29h2v1h-2zM3 30h1v1h-1zM12 30h1v1h-1zM15 30h2v1h-2zM19 30h1v1h-1zM31 30h1v1h-1zM34 30h1v1h-1zM43 30h1v1h-1zM59 30h1v1h-1zM0 31h1v1h-1zM9 31h1v1h-1zM15 31h1v1h-1zM23 31h1v1h-1zM28 31h1v1h-1zM35 31h1v1h-1zM43 31h1v1h-1zM46 31h1v1h-1zM54 31h1v1h-1zM59 31h2v1h-2zM11 32h1v1h-1zM27 32h1v1h-1zM35 32h1v1h-1zM43 32h2v1h-2zM53 32h3v1h-3zM58 32h1v1h-1zM1 33h1v1h-1zM3 33h2v1h-2zM11 33h1v1h-1zM19 33h1v1h-1zM23 33h1v1h-1zM27 33h1v1h-1zM32 33h1v1h-1zM36 33h1v1h-1zM42 33h1v1h-1zM45 33h1v1h-1zM49 33h1v1h-1zM51 33h1v1h-1zM53 33h1v1h-1zM55 33h1v1h-1zM38 34h1v1h-1zM49 34h1v1h-1zM3 35h1v1h-1zM19 35h1v1h-1zM28 35h1v1h-1zM38 35h1v1h-1zM48 35h1v1h-1zM59 35h1v1h-1zM61 35h1v1h-1zM19 36h1v1h-1zM22 36h1v1h-1zM30 36h1v1h-1zM33 36h1v1h-1zM41 36h1v1h-1zM49 36h1v1h-1zM4 37h1v1h-1zM44 37h1v1h-1zM46 37h1v1h-1zM7 38h1v1h-1zM24 38h1v1h-1zM27 38h1v1h-1zM33 38h1v1h-1zM38 38h1v1h-1zM45 38h1v1h-1zM52 38h1v1h-1zM61 38h1v1h-1zM2 39h1v1h-1zM15 39h1v1h-1zM48 39h1v1h-1zM56 39h1v1h-1zM6 40h1v1h-1zM18 40h2v1h-2zM24 40h1v1h-1zM30 40h2v1h-2zM36 40h1v1h-1zM46 40h1v1h-1zM51 40h1v1h-1zM0 41h1v1h-1zM4 41h1v1h-1zM7 41h1v1h-1zM16 41h1v1h-1zM22 41h1v1h-1zM24 41h1v1h-1zM26 41h1v1h-1zM29 41h1v1h-1zM31 41h1v1h-1zM39 41h1v1h-1zM54 41h1v1h-1zM8 42h2v1h-2zM32 42h1v1h-1zM36 42h3v1h-3zM61 42h1v1h-1zM5 43h1v1h-1zM25 43h1v1h-1zM37 43h1v1h-1zM46 43h1v1h-1zM5 44h1v1h-1zM11 44h1v1h-1zM26 44h3v1h-3zM31 44h1v1h-1zM36 44h1v1h-1zM39 44h1v1h-1zM41 44h1v1h-1zM46 44h1v1h-1zM53 44h1v1h-1zM0 45h1v1h-1zM9 45h2v1h-2zM12 45h1v1h-1zM17 45h1v1h-1zM20 45h1v1h-1zM23 45h1v1h-1zM27 45h1v1h-1zM32 45h1v1h-1zM43 45h1v1h-1zM45 45h1v1h-1zM49 45h1v1h-1zM53 45h1v1h-1zM1 46h1v1h-1zM7 46h4v1h-4zM12 46h1v1h-1zM19 46h1v1h-1zM28 46h1v1h-1zM30 46h2v1h-2zM50 46h2v1h-2zM57 46h2v1h-2zM0 47h1v1h-1zM3 47h1v1h-1zM11 47h1v1h-1zM14 47h2v1h-2zM21 47h1v1h-1zM23 47h1v1h-1zM42 47h1v1h-1zM46 47h1v1h-1zM48 47h1v1h-1zM50 47h1v1h-1zM55 47h1v1h-1zM57 47h2v1h-2zM61 47h1v1h-1zM0 48h1v1h-1zM4 48h2v1h-2zM12 48h1v1h-1zM19 48h1v1h-1zM25 48h1v1h-1zM32 48h2v1h-2zM48 48h1v1h-1zM58 48h1v1h-1zM3 49h2v1h-2zM11 49h1v1h-1zM22 49h1v1h-1zM30 49h1v1h-1zM48 49h1v1h-1zM54 49h1v1h-1zM0 50h2v1h-2zM5 50h2v1h-2zM12 50h1v1h-1zM15 50h1v1h-1zM31 50h1v1h-1zM35 50h1v1h-1zM47 50h1v1h-1zM54 50h1v1h-1zM56 50h2v1h-2zM60 50h2v1h-2zM3 51h1v1h-1zM13 51h1v1h-1zM24 51h1v1h-1zM28 51h1v1h-1zM36 51h1v1h-1zM40 51h1v1h-1zM45 51h1v1h-1zM47 51h2v1h-2zM54 51h1v1h-1zM0 52h2v1h-2zM3 52h1v1h-1zM18 52h1v1h-1zM33 52h1v1h-1zM37 52h2v1h-2zM43 52h1v1h-1zM60 52h1v1h-1zM5 53h1v1h-1zM10 53h1v1h-1zM13 53h1v1h-1zM15 53h1v1h-1zM20 53h1v1h-1zM33 53h1v1h-1zM39 53h1v1h-1zM41 53h1v1h-1zM55 53h1v1h-1zM57 53h3v1h-3zM9 54h1v1h-1zM11 54h1v1h-1zM16 54h1v1h-1zM31 54h1v1h-1zM34 54h1v1h-1zM47 54h4v1h-4zM52 54h1v1h-1zM56 54h1v1h-1zM0 55h2v1h-2zM7 55h1v1h-1zM12 55h3v1h-3zM21 55h1v1h-1zM25 55h1v1h-1zM32 55h1v1h-1zM34 55h1v1h-1zM38 55h1v1h-1zM48 55h2v1h-2zM56 55h1v1h-1zM1 56h1v1h-1zM3 56h1v1h-1zM7 56h1v1h-1zM12 56h1v1h-1zM18 56h2v1h-2zM21 56h1v1h-1zM23 56h1v1h-1zM28 56h2v1h-2zM0 57h1v1h-1zM2 57h1v1h-1zM4 57h2v1h-2zM8 57h2v1h-2zM12 57h1v1h-1zM24 57h1v1h-1zM28 57h1v1h-1zM39 57h1v1h-1zM43 57h1v1h-1zM45 57h1v1h-1zM51 57h2v1h-2zM54 57h1v1h-1zM58 57h1v1h-1zM14 58h2v1h-2zM18 58h1v1h-1zM36 58h1v1h-1zM38 58h1v1h-1zM44 58h1v1h-1zM46 58h1v1h-1zM50 58h1v1h-1zM61 58h1v1h-1zM6 59h1v1h-1zM11 59h1v1h-1zM22 59h1v1h-1zM33 59h1v1h-1zM39 59h1v1h-1zM47 59h1v1h-1zM52 59h1v1h-1zM54 59h2v1h-2zM59 59h2v1h-2zM6 60h2v1h-2zM9 60h1v1h-1zM12 60h1v1h-1zM20 60h1v1h-1zM22 60h1v1h-1zM37 60h1v1h-1zM51 60h1v1h-1zM57 60h1v1h-1zM59 60h1v1h-1zM61 60h1v1h-1zM2 61h1v1h-1zM7 61h1v1h-1zM9 61h1v1h-1zM13 61h1v1h-1zM20 61h1v1h-1zM27 61h1v1h-1zM43 61h2v1h-2zM50 61h1v1h-1z"/>
</g>
</g>
<rect x="866" y="710.6" width="518.5999999999999" height="524.1" fill="none" stroke="#502a2c" stroke-width="2.6"/>
<filter id="hb7" filterUnits="userSpaceOnUse" x="1608.7" y="711.2" width="517.3" height="523.2"><feGaussianBlur stdDeviation="1"/></filter>
<g filter="url(#hb7)">
<rect x="1608.7" y="711.2" width="517.3" height="523.2" fill="#f1a04d"/>
<g transform="translate(1608.7,711.2) scale(8.3435,8.4387)" shape-rendering="crispEdges">
<path fill="#ee8f3d" d="M1 0h1v1h-1zM4 0h1v1h-1zM10 0h1v1h-1zM15 0h1v1h-1zM61 0h1v1h-1zM0 1h1v1h-1zM2 1h6v1h-6zM9 1h1v1h-1zM17 1h1v1h-1zM52 1h1v1h-1zM0 2h1v1h-1zM6 2h3v1h-3zM10 2h1v1h-1zM13 2h2v1h-2zM54 2h1v1h-1zM61 2h1v1h-1zM0 3h1v1h-1zM2 3h1v1h-1zM5 3h1v1h-1zM7 3h1v1h-1zM14 3h1v1h-1zM55 3h1v1h-1zM1 4h1v1h-1zM9 4h1v1h-1zM14 4h1v1h-1zM54 4h1v1h-1zM0 5h2v1h-2zM4 5h1v1h-1zM46 5h1v1h-1zM59 5h1v1h-1zM3 6h2v1h-2zM12 6h1v1h-1zM47 6h1v1h-1zM49 6h1v1h-1zM52 6h1v1h-1zM54 6h1v1h-1zM1 7h1v1h-1zM15 7h1v1h-1zM23 7h1v1h-1zM2 8h1v1h-1zM5 8h1v1h-1zM48 8h1v1h-1zM0 9h1v1h-1zM49 10h1v1h-1zM55 10h1v1h-1zM3 11h1v1h-1zM15 11h1v1h-1zM49 11h1v1h-1zM0 12h1v1h-1zM17 13h1v1h-1zM20 14h1v1h-1zM18 15h1v1h-1zM49 17h1v1h-1zM39 18h1v1h-1zM55 18h1v1h-1zM33 20h1v1h-1zM0 22h1v1h-1zM1 23h1v1h-1zM14 23h1v1h-1zM0 24h1v1h-1zM0 25h1v1h-1zM5 25h1v1h-1zM0 26h1v1h-1zM3 26h1v1h-1zM0 27h1v1h-1zM29 27h1v1h-1zM13 28h1v1h-1zM15 28h1v1h-1zM17 28h1v1h-1zM0 29h1v1h-1zM16 29h1v1h-1zM13 30h1v1h-1zM17 30h1v1h-1zM21 30h1v1h-1zM10 31h1v1h-1zM12 31h2v1h-2zM16 31h2v1h-2zM7 32h2v1h-2zM7 33h1v1h-1zM12 33h1v1h-1zM15 33h1v1h-1zM5 34h1v1h-1zM21 34h1v1h-1zM3 35h1v1h-1zM12 35h1v1h-1zM14 37h1v1h-1zM2 38h1v1h-1zM1 39h2v1h-2zM1 40h1v1h-1zM5 43h1v1h-1zM4 44h1v1h-1zM0 47h1v1h-1zM11 47h1v1h-1zM3 48h1v1h-1zM7 48h1v1h-1zM14 48h1v1h-1zM4 49h1v1h-1zM7 49h1v1h-1zM1 50h2v1h-2zM4 50h1v1h-1zM8 50h2v1h-2zM11 50h2v1h-2zM14 50h1v1h-1zM16 50h1v1h-1zM20 50h1v1h-1zM6 51h3v1h-3zM10 51h2v1h-2zM3 52h3v1h-3zM7 52h2v1h-2zM10 52h2v1h-2zM15 52h1v1h-1zM17 52h1v1h-1zM22 52h1v1h-1zM24 52h1v1h-1zM29 52h1v1h-1zM2 53h1v1h-1zM4 53h1v1h-1zM12 53h1v1h-1zM14 53h3v1h-3zM18 53h1v1h-1zM22 53h1v1h-1zM55 53h1v1h-1zM2 54h1v1h-1zM5 54h1v1h-1zM7 54h2v1h-2zM15 54h1v1h-1zM27 54h1v1h-1zM8 55h2v1h-2zM12 55h1v1h-1zM14 55h3v1h-3zM23 55h1v1h-1zM28 55h2v1h-2zM4 56h1v1h-1zM7 56h2v1h-2zM26 56h1v1h-1zM2 57h1v1h-1zM5 57h1v1h-1zM11 57h1v1h-1zM20 57h1v1h-1zM48 57h1v1h-1zM19 58h1v1h-1zM23 58h1v1h-1zM1 59h1v1h-1zM5 59h1v1h-1zM18 59h1v1h-1zM0 60h1v1h-1zM3 60h1v1h-1zM13 60h1v1h-1zM20 60h1v1h-1zM19 61h1v1h-1z"/>
<path fill="#f09845" d="M2 0h2v1h-2zM5 0h2v1h-2zM8 0h2v1h-2zM11 0h4v1h-4zM19 0h1v1h-1zM25 0h1v1h-1zM27 0h1v1h-1zM44 0h2v1h-2zM49 0h1v1h-1zM55 0h2v1h-2zM58 0h1v1h-1zM60 0h1v1h-1zM10 1h1v1h-1zM13 1h2v1h-2zM16 1h1v1h-1zM21 1h1v1h-1zM54 1h3v1h-3zM58 1h2v1h-2zM1 2h5v1h-5zM9 2h1v1h-1zM12 2h1v1h-1zM16 2h1v1h-1zM19 2h2v1h-2zM23 2h1v1h-1zM25 2h1v1h-1zM27 2h1v1h-1zM50 2h2v1h-2zM56 2h1v1h-1zM1 3h1v1h-1zM3 3h2v1h-2zM6 3h1v1h-1zM11 3h1v1h-1zM13 3h1v1h-1zM16 3h2v1h-2zM24 3h1v1h-1zM51 3h4v1h-4zM57 3h1v1h-1zM59 3h1v1h-1zM61 3h1v1h-1zM0 4h1v1h-1zM2 4h5v1h-5zM8 4h1v1h-1zM10 4h1v1h-1zM25 4h1v1h-1zM30 4h1v1h-1zM51 4h3v1h-3zM55 4h1v1h-1zM57 4h2v1h-2zM60 4h2v1h-2zM3 5h1v1h-1zM5 5h1v1h-1zM7 5h3v1h-3zM11 5h3v1h-3zM16 5h1v1h-1zM23 5h1v1h-1zM25 5h1v1h-1zM27 5h1v1h-1zM43 5h1v1h-1zM49 5h1v1h-1zM52 5h5v1h-5zM58 5h1v1h-1zM61 5h1v1h-1zM0 6h1v1h-1zM2 6h1v1h-1zM6 6h1v1h-1zM9 6h3v1h-3zM13 6h1v1h-1zM22 6h1v1h-1zM33 6h1v1h-1zM41 6h1v1h-1zM48 6h1v1h-1zM50 6h2v1h-2zM53 6h1v1h-1zM55 6h4v1h-4zM0 7h1v1h-1zM2 7h5v1h-5zM9 7h1v1h-1zM11 7h1v1h-1zM28 7h1v1h-1zM40 7h1v1h-1zM43 7h1v1h-1zM45 7h1v1h-1zM48 7h1v1h-1zM50 7h7v1h-7zM60 7h1v1h-1zM1 8h1v1h-1zM3 8h1v1h-1zM7 8h2v1h-2zM10 8h1v1h-1zM14 8h4v1h-4zM21 8h2v1h-2zM24 8h1v1h-1zM36 8h2v1h-2zM39 8h1v1h-1zM42 8h1v1h-1zM47 8h1v1h-1zM50 8h4v1h-4zM55 8h1v1h-1zM57 8h2v1h-2zM61 8h1v1h-1zM3 9h3v1h-3zM16 9h1v1h-1zM36 9h2v1h-2zM43 9h3v1h-3zM47 9h1v1h-1zM50 9h1v1h-1zM52 9h1v1h-1zM54 9h1v1h-1zM56 9h1v1h-1zM0 10h1v1h-1zM3 10h1v1h-1zM6 10h1v1h-1zM8 10h1v1h-1zM15 10h3v1h-3zM22 10h2v1h-2zM37 10h1v1h-1zM39 10h3v1h-3zM45 10h1v1h-1zM48 10h1v1h-1zM50 10h2v1h-2zM53 10h2v1h-2zM57 10h1v1h-1zM2 11h1v1h-1zM11 11h1v1h-1zM13 11h1v1h-1zM17 11h2v1h-2zM21 11h1v1h-1zM34 11h2v1h-2zM38 11h1v1h-1zM40 11h1v1h-1zM43 11h1v1h-1zM47 11h2v1h-2zM51 11h1v1h-1zM54 11h2v1h-2zM59 11h1v1h-1zM5 12h1v1h-1zM9 12h1v1h-1zM13 12h2v1h-2zM16 12h1v1h-1zM20 12h1v1h-1zM24 12h2v1h-2zM30 12h1v1h-1zM37 12h1v1h-1zM41 12h1v1h-1zM43 12h1v1h-1zM49 12h3v1h-3zM54 12h1v1h-1zM58 12h1v1h-1zM15 13h1v1h-1zM18 13h2v1h-2zM22 13h3v1h-3zM35 13h1v1h-1zM37 13h1v1h-1zM41 13h1v1h-1zM50 13h1v1h-1zM0 14h1v1h-1zM18 14h2v1h-2zM22 14h3v1h-3zM34 14h1v1h-1zM40 14h1v1h-1zM48 14h1v1h-1zM56 14h1v1h-1zM21 15h2v1h-2zM37 15h1v1h-1zM43 15h1v1h-1zM59 15h1v1h-1zM17 16h2v1h-2zM21 16h1v1h-1zM25 16h1v1h-1zM28 16h2v1h-2zM34 16h1v1h-1zM45 16h1v1h-1zM52 16h1v1h-1zM55 16h2v1h-2zM58 16h1v1h-1zM1 17h1v1h-1zM13 17h1v1h-1zM18 17h1v1h-1zM22 17h1v1h-1zM24 17h6v1h-6zM33 17h1v1h-1zM47 17h1v1h-1zM61 17h1v1h-1zM5 18h1v1h-1zM18 18h1v1h-1zM27 18h1v1h-1zM31 18h1v1h-1zM40 18h2v1h-2zM43 18h1v1h-1zM57 18h1v1h-1zM59 18h1v1h-1zM61 18h1v1h-1zM6 19h1v1h-1zM9 19h1v1h-1zM11 19h1v1h-1zM16 19h1v1h-1zM32 19h1v1h-1zM37 19h1v1h-1zM39 19h2v1h-2zM45 19h1v1h-1zM59 19h1v1h-1zM15 20h1v1h-1zM27 20h1v1h-1zM30 20h2v1h-2zM34 20h1v1h-1zM37 20h1v1h-1zM44 20h2v1h-2zM58 20h1v1h-1zM61 20h1v1h-1zM1 21h2v1h-2zM14 21h1v1h-1zM16 21h1v1h-1zM21 21h1v1h-1zM23 21h1v1h-1zM26 21h1v1h-1zM31 21h1v1h-1zM34 21h1v1h-1zM36 21h2v1h-2zM61 21h1v1h-1zM2 22h1v1h-1zM6 22h1v1h-1zM8 22h1v1h-1zM11 22h1v1h-1zM14 22h1v1h-1zM17 22h1v1h-1zM21 22h1v1h-1zM26 22h1v1h-1zM28 22h1v1h-1zM30 22h1v1h-1zM32 22h2v1h-2zM38 22h1v1h-1zM6 23h2v1h-2zM12 23h2v1h-2zM15 23h1v1h-1zM18 23h1v1h-1zM46 23h1v1h-1zM2 24h2v1h-2zM13 24h2v1h-2zM17 24h1v1h-1zM19 24h1v1h-1zM26 24h1v1h-1zM29 24h1v1h-1zM34 24h1v1h-1zM1 25h2v1h-2zM8 25h1v1h-1zM12 25h1v1h-1zM20 25h1v1h-1zM30 25h1v1h-1zM44 25h1v1h-1zM1 26h2v1h-2zM4 26h1v1h-1zM10 26h1v1h-1zM12 26h2v1h-2zM22 26h1v1h-1zM44 26h2v1h-2zM51 26h1v1h-1zM61 26h1v1h-1zM1 27h1v1h-1zM13 27h2v1h-2zM17 27h1v1h-1zM19 27h1v1h-1zM22 27h1v1h-1zM30 27h1v1h-1zM43 27h1v1h-1zM58 27h1v1h-1zM1 28h2v1h-2zM4 28h1v1h-1zM12 28h1v1h-1zM16 28h1v1h-1zM18 28h2v1h-2zM21 28h2v1h-2zM60 28h2v1h-2zM1 29h1v1h-1zM4 29h1v1h-1zM7 29h1v1h-1zM9 29h3v1h-3zM15 29h1v1h-1zM17 29h2v1h-2zM20 29h1v1h-1zM22 29h1v1h-1zM28 29h2v1h-2zM56 29h4v1h-4zM1 30h1v1h-1zM6 30h1v1h-1zM9 30h1v1h-1zM12 30h1v1h-1zM14 30h3v1h-3zM20 30h1v1h-1zM27 30h1v1h-1zM48 30h1v1h-1zM50 30h1v1h-1zM59 30h1v1h-1zM1 31h3v1h-3zM5 31h1v1h-1zM7 31h2v1h-2zM11 31h1v1h-1zM14 31h2v1h-2zM19 31h2v1h-2zM22 31h1v1h-1zM49 31h1v1h-1zM55 31h6v1h-6zM0 32h1v1h-1zM5 32h2v1h-2zM9 32h2v1h-2zM13 32h4v1h-4zM18 32h1v1h-1zM20 32h1v1h-1zM25 32h2v1h-2zM28 32h2v1h-2zM51 32h1v1h-1zM55 32h4v1h-4zM60 32h1v1h-1zM0 33h1v1h-1zM3 33h1v1h-1zM8 33h4v1h-4zM14 33h1v1h-1zM16 33h1v1h-1zM30 33h1v1h-1zM50 33h1v1h-1zM0 34h1v1h-1zM4 34h1v1h-1zM6 34h5v1h-5zM13 34h4v1h-4zM18 34h1v1h-1zM26 34h1v1h-1zM31 34h1v1h-1zM45 34h1v1h-1zM51 34h1v1h-1zM58 34h1v1h-1zM0 35h1v1h-1zM2 35h1v1h-1zM4 35h1v1h-1zM6 35h2v1h-2zM9 35h1v1h-1zM11 35h1v1h-1zM13 35h2v1h-2zM16 35h3v1h-3zM20 35h1v1h-1zM24 35h1v1h-1zM29 35h2v1h-2zM50 35h1v1h-1zM52 35h1v1h-1zM3 36h1v1h-1zM14 36h1v1h-1zM17 36h1v1h-1zM28 36h1v1h-1zM60 36h1v1h-1zM2 37h1v1h-1zM5 37h1v1h-1zM7 37h1v1h-1zM10 37h2v1h-2zM15 37h2v1h-2zM30 37h1v1h-1zM57 37h1v1h-1zM0 38h1v1h-1zM5 38h1v1h-1zM10 38h1v1h-1zM12 38h3v1h-3zM25 38h1v1h-1zM45 38h1v1h-1zM0 39h1v1h-1zM7 39h1v1h-1zM12 39h2v1h-2zM17 39h1v1h-1zM40 39h1v1h-1zM58 39h1v1h-1zM2 40h2v1h-2zM6 40h1v1h-1zM9 40h1v1h-1zM13 40h1v1h-1zM15 41h1v1h-1zM19 41h1v1h-1zM39 41h1v1h-1zM42 41h1v1h-1zM0 42h1v1h-1zM2 42h1v1h-1zM4 42h2v1h-2zM10 42h1v1h-1zM12 42h1v1h-1zM15 42h1v1h-1zM23 42h1v1h-1zM40 42h1v1h-1zM1 43h1v1h-1zM4 43h1v1h-1zM6 43h1v1h-1zM9 43h1v1h-1zM14 43h1v1h-1zM16 43h1v1h-1zM22 43h1v1h-1zM39 43h1v1h-1zM41 43h1v1h-1zM58 43h2v1h-2zM1 44h1v1h-1zM7 44h1v1h-1zM12 44h2v1h-2zM15 44h2v1h-2zM19 44h1v1h-1zM22 44h1v1h-1zM40 44h3v1h-3zM55 44h1v1h-1zM3 45h1v1h-1zM6 45h1v1h-1zM8 45h1v1h-1zM10 45h3v1h-3zM16 45h1v1h-1zM22 45h1v1h-1zM42 45h1v1h-1zM57 45h1v1h-1zM60 45h1v1h-1zM0 46h1v1h-1zM3 46h1v1h-1zM5 46h2v1h-2zM9 46h1v1h-1zM12 46h1v1h-1zM15 46h2v1h-2zM18 46h1v1h-1zM20 46h1v1h-1zM22 46h1v1h-1zM32 46h1v1h-1zM44 46h1v1h-1zM58 46h1v1h-1zM1 47h5v1h-5zM7 47h2v1h-2zM13 47h1v1h-1zM15 47h3v1h-3zM19 47h2v1h-2zM23 47h1v1h-1zM32 47h1v1h-1zM35 47h1v1h-1zM44 47h1v1h-1zM58 47h1v1h-1zM1 48h2v1h-2zM9 48h1v1h-1zM12 48h2v1h-2zM15 48h3v1h-3zM21 48h2v1h-2zM27 48h1v1h-1zM1 49h1v1h-1zM5 49h2v1h-2zM9 49h2v1h-2zM12 49h6v1h-6zM23 49h1v1h-1zM25 49h1v1h-1zM27 49h1v1h-1zM31 49h1v1h-1zM3 50h1v1h-1zM5 50h2v1h-2zM10 50h1v1h-1zM13 50h1v1h-1zM15 50h1v1h-1zM19 50h1v1h-1zM21 50h1v1h-1zM23 50h1v1h-1zM25 50h2v1h-2zM30 50h1v1h-1zM1 51h4v1h-4zM9 51h1v1h-1zM12 51h8v1h-8zM22 51h1v1h-1zM25 51h3v1h-3zM29 51h1v1h-1zM0 52h1v1h-1zM9 52h1v1h-1zM12 52h2v1h-2zM16 52h1v1h-1zM19 52h1v1h-1zM23 52h1v1h-1zM25 52h1v1h-1zM27 52h1v1h-1zM55 52h1v1h-1zM1 53h1v1h-1zM3 53h1v1h-1zM5 53h1v1h-1zM7 53h2v1h-2zM11 53h1v1h-1zM19 53h1v1h-1zM23 53h2v1h-2zM26 53h1v1h-1zM28 53h1v1h-1zM50 53h1v1h-1zM0 54h2v1h-2zM3 54h2v1h-2zM9 54h6v1h-6zM16 54h1v1h-1zM18 54h1v1h-1zM20 54h1v1h-1zM22 54h1v1h-1zM24 54h1v1h-1zM28 54h1v1h-1zM30 54h1v1h-1zM32 54h1v1h-1zM48 54h1v1h-1zM0 55h1v1h-1zM2 55h3v1h-3zM6 55h2v1h-2zM11 55h1v1h-1zM13 55h1v1h-1zM17 55h1v1h-1zM20 55h1v1h-1zM24 55h2v1h-2zM50 55h1v1h-1zM0 56h1v1h-1zM2 56h2v1h-2zM5 56h2v1h-2zM9 56h1v1h-1zM11 56h1v1h-1zM17 56h1v1h-1zM25 56h1v1h-1zM27 56h1v1h-1zM39 56h1v1h-1zM48 56h1v1h-1zM50 56h2v1h-2zM54 56h1v1h-1zM0 57h1v1h-1zM3 57h2v1h-2zM6 57h1v1h-1zM8 57h2v1h-2zM17 57h1v1h-1zM24 57h3v1h-3zM31 57h1v1h-1zM50 57h1v1h-1zM5 58h6v1h-6zM12 58h3v1h-3zM20 58h1v1h-1zM22 58h1v1h-1zM25 58h1v1h-1zM27 58h1v1h-1zM31 58h1v1h-1zM45 58h2v1h-2zM51 58h1v1h-1zM2 59h1v1h-1zM6 59h1v1h-1zM9 59h1v1h-1zM13 59h1v1h-1zM16 59h1v1h-1zM19 59h2v1h-2zM22 59h1v1h-1zM26 59h1v1h-1zM45 59h1v1h-1zM49 59h1v1h-1zM4 60h1v1h-1zM9 60h1v1h-1zM14 60h1v1h-1zM19 60h1v1h-1zM21 60h4v1h-4zM39 60h1v1h-1zM47 60h1v1h-1zM52 60h1v1h-1zM0 61h5v1h-5zM16 61h1v1h-1zM20 61h3v1h-3zM27 61h1v1h-1zM30 61h1v1h-1zM37 61h2v1h-2zM42 61h2v1h-2zM51 61h1v1h-1zM53 61h1v1h-1z"/>
<path fill="#ec8636" d="M7 0h1v1h-1zM11 2h1v1h-1zM8 3h1v1h-1zM10 3h1v1h-1zM0 23h1v1h-1zM0 28h1v1h-1zM0 31h1v1h-1zM13 33h1v1h-1zM10 36h1v1h-1zM8 49h1v1h-1zM7 50h1v1h-1zM14 52h1v1h-1zM6 54h1v1h-1zM26 54h1v1h-1zM5 55h1v1h-1zM50 58h1v1h-1z"/>
<path fill="#f2a856" d="M20 0h1v1h-1zM28 0h1v1h-1zM35 0h2v1h-2zM39 0h4v1h-4zM47 0h1v1h-1zM50 0h1v1h-1zM19 1h1v1h-1zM25 1h9v1h-9zM36 1h5v1h-5zM42 1h1v1h-1zM44 1h1v1h-1zM46 1h1v1h-1zM57 1h1v1h-1zM29 2h1v1h-1zM36 2h2v1h-2zM40 2h1v1h-1zM43 2h1v1h-1zM19 3h1v1h-1zM21 3h1v1h-1zM28 3h1v1h-1zM30 3h3v1h-3zM34 3h1v1h-1zM36 3h2v1h-2zM39 3h2v1h-2zM43 3h1v1h-1zM46 3h1v1h-1zM60 3h1v1h-1zM16 4h1v1h-1zM19 4h1v1h-1zM21 4h1v1h-1zM23 4h1v1h-1zM27 4h1v1h-1zM32 4h1v1h-1zM35 4h4v1h-4zM41 4h2v1h-2zM44 4h1v1h-1zM47 4h2v1h-2zM59 4h1v1h-1zM6 5h1v1h-1zM17 5h2v1h-2zM36 5h2v1h-2zM16 6h1v1h-1zM18 6h2v1h-2zM23 6h1v1h-1zM26 6h2v1h-2zM29 6h1v1h-1zM31 6h2v1h-2zM34 6h1v1h-1zM36 6h1v1h-1zM38 6h2v1h-2zM43 6h1v1h-1zM8 7h1v1h-1zM14 7h1v1h-1zM21 7h1v1h-1zM30 7h2v1h-2zM41 7h2v1h-2zM46 7h1v1h-1zM61 7h1v1h-1zM12 8h1v1h-1zM18 8h1v1h-1zM25 8h1v1h-1zM28 8h3v1h-3zM40 8h1v1h-1zM60 8h1v1h-1zM6 9h1v1h-1zM15 9h1v1h-1zM19 9h1v1h-1zM24 9h3v1h-3zM29 9h1v1h-1zM31 9h1v1h-1zM33 9h1v1h-1zM40 9h1v1h-1zM60 9h2v1h-2zM9 10h1v1h-1zM12 10h1v1h-1zM28 10h1v1h-1zM31 10h1v1h-1zM34 10h1v1h-1zM38 10h1v1h-1zM42 10h1v1h-1zM59 10h1v1h-1zM6 11h1v1h-1zM10 11h1v1h-1zM25 11h1v1h-1zM27 11h1v1h-1zM30 11h1v1h-1zM32 11h2v1h-2zM37 11h1v1h-1zM42 11h1v1h-1zM45 11h1v1h-1zM60 11h1v1h-1zM11 12h1v1h-1zM15 12h1v1h-1zM22 12h1v1h-1zM31 12h1v1h-1zM38 12h1v1h-1zM47 12h1v1h-1zM59 12h3v1h-3zM3 13h1v1h-1zM7 13h2v1h-2zM10 13h3v1h-3zM30 13h1v1h-1zM33 13h1v1h-1zM39 13h2v1h-2zM42 13h2v1h-2zM46 13h1v1h-1zM54 13h1v1h-1zM59 13h1v1h-1zM1 14h1v1h-1zM9 14h2v1h-2zM13 14h1v1h-1zM17 14h1v1h-1zM28 14h1v1h-1zM42 14h2v1h-2zM45 14h1v1h-1zM52 14h3v1h-3zM60 14h2v1h-2zM5 15h1v1h-1zM10 15h6v1h-6zM20 15h1v1h-1zM23 15h1v1h-1zM26 15h3v1h-3zM30 15h5v1h-5zM48 15h3v1h-3zM54 15h1v1h-1zM56 15h3v1h-3zM0 16h2v1h-2zM4 16h1v1h-1zM8 16h1v1h-1zM10 16h3v1h-3zM24 16h1v1h-1zM26 16h2v1h-2zM30 16h1v1h-1zM38 16h2v1h-2zM43 16h1v1h-1zM46 16h1v1h-1zM51 16h1v1h-1zM59 16h1v1h-1zM61 16h1v1h-1zM7 17h2v1h-2zM11 17h2v1h-2zM14 17h1v1h-1zM16 17h1v1h-1zM20 17h1v1h-1zM23 17h1v1h-1zM40 17h2v1h-2zM44 17h3v1h-3zM50 17h3v1h-3zM54 17h1v1h-1zM56 17h2v1h-2zM59 17h1v1h-1zM3 18h2v1h-2zM12 18h3v1h-3zM19 18h3v1h-3zM24 18h1v1h-1zM26 18h1v1h-1zM28 18h2v1h-2zM38 18h1v1h-1zM44 18h1v1h-1zM48 18h3v1h-3zM52 18h1v1h-1zM54 18h1v1h-1zM58 18h1v1h-1zM60 18h1v1h-1zM0 19h1v1h-1zM5 19h1v1h-1zM7 19h1v1h-1zM10 19h1v1h-1zM15 19h1v1h-1zM21 19h1v1h-1zM35 19h1v1h-1zM42 19h2v1h-2zM46 19h1v1h-1zM48 19h5v1h-5zM54 19h1v1h-1zM56 19h1v1h-1zM58 19h1v1h-1zM60 19h2v1h-2zM5 20h1v1h-1zM9 20h2v1h-2zM13 20h2v1h-2zM16 20h1v1h-1zM20 20h1v1h-1zM22 20h2v1h-2zM25 20h2v1h-2zM36 20h1v1h-1zM38 20h1v1h-1zM40 20h2v1h-2zM43 20h1v1h-1zM48 20h1v1h-1zM50 20h1v1h-1zM54 20h1v1h-1zM56 20h1v1h-1zM6 21h1v1h-1zM11 21h1v1h-1zM15 21h1v1h-1zM19 21h2v1h-2zM24 21h1v1h-1zM28 21h3v1h-3zM33 21h1v1h-1zM38 21h6v1h-6zM47 21h1v1h-1zM50 21h2v1h-2zM56 21h1v1h-1zM58 21h2v1h-2zM22 22h4v1h-4zM29 22h1v1h-1zM35 22h3v1h-3zM39 22h1v1h-1zM43 22h2v1h-2zM47 22h2v1h-2zM50 22h1v1h-1zM52 22h3v1h-3zM56 22h3v1h-3zM61 22h1v1h-1zM9 23h2v1h-2zM17 23h1v1h-1zM21 23h1v1h-1zM23 23h2v1h-2zM30 23h3v1h-3zM36 23h2v1h-2zM42 23h3v1h-3zM47 23h4v1h-4zM53 23h1v1h-1zM55 23h2v1h-2zM58 23h1v1h-1zM60 23h1v1h-1zM5 24h1v1h-1zM8 24h2v1h-2zM20 24h1v1h-1zM22 24h1v1h-1zM35 24h1v1h-1zM38 24h1v1h-1zM40 24h1v1h-1zM43 24h3v1h-3zM48 24h3v1h-3zM52 24h3v1h-3zM57 24h1v1h-1zM60 24h2v1h-2zM4 25h1v1h-1zM13 25h1v1h-1zM16 25h1v1h-1zM18 25h2v1h-2zM23 25h2v1h-2zM26 25h2v1h-2zM29 25h1v1h-1zM33 25h1v1h-1zM35 25h3v1h-3zM42 25h2v1h-2zM46 25h1v1h-1zM48 25h8v1h-8zM58 25h2v1h-2zM5 26h1v1h-1zM7 26h1v1h-1zM18 26h1v1h-1zM21 26h1v1h-1zM23 26h1v1h-1zM27 26h1v1h-1zM29 26h2v1h-2zM32 26h1v1h-1zM36 26h1v1h-1zM38 26h1v1h-1zM40 26h1v1h-1zM43 26h1v1h-1zM47 26h4v1h-4zM52 26h1v1h-1zM55 26h4v1h-4zM10 27h1v1h-1zM12 27h1v1h-1zM20 27h2v1h-2zM23 27h1v1h-1zM25 27h1v1h-1zM27 27h2v1h-2zM31 27h4v1h-4zM36 27h5v1h-5zM48 27h5v1h-5zM54 27h1v1h-1zM56 27h2v1h-2zM59 27h1v1h-1zM61 27h1v1h-1zM24 28h2v1h-2zM29 28h1v1h-1zM31 28h1v1h-1zM33 28h1v1h-1zM35 28h4v1h-4zM40 28h2v1h-2zM44 28h2v1h-2zM48 28h1v1h-1zM50 28h1v1h-1zM52 28h1v1h-1zM58 28h1v1h-1zM3 29h1v1h-1zM25 29h1v1h-1zM32 29h2v1h-2zM35 29h1v1h-1zM38 29h5v1h-5zM44 29h5v1h-5zM53 29h2v1h-2zM4 30h1v1h-1zM10 30h1v1h-1zM18 30h2v1h-2zM24 30h2v1h-2zM29 30h1v1h-1zM35 30h1v1h-1zM38 30h1v1h-1zM40 30h4v1h-4zM4 31h1v1h-1zM18 31h1v1h-1zM24 31h2v1h-2zM27 31h1v1h-1zM32 31h2v1h-2zM35 31h4v1h-4zM40 31h1v1h-1zM43 31h1v1h-1zM46 31h3v1h-3zM50 31h2v1h-2zM3 32h2v1h-2zM22 32h2v1h-2zM32 32h1v1h-1zM34 32h2v1h-2zM37 32h2v1h-2zM44 32h3v1h-3zM49 32h1v1h-1zM52 32h1v1h-1zM54 32h1v1h-1zM59 32h1v1h-1zM4 33h1v1h-1zM18 33h1v1h-1zM27 33h1v1h-1zM29 33h1v1h-1zM31 33h3v1h-3zM37 33h1v1h-1zM39 33h1v1h-1zM41 33h3v1h-3zM47 33h1v1h-1zM49 33h1v1h-1zM51 33h1v1h-1zM54 33h1v1h-1zM59 33h3v1h-3zM1 34h1v1h-1zM17 34h1v1h-1zM29 34h2v1h-2zM32 34h2v1h-2zM36 34h1v1h-1zM38 34h1v1h-1zM40 34h1v1h-1zM42 34h1v1h-1zM47 34h1v1h-1zM49 34h1v1h-1zM52 34h1v1h-1zM56 34h1v1h-1zM59 34h1v1h-1zM61 34h1v1h-1zM22 35h1v1h-1zM26 35h1v1h-1zM32 35h1v1h-1zM35 35h1v1h-1zM38 35h3v1h-3zM44 35h1v1h-1zM47 35h1v1h-1zM49 35h1v1h-1zM54 35h1v1h-1zM56 35h1v1h-1zM60 35h2v1h-2zM1 36h1v1h-1zM5 36h1v1h-1zM18 36h1v1h-1zM20 36h2v1h-2zM32 36h1v1h-1zM36 36h2v1h-2zM40 36h1v1h-1zM42 36h1v1h-1zM44 36h1v1h-1zM46 36h1v1h-1zM48 36h1v1h-1zM51 36h1v1h-1zM55 36h2v1h-2zM61 36h1v1h-1zM9 37h1v1h-1zM18 37h2v1h-2zM23 37h2v1h-2zM28 37h1v1h-1zM31 37h1v1h-1zM33 37h4v1h-4zM40 37h1v1h-1zM43 37h2v1h-2zM47 37h6v1h-6zM55 37h1v1h-1zM59 37h2v1h-2zM9 38h1v1h-1zM17 38h2v1h-2zM20 38h1v1h-1zM22 38h2v1h-2zM28 38h4v1h-4zM33 38h1v1h-1zM38 38h1v1h-1zM40 38h1v1h-1zM44 38h1v1h-1zM48 38h2v1h-2zM53 38h1v1h-1zM55 38h2v1h-2zM60 38h2v1h-2zM4 39h1v1h-1zM6 39h1v1h-1zM11 39h1v1h-1zM16 39h1v1h-1zM18 39h4v1h-4zM24 39h1v1h-1zM26 39h1v1h-1zM29 39h1v1h-1zM31 39h2v1h-2zM34 39h2v1h-2zM37 39h1v1h-1zM39 39h1v1h-1zM41 39h1v1h-1zM46 39h1v1h-1zM49 39h1v1h-1zM51 39h1v1h-1zM57 39h1v1h-1zM59 39h1v1h-1zM18 40h2v1h-2zM22 40h1v1h-1zM25 40h1v1h-1zM28 40h3v1h-3zM32 40h1v1h-1zM35 40h4v1h-4zM40 40h4v1h-4zM47 40h1v1h-1zM50 40h2v1h-2zM55 40h4v1h-4zM8 41h3v1h-3zM18 41h1v1h-1zM20 41h2v1h-2zM24 41h2v1h-2zM27 41h7v1h-7zM35 41h1v1h-1zM37 41h1v1h-1zM40 41h2v1h-2zM45 41h1v1h-1zM50 41h1v1h-1zM54 41h2v1h-2zM1 42h1v1h-1zM14 42h1v1h-1zM21 42h1v1h-1zM24 42h3v1h-3zM31 42h1v1h-1zM34 42h1v1h-1zM37 42h1v1h-1zM39 42h1v1h-1zM41 42h1v1h-1zM44 42h2v1h-2zM47 42h1v1h-1zM51 42h1v1h-1zM60 42h1v1h-1zM11 43h1v1h-1zM17 43h3v1h-3zM23 43h4v1h-4zM35 43h2v1h-2zM38 43h1v1h-1zM44 43h1v1h-1zM47 43h1v1h-1zM51 43h1v1h-1zM53 43h1v1h-1zM55 43h1v1h-1zM6 44h1v1h-1zM8 44h1v1h-1zM17 44h1v1h-1zM21 44h1v1h-1zM23 44h3v1h-3zM28 44h2v1h-2zM31 44h2v1h-2zM34 44h6v1h-6zM45 44h2v1h-2zM49 44h1v1h-1zM51 44h1v1h-1zM53 44h1v1h-1zM56 44h2v1h-2zM61 44h1v1h-1zM0 45h1v1h-1zM2 45h1v1h-1zM20 45h1v1h-1zM23 45h1v1h-1zM26 45h1v1h-1zM28 45h2v1h-2zM32 45h2v1h-2zM35 45h1v1h-1zM45 45h1v1h-1zM47 45h1v1h-1zM49 45h1v1h-1zM51 45h2v1h-2zM55 45h1v1h-1zM25 46h1v1h-1zM29 46h1v1h-1zM31 46h1v1h-1zM33 46h1v1h-1zM35 46h2v1h-2zM38 46h1v1h-1zM41 46h3v1h-3zM45 46h2v1h-2zM49 46h6v1h-6zM56 46h1v1h-1zM60 46h1v1h-1zM9 47h1v1h-1zM12 47h1v1h-1zM24 47h1v1h-1zM26 47h2v1h-2zM29 47h1v1h-1zM33 47h2v1h-2zM36 47h1v1h-1zM38 47h2v1h-2zM45 47h2v1h-2zM48 47h3v1h-3zM19 48h1v1h-1zM24 48h1v1h-1zM29 48h1v1h-1zM31 48h1v1h-1zM33 48h1v1h-1zM35 48h3v1h-3zM41 48h1v1h-1zM43 48h4v1h-4zM48 48h1v1h-1zM60 48h1v1h-1zM33 49h3v1h-3zM37 49h2v1h-2zM40 49h1v1h-1zM42 49h1v1h-1zM44 49h1v1h-1zM46 49h8v1h-8zM57 49h1v1h-1zM59 49h2v1h-2zM28 50h1v1h-1zM31 50h6v1h-6zM38 50h1v1h-1zM40 50h1v1h-1zM46 50h1v1h-1zM48 50h2v1h-2zM52 50h6v1h-6zM59 50h1v1h-1zM28 51h1v1h-1zM31 51h1v1h-1zM37 51h5v1h-5zM43 51h1v1h-1zM46 51h1v1h-1zM52 51h1v1h-1zM59 51h1v1h-1zM33 52h1v1h-1zM35 52h2v1h-2zM39 52h1v1h-1zM41 52h1v1h-1zM43 52h3v1h-3zM52 52h1v1h-1zM56 52h5v1h-5zM30 53h1v1h-1zM32 53h1v1h-1zM34 53h1v1h-1zM36 53h1v1h-1zM39 53h6v1h-6zM46 53h1v1h-1zM48 53h1v1h-1zM51 53h1v1h-1zM53 53h1v1h-1zM57 53h1v1h-1zM59 53h1v1h-1zM61 53h1v1h-1zM25 54h1v1h-1zM36 54h1v1h-1zM39 54h1v1h-1zM46 54h2v1h-2zM49 54h1v1h-1zM51 54h1v1h-1zM54 54h1v1h-1zM57 54h1v1h-1zM59 54h2v1h-2zM30 55h1v1h-1zM32 55h2v1h-2zM36 55h1v1h-1zM40 55h1v1h-1zM43 55h2v1h-2zM48 55h1v1h-1zM54 55h1v1h-1zM56 55h1v1h-1zM59 55h2v1h-2zM12 56h1v1h-1zM21 56h2v1h-2zM29 56h1v1h-1zM32 56h1v1h-1zM34 56h1v1h-1zM36 56h1v1h-1zM40 56h1v1h-1zM44 56h1v1h-1zM46 56h1v1h-1zM49 56h1v1h-1zM52 56h1v1h-1zM55 56h1v1h-1zM57 56h2v1h-2zM60 56h2v1h-2zM29 57h1v1h-1zM33 57h2v1h-2zM36 57h4v1h-4zM41 57h1v1h-1zM43 57h1v1h-1zM45 57h1v1h-1zM51 57h1v1h-1zM55 57h2v1h-2zM59 57h2v1h-2zM16 58h1v1h-1zM26 58h1v1h-1zM33 58h5v1h-5zM39 58h2v1h-2zM53 58h2v1h-2zM56 58h2v1h-2zM59 58h1v1h-1zM61 58h1v1h-1zM21 59h1v1h-1zM27 59h1v1h-1zM29 59h2v1h-2zM34 59h3v1h-3zM40 59h1v1h-1zM51 59h1v1h-1zM55 59h1v1h-1zM58 59h3v1h-3zM16 60h1v1h-1zM30 60h2v1h-2zM34 60h1v1h-1zM36 60h1v1h-1zM38 60h1v1h-1zM43 60h2v1h-2zM46 60h1v1h-1zM49 60h1v1h-1zM53 60h1v1h-1zM59 60h1v1h-1zM7 61h1v1h-1zM10 61h1v1h-1zM12 61h2v1h-2zM17 61h1v1h-1zM28 61h2v1h-2zM34 61h2v1h-2zM50 61h1v1h-1zM54 61h2v1h-2zM57 61h2v1h-2zM60 61h2v1h-2z"/>
<path fill="#f3b062" d="M23 0h1v1h-1zM31 0h1v1h-1zM33 0h1v1h-1zM37 0h2v1h-2zM35 1h1v1h-1zM30 2h2v1h-2zM33 2h3v1h-3zM38 2h1v1h-1zM41 2h1v1h-1zM33 3h1v1h-1zM35 3h1v1h-1zM31 4h1v1h-1zM30 5h1v1h-1zM38 5h1v1h-1zM40 5h2v1h-2zM22 7h1v1h-1zM30 9h1v1h-1zM31 11h1v1h-1zM3 12h1v1h-1zM6 12h1v1h-1zM31 14h1v1h-1zM4 15h1v1h-1zM55 15h1v1h-1zM13 16h1v1h-1zM42 16h1v1h-1zM15 18h1v1h-1zM4 19h1v1h-1zM20 19h1v1h-1zM57 19h1v1h-1zM21 20h1v1h-1zM53 20h1v1h-1zM55 20h1v1h-1zM59 20h1v1h-1zM52 21h2v1h-2zM41 22h2v1h-2zM46 22h1v1h-1zM55 22h1v1h-1zM59 22h1v1h-1zM4 23h2v1h-2zM20 23h1v1h-1zM33 23h3v1h-3zM38 23h1v1h-1zM51 23h2v1h-2zM10 24h1v1h-1zM36 24h1v1h-1zM39 24h1v1h-1zM47 24h1v1h-1zM55 24h2v1h-2zM21 25h1v1h-1zM38 25h2v1h-2zM41 25h1v1h-1zM57 25h1v1h-1zM6 26h1v1h-1zM37 26h1v1h-1zM39 26h1v1h-1zM54 26h1v1h-1zM44 27h1v1h-1zM55 27h1v1h-1zM43 28h1v1h-1zM47 28h1v1h-1zM49 28h1v1h-1zM37 29h1v1h-1zM37 30h1v1h-1zM39 30h1v1h-1zM54 30h1v1h-1zM39 31h1v1h-1zM41 31h2v1h-2zM52 31h1v1h-1zM33 32h1v1h-1zM41 32h1v1h-1zM34 34h2v1h-2zM37 34h1v1h-1zM43 34h1v1h-1zM46 34h1v1h-1zM41 35h3v1h-3zM45 35h2v1h-2zM35 36h1v1h-1zM41 36h1v1h-1zM45 36h1v1h-1zM49 36h1v1h-1zM27 37h1v1h-1zM32 37h1v1h-1zM37 37h1v1h-1zM45 37h2v1h-2zM54 37h1v1h-1zM61 37h1v1h-1zM19 38h1v1h-1zM34 38h3v1h-3zM47 38h1v1h-1zM51 38h2v1h-2zM22 39h1v1h-1zM44 39h2v1h-2zM48 39h1v1h-1zM50 39h1v1h-1zM52 39h2v1h-2zM12 40h1v1h-1zM17 40h1v1h-1zM34 40h1v1h-1zM44 40h1v1h-1zM48 40h1v1h-1zM52 40h2v1h-2zM17 41h1v1h-1zM23 41h1v1h-1zM46 41h2v1h-2zM49 41h1v1h-1zM51 41h1v1h-1zM29 42h2v1h-2zM33 42h1v1h-1zM35 42h1v1h-1zM48 42h2v1h-2zM52 42h1v1h-1zM7 43h1v1h-1zM29 43h1v1h-1zM31 43h1v1h-1zM48 43h2v1h-2zM52 43h1v1h-1zM54 43h1v1h-1zM30 44h1v1h-1zM47 44h2v1h-2zM50 44h1v1h-1zM52 44h1v1h-1zM54 44h1v1h-1zM34 45h1v1h-1zM37 45h1v1h-1zM46 45h1v1h-1zM48 45h1v1h-1zM50 45h1v1h-1zM19 46h1v1h-1zM28 46h1v1h-1zM34 46h1v1h-1zM61 46h1v1h-1zM37 47h1v1h-1zM51 47h1v1h-1zM54 47h2v1h-2zM34 48h1v1h-1zM50 48h1v1h-1zM53 48h1v1h-1zM36 49h1v1h-1zM39 49h1v1h-1zM55 49h1v1h-1zM39 50h1v1h-1zM43 50h1v1h-1zM51 50h1v1h-1zM36 51h1v1h-1zM50 51h1v1h-1zM60 51h2v1h-2zM34 52h1v1h-1zM38 52h1v1h-1zM46 52h1v1h-1zM37 53h1v1h-1zM45 53h1v1h-1zM52 53h1v1h-1zM35 54h1v1h-1zM38 54h1v1h-1zM40 54h2v1h-2zM44 54h1v1h-1zM56 54h1v1h-1zM58 54h1v1h-1zM35 55h1v1h-1zM37 55h2v1h-2zM41 55h1v1h-1zM57 55h1v1h-1zM30 56h1v1h-1zM33 56h1v1h-1zM35 56h1v1h-1zM37 56h1v1h-1zM41 56h2v1h-2zM59 56h1v1h-1zM40 57h1v1h-1zM42 57h1v1h-1zM58 57h1v1h-1zM61 57h1v1h-1zM32 58h1v1h-1zM58 58h1v1h-1zM14 59h1v1h-1zM38 59h2v1h-2zM54 59h1v1h-1zM57 59h1v1h-1zM32 60h2v1h-2zM41 60h1v1h-1zM56 61h1v1h-1z"/>
<path fill="#f4b96f" d="M34 1h1v1h-1zM34 25h1v1h-1zM56 25h1v1h-1zM50 29h1v1h-1zM38 33h1v1h-1zM39 34h1v1h-1zM48 41h1v1h-1zM53 41h1v1h-1zM50 42h1v1h-1zM45 43h1v1h-1zM50 43h1v1h-1zM30 45h1v1h-1zM38 53h1v1h-1zM37 54h1v1h-1z"/>
</g>
</g>
<rect x="1608.7" y="711.2" width="517.3" height="523.2" fill="none" stroke="#6a5030" stroke-width="2.6"/>
<linearGradient id="cbe" x1="0" y1="0" x2="0" y2="1"><stop offset="0" stop-color="#f6f1dc"/><stop offset="0.12" stop-color="#f2dfb0"/><stop offset="0.25" stop-color="#f0c27e"/><stop offset="0.4" stop-color="#f2a44a"/><stop offset="0.52" stop-color="#f08a30"/><stop offset="0.62" stop-color="#ec5f30"/><stop offset="0.72" stop-color="#e2303a"/><stop offset="0.8" stop-color="#b8222e"/><stop offset="0.88" stop-color="#6a1a1e"/><stop offset="1" stop-color="#1c0a0c"/></linearGradient>
<rect x="1419.1" y="798.7" width="28.0" height="400.0999999999999" fill="url(#cbe)" stroke="#1a1a1a" stroke-width="3"/>
<linearGradient id="cbf" x1="0" y1="0" x2="0" y2="1"><stop offset="0" stop-color="#f6f1dc"/><stop offset="0.12" stop-color="#f2dfb0"/><stop offset="0.25" stop-color="#f0c27e"/><stop offset="0.4" stop-color="#f2a44a"/><stop offset="0.52" stop-color="#f08a30"/><stop offset="0.62" stop-color="#ec5f30"/><stop offset="0.72" stop-color="#e2303a"/><stop offset="0.8" stop-color="#b8222e"/><stop offset="0.88" stop-color="#6a1a1e"/><stop offset="1" stop-color="#1c0a0c"/></linearGradient>
<rect x="2156.7" y="794" width="28.90000000000009" height="411" fill="url(#cbf)" stroke="#1a1a1a" stroke-width="3"/>
<text x="799.83" y="708.10" font-size="59" fill="#3f3f3f" textLength="32.90" lengthAdjust="spacingAndGlyphs" >e</text>
<text x="1517.75" y="708.20" font-size="58" fill="#3f3f3f" textLength="17.61" lengthAdjust="spacingAndGlyphs" >f</text>
<text x="1210.28" y="747.40" font-size="33" fill="#f8e4e6" textLength="151.36" lengthAdjust="spacingAndGlyphs" >Reference</text>
<text x="2060.56" y="753.60" font-size="33.4" fill="#fbead4" textLength="60.09" lengthAdjust="spacingAndGlyphs" >2-Cl</text>
<rect x="1291.3" y="1216.5" width="86" height="4" fill="#fbf2f2"/>
<rect x="2035.1" y="1217" width="83.3" height="4" fill="#fdf6ea"/>
<text x="1302.95" y="1202.50" font-size="33" fill="#f8eaec" textLength="72.08" lengthAdjust="spacingAndGlyphs" >8 μm</text>
<text x="2041.86" y="1203.20" font-size="33" fill="#fcefd8" textLength="71.55" lengthAdjust="spacingAndGlyphs" >8 μm</text>
<text x="1394.49" y="734.40" font-size="27.8" fill="#262626" textLength="103.89" lengthAdjust="spacingAndGlyphs" >Intensity</text>
<text x="2135.46" y="738.00" font-size="27.5" fill="#262626" textLength="105.12" lengthAdjust="spacingAndGlyphs" >Intensity</text>
<text x="1415.63" y="781.50" font-size="27.5" fill="#262626" textLength="36.49" lengthAdjust="spacingAndGlyphs" >1.0</text>
<text x="1413.73" y="1236.20" font-size="28" fill="#262626" textLength="37.32" lengthAdjust="spacingAndGlyphs" >0.0</text>
<text x="2152.21" y="776.20" font-size="27.5" fill="#262626" textLength="36.82" lengthAdjust="spacingAndGlyphs" >1.0</text>
<text x="2152.02" y="1242.70" font-size="28" fill="#262626" textLength="37.63" lengthAdjust="spacingAndGlyphs" >0.0</text>
</svg>
</body></html>
